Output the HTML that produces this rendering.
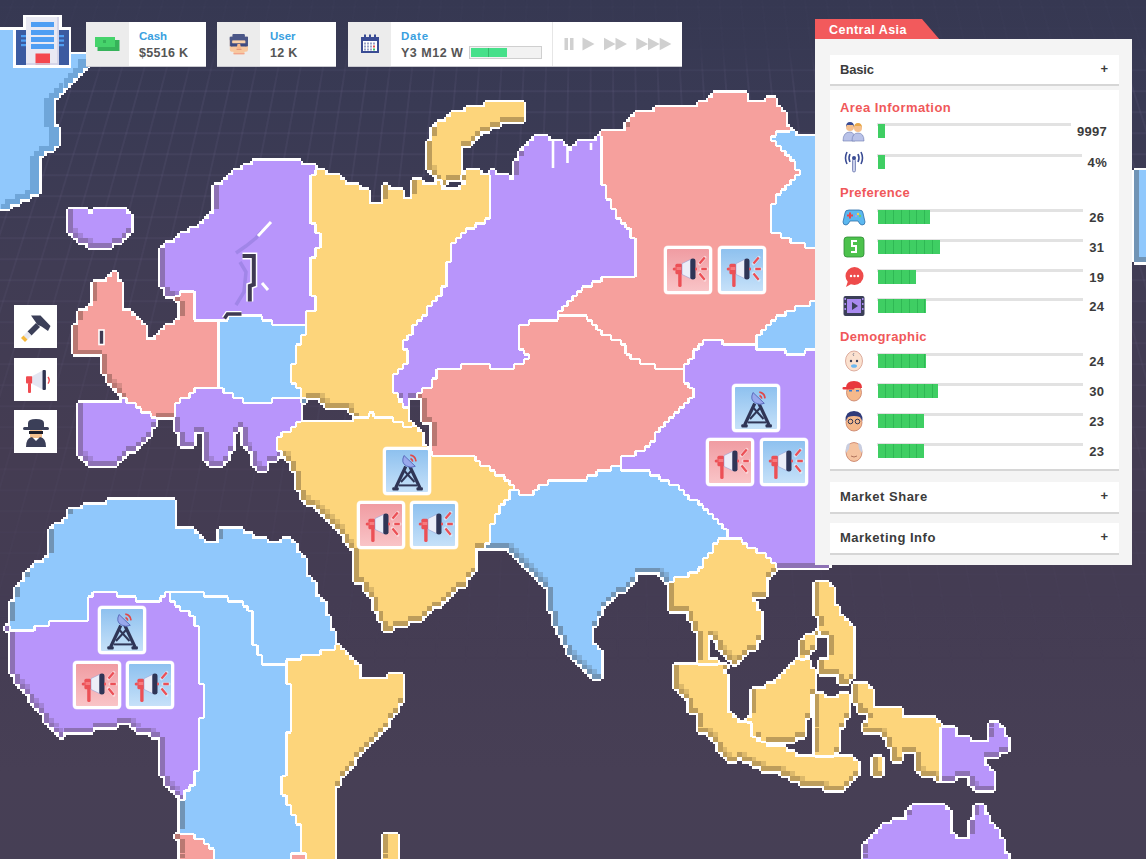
<!DOCTYPE html>
<html><head><meta charset="utf-8">
<style>
*{box-sizing:border-box;margin:0;padding:0}
html,body{width:1146px;height:859px;overflow:hidden}
body{position:relative;font-family:"Liberation Sans",sans-serif;background:linear-gradient(180deg,#363852 0%,#393a54 12%,#403c54 31%,#443c52 52%,#443c53 70%,#473f55 90%,#463f55 100%)}
.abs{position:absolute}
#grid{position:absolute;left:0;top:0}
#map{position:absolute;left:0;top:0}
.hud{position:absolute;top:22px;height:44px;background:#fff;box-shadow:0 1px 0 #c9c9d0}
.hud .ic{position:absolute;left:0;top:0;bottom:0;width:43px;background:#ececec}
.hud .lb{position:absolute;left:53px;top:8.2px;font-size:11.5px;font-weight:bold;color:#3a9fdf}
.hud .vl{position:absolute;left:53px;top:24.3px;font-size:12.5px;letter-spacing:.3px;font-weight:bold;color:#555}
.btn{position:absolute;left:14px;width:43px;height:43px;background:#fff}
.mk{position:absolute;width:48px;height:48px;border-radius:4px;background:#fff;padding:3px}
.mk .in{width:100%;height:100%;border-radius:1px}
.mk{box-shadow:0 0 0 0.5px rgba(255,255,255,.6)}
.mk.p .in{background:linear-gradient(180deg,#f09ca2,#f9c4c7)}
.mk.b .in{background:linear-gradient(180deg,#8ec1ef,#c6e1f9)}

#panel{position:absolute;left:815px;top:39px;width:317px;height:526px;background:#f4f4f4}
#tab{position:absolute;left:815px;top:19px;width:125px;height:21px}
.box{position:absolute;left:15px;width:289px;background:#fff;box-shadow:0 2px 0 #d6d6d6}
.box .t{position:absolute;left:10px;font-size:13px;font-weight:bold;color:#3b3b3b}
.box .pl{position:absolute;right:11px;font-size:13px;font-weight:bold;color:#3b3b3b}
.sec{position:absolute;left:10px;font-size:13px;font-weight:bold;color:#f0585a}
.row{position:absolute;left:0;width:289px;height:16px}
.track{position:absolute;left:47px;top:0;height:3px;background:#e2e2e2}
.fill{position:absolute;left:48px;top:1px;height:14px;background:#3fce63;background-image:repeating-linear-gradient(90deg,rgba(0,0,0,0) 0,rgba(0,0,0,0) 6.9px,rgba(0,120,40,.25) 6.9px,rgba(0,120,40,.25) 7.9px)}
.num{position:absolute;right:12px;top:1px;font-size:13px;letter-spacing:.3px;font-weight:bold;color:#3b3b3b}
.ri{position:absolute;left:12px;top:-4px;width:24px;height:24px}
</style></head><body>
<svg id="grid" width="1146" height="859">
<defs><linearGradient id="gf" x1="0" y1="0" x2="0" y2="1"><stop offset="0.06" stop-color="#fff" stop-opacity="0.2"/><stop offset="0.1" stop-color="#fff" stop-opacity="1"/><stop offset="0.35" stop-color="#fff" stop-opacity="0.75"/><stop offset="0.78" stop-color="#fff" stop-opacity="0"/></linearGradient>
<mask id="gm"><rect width="1146" height="859" fill="url(#gf)"/></mask></defs>
<g stroke="#7a7298" stroke-width="2" stroke-opacity="0.13" mask="url(#gm)">
<line x1="-7.8" y1="0" x2="-340.0" y2="859"/>
<line x1="13.6" y1="0" x2="-306.9" y2="859"/>
<line x1="34.9" y1="0" x2="-273.8" y2="859"/>
<line x1="56.3" y1="0" x2="-240.7" y2="859"/>
<line x1="77.7" y1="0" x2="-207.7" y2="859"/>
<line x1="99.1" y1="0" x2="-174.6" y2="859"/>
<line x1="120.5" y1="0" x2="-141.5" y2="859"/>
<line x1="141.9" y1="0" x2="-108.4" y2="859"/>
<line x1="163.3" y1="0" x2="-75.4" y2="859"/>
<line x1="184.7" y1="0" x2="-42.3" y2="859"/>
<line x1="206.1" y1="0" x2="-9.2" y2="859"/>
<line x1="227.4" y1="0" x2="23.9" y2="859"/>
<line x1="248.8" y1="0" x2="57.0" y2="859"/>
<line x1="270.2" y1="0" x2="90.0" y2="859"/>
<line x1="291.6" y1="0" x2="123.1" y2="859"/>
<line x1="313.0" y1="0" x2="156.2" y2="859"/>
<line x1="334.4" y1="0" x2="189.3" y2="859"/>
<line x1="355.8" y1="0" x2="222.3" y2="859"/>
<line x1="377.2" y1="0" x2="255.4" y2="859"/>
<line x1="398.6" y1="0" x2="288.5" y2="859"/>
<line x1="420.0" y1="0" x2="321.6" y2="859"/>
<line x1="441.3" y1="0" x2="354.6" y2="859"/>
<line x1="462.7" y1="0" x2="387.7" y2="859"/>
<line x1="484.1" y1="0" x2="420.8" y2="859"/>
<line x1="505.5" y1="0" x2="453.9" y2="859"/>
<line x1="526.9" y1="0" x2="487.0" y2="859"/>
<line x1="548.3" y1="0" x2="520.0" y2="859"/>
<line x1="569.7" y1="0" x2="553.1" y2="859"/>
<line x1="591.1" y1="0" x2="586.2" y2="859"/>
<line x1="612.5" y1="0" x2="619.3" y2="859"/>
<line x1="633.8" y1="0" x2="652.3" y2="859"/>
<line x1="655.2" y1="0" x2="685.4" y2="859"/>
<line x1="676.6" y1="0" x2="718.5" y2="859"/>
<line x1="698.0" y1="0" x2="751.6" y2="859"/>
<line x1="719.4" y1="0" x2="784.7" y2="859"/>
<line x1="740.8" y1="0" x2="817.7" y2="859"/>
<line x1="762.2" y1="0" x2="850.8" y2="859"/>
<line x1="783.6" y1="0" x2="883.9" y2="859"/>
<line x1="805.0" y1="0" x2="917.0" y2="859"/>
<line x1="826.4" y1="0" x2="950.0" y2="859"/>
<line x1="847.7" y1="0" x2="983.1" y2="859"/>
<line x1="869.1" y1="0" x2="1016.2" y2="859"/>
<line x1="890.5" y1="0" x2="1049.3" y2="859"/>
<line x1="911.9" y1="0" x2="1082.3" y2="859"/>
<line x1="933.3" y1="0" x2="1115.4" y2="859"/>
<line x1="954.7" y1="0" x2="1148.5" y2="859"/>
<line x1="976.1" y1="0" x2="1181.6" y2="859"/>
<line x1="997.5" y1="0" x2="1214.7" y2="859"/>
<line x1="1018.9" y1="0" x2="1247.7" y2="859"/>
<line x1="1040.2" y1="0" x2="1280.8" y2="859"/>
<line x1="1061.6" y1="0" x2="1313.9" y2="859"/>
<line x1="1083.0" y1="0" x2="1347.0" y2="859"/>
<line x1="1104.4" y1="0" x2="1380.0" y2="859"/>
<line x1="1125.8" y1="0" x2="1413.1" y2="859"/>
<line x1="1147.2" y1="0" x2="1446.2" y2="859"/>
<line x1="0" y1="7.2" x2="1146" y2="7.2"/>
<line x1="0" y1="28.2" x2="1146" y2="28.2"/>
<line x1="0" y1="49.2" x2="1146" y2="49.2"/>
<line x1="0" y1="70.2" x2="1146" y2="70.2"/>
<line x1="0" y1="91.2" x2="1146" y2="91.2"/>
<line x1="0" y1="112.2" x2="1146" y2="112.2"/>
<line x1="0" y1="133.2" x2="1146" y2="133.2"/>
<line x1="0" y1="154.2" x2="1146" y2="154.2"/>
<line x1="0" y1="175.2" x2="1146" y2="175.2"/>
<line x1="0" y1="196.2" x2="1146" y2="196.2"/>
<line x1="0" y1="217.2" x2="1146" y2="217.2"/>
<line x1="0" y1="238.2" x2="1146" y2="238.2"/>
<line x1="0" y1="259.2" x2="1146" y2="259.2"/>
<line x1="0" y1="280.2" x2="1146" y2="280.2"/>
<line x1="0" y1="301.2" x2="1146" y2="301.2"/>
<line x1="0" y1="322.2" x2="1146" y2="322.2"/>
<line x1="0" y1="343.2" x2="1146" y2="343.2"/>
<line x1="0" y1="364.2" x2="1146" y2="364.2"/>
<line x1="0" y1="385.2" x2="1146" y2="385.2"/>
<line x1="0" y1="406.2" x2="1146" y2="406.2"/>
<line x1="0" y1="427.2" x2="1146" y2="427.2"/>
<line x1="0" y1="448.2" x2="1146" y2="448.2"/>
<line x1="0" y1="469.2" x2="1146" y2="469.2"/>
<line x1="0" y1="490.2" x2="1146" y2="490.2"/>
<line x1="0" y1="511.2" x2="1146" y2="511.2"/>
<line x1="0" y1="532.2" x2="1146" y2="532.2"/>
<line x1="0" y1="553.2" x2="1146" y2="553.2"/>
<line x1="0" y1="574.2" x2="1146" y2="574.2"/>
<line x1="0" y1="595.2" x2="1146" y2="595.2"/>
<line x1="0" y1="616.2" x2="1146" y2="616.2"/>
<line x1="0" y1="637.2" x2="1146" y2="637.2"/>
<line x1="0" y1="658.2" x2="1146" y2="658.2"/>
<line x1="0" y1="679.2" x2="1146" y2="679.2"/>
<line x1="0" y1="700.2" x2="1146" y2="700.2"/>
<line x1="0" y1="721.2" x2="1146" y2="721.2"/>
<line x1="0" y1="742.2" x2="1146" y2="742.2"/>
<line x1="0" y1="763.2" x2="1146" y2="763.2"/>
<line x1="0" y1="784.2" x2="1146" y2="784.2"/>
<line x1="0" y1="805.2" x2="1146" y2="805.2"/>
<line x1="0" y1="826.2" x2="1146" y2="826.2"/>
<line x1="0" y1="847.2" x2="1146" y2="847.2"/>
</g>
</svg>
<svg id="map" width="1146" height="859" viewBox="0 0 1146 859" shape-rendering="crispEdges">
<path d="M-9.19 29.68H15.04V34.52H-9.19ZM-9.19 34.52H15.04V39.37H-9.19ZM-9.19 39.37H15.04V44.21H-9.19ZM-9.19 44.21H15.04V49.06H-9.19ZM-9.19 49.06H15.04V53.91H-9.19ZM-9.19 53.91H87.73V58.75H-9.19ZM-9.19 58.75H87.73V63.60H-9.19ZM-9.19 63.60H87.73V68.44H-9.19ZM-9.19 68.44H82.88V73.29H-9.19ZM-9.19 73.29H78.04V78.14H-9.19ZM-9.19 78.14H73.19V82.98H-9.19ZM-9.19 82.98H68.34V87.83H-9.19ZM-9.19 87.83H63.50V92.67H-9.19ZM-9.19 92.67H58.65V97.52H-9.19ZM-9.19 97.52H53.81V102.37H-9.19ZM-9.19 102.37H53.81V107.21H-9.19ZM-9.19 107.21H53.81V112.06H-9.19ZM-9.19 112.06H53.81V116.90H-9.19ZM-9.19 116.90H53.81V121.75H-9.19ZM-9.19 121.75H53.81V126.60H-9.19ZM-9.19 126.60H58.65V131.44H-9.19ZM-9.19 131.44H58.65V136.29H-9.19ZM775.86 131.44H795.24V136.29H775.86ZM-9.19 136.29H58.65V141.13H-9.19ZM771.01 136.29H814.63V141.13H771.01ZM-9.19 141.13H58.65V145.98H-9.19ZM775.86 141.13H814.63V145.98H775.86ZM-9.19 145.98H53.81V150.83H-9.19ZM780.71 145.98H814.63V150.83H780.71ZM-9.19 150.83H44.11V155.67H-9.19ZM785.55 150.83H814.63V155.67H785.55ZM-9.19 155.67H39.27V160.52H-9.19ZM790.40 155.67H814.63V160.52H790.40ZM-9.19 160.52H39.27V165.36H-9.19ZM795.24 160.52H814.63V165.36H795.24ZM-9.19 165.36H39.27V170.21H-9.19ZM795.24 165.36H814.63V170.21H795.24ZM-9.19 170.21H39.27V175.06H-9.19ZM800.09 170.21H814.63V175.06H800.09ZM1134.46 170.21H1149.00V175.06H1134.46ZM-9.19 175.06H39.27V179.90H-9.19ZM795.24 175.06H814.63V179.90H795.24ZM1134.46 175.06H1149.00V179.90H1134.46ZM-9.19 179.90H39.27V184.75H-9.19ZM790.40 179.90H814.63V184.75H790.40ZM1134.46 179.90H1149.00V184.75H1134.46ZM-9.19 184.75H39.27V189.59H-9.19ZM785.55 184.75H814.63V189.59H785.55ZM1134.46 184.75H1149.00V189.59H1134.46ZM-9.19 189.59H39.27V194.44H-9.19ZM780.71 189.59H814.63V194.44H780.71ZM1134.46 189.59H1149.00V194.44H1134.46ZM-9.19 194.44H29.58V199.29H-9.19ZM775.86 194.44H814.63V199.29H775.86ZM1134.46 194.44H1149.00V199.29H1134.46ZM-9.19 199.29H19.88V204.13H-9.19ZM775.86 199.29H814.63V204.13H775.86ZM1134.46 199.29H1149.00V204.13H1134.46ZM-9.19 204.13H10.19V208.98H-9.19ZM771.01 204.13H814.63V208.98H771.01ZM1134.46 204.13H1149.00V208.98H1134.46ZM-9.19 208.98H-4.35V213.82H-9.19ZM771.01 208.98H814.63V213.82H771.01ZM1134.46 208.98H1149.00V213.82H1134.46ZM771.01 213.82H814.63V218.67H771.01ZM1134.46 213.82H1149.00V218.67H1134.46ZM771.01 218.67H814.63V223.52H771.01ZM1134.46 218.67H1149.00V223.52H1134.46ZM771.01 223.52H814.63V228.36H771.01ZM1134.46 223.52H1149.00V228.36H1134.46ZM771.01 228.36H814.63V233.21H771.01ZM1134.46 228.36H1149.00V233.21H1134.46ZM780.71 233.21H814.63V238.05H780.71ZM1134.46 233.21H1149.00V238.05H1134.46ZM790.40 238.05H814.63V242.90H790.40ZM1134.46 238.05H1149.00V242.90H1134.46ZM804.94 242.90H819.47V247.75H804.94ZM1134.46 242.90H1149.00V247.75H1134.46ZM1134.46 247.75H1149.00V252.59H1134.46ZM1134.46 252.59H1149.00V257.44H1134.46ZM1134.46 257.44H1149.00V262.28H1134.46ZM809.78 301.05H814.63V305.90H809.78ZM795.24 305.90H814.63V310.74H795.24ZM785.55 310.74H814.63V315.59H785.55ZM228.26 315.59H262.18V320.44H228.26ZM775.86 315.59H814.63V320.44H775.86ZM218.57 320.44H271.88V325.28H218.57ZM771.01 320.44H814.63V325.28H771.01ZM218.57 325.28H305.80V330.13H218.57ZM766.17 325.28H814.63V330.13H766.17ZM218.57 330.13H305.80V334.97H218.57ZM761.32 330.13H814.63V334.97H761.32ZM218.57 334.97H300.95V339.82H218.57ZM756.48 334.97H814.63V339.82H756.48ZM218.57 339.82H300.95V344.67H218.57ZM756.48 339.82H814.63V344.67H756.48ZM218.57 344.67H296.11V349.51H218.57ZM756.48 344.67H819.47V349.51H756.48ZM218.57 349.51H296.11V354.36H218.57ZM785.55 349.51H804.94V354.36H785.55ZM218.57 354.36H296.11V359.20H218.57ZM218.57 359.20H296.11V364.05H218.57ZM218.57 364.05H291.26V368.90H218.57ZM218.57 368.90H291.26V373.74H218.57ZM218.57 373.74H291.26V378.59H218.57ZM218.57 378.59H291.26V383.43H218.57ZM218.57 383.43H296.11V388.28H218.57ZM223.42 388.28H300.95V393.13H223.42ZM233.11 393.13H300.95V397.97H233.11ZM242.80 397.97H271.88V402.82H242.80ZM300.95 397.97H305.80V402.82H300.95ZM611.10 465.82H620.79V470.66H611.10ZM596.56 470.66H649.86V475.51H596.56ZM586.87 475.51H659.56V480.35H586.87ZM548.10 480.35H669.25V485.20H548.10ZM538.41 485.20H678.94V490.05H538.41ZM509.33 490.05H519.02V494.89H509.33ZM533.56 490.05H683.79V494.89H533.56ZM509.33 494.89H688.63V499.74H509.33ZM107.11 499.74H174.96V504.58H107.11ZM504.48 499.74H698.32V504.58H504.48ZM82.88 504.58H174.96V509.43H82.88ZM499.64 504.58H703.17V509.43H499.64ZM68.34 509.43H174.96V514.28H68.34ZM499.64 509.43H708.02V514.28H499.64ZM68.34 514.28H174.96V519.12H68.34ZM494.79 514.28H712.86V519.12H494.79ZM63.50 519.12H174.96V523.97H63.50ZM494.79 519.12H717.71V523.97H494.79ZM53.81 523.97H174.96V528.81H53.81ZM489.95 523.97H722.55V528.81H489.95ZM48.96 528.81H194.34V533.66H48.96ZM218.57 528.81H242.80V533.66H218.57ZM489.95 528.81H727.40V533.66H489.95ZM48.96 533.66H199.19V538.51H48.96ZM218.57 533.66H252.49V538.51H218.57ZM489.95 533.66H727.40V538.51H489.95ZM48.96 538.51H204.03V543.35H48.96ZM218.57 538.51H267.03V543.35H218.57ZM281.57 538.51H291.26V543.35H281.57ZM489.95 538.51H717.71V543.35H489.95ZM48.96 543.35H296.11V548.20H48.96ZM485.10 543.35H712.86V548.20H485.10ZM48.96 548.20H296.11V553.04H48.96ZM509.33 548.20H712.86V553.04H509.33ZM48.96 553.04H300.95V557.89H48.96ZM514.18 553.04H708.02V557.89H514.18ZM44.11 557.89H305.80V562.74H44.11ZM519.02 557.89H703.17V562.74H519.02ZM34.42 562.74H305.80V567.58H34.42ZM523.87 562.74H703.17V567.58H523.87ZM29.58 567.58H305.80V572.43H29.58ZM528.71 567.58H698.32V572.43H528.71ZM24.73 572.43H305.80V577.27H24.73ZM533.56 572.43H635.33V577.27H533.56ZM659.56 572.43H688.63V577.27H659.56ZM24.73 577.27H310.64V582.12H24.73ZM538.41 577.27H635.33V582.12H538.41ZM664.40 577.27H674.09V582.12H664.40ZM19.88 582.12H315.49V586.97H19.88ZM543.25 582.12H630.48V586.97H543.25ZM15.04 586.97H315.49V591.81H15.04ZM548.10 586.97H625.63V591.81H548.10ZM15.04 591.81H92.57V596.66H15.04ZM116.80 591.81H165.26V596.66H116.80ZM170.11 591.81H315.49V596.66H170.11ZM548.10 591.81H615.94V596.66H548.10ZM15.04 596.66H87.73V601.50H15.04ZM136.19 596.66H160.42V601.50H136.19ZM170.11 596.66H320.34V601.50H170.11ZM548.10 596.66H611.10V601.50H548.10ZM10.19 601.50H87.73V606.35H10.19ZM174.96 601.50H325.18V606.35H174.96ZM548.10 601.50H606.25V606.35H548.10ZM10.19 606.35H87.73V611.20H10.19ZM179.80 606.35H325.18V611.20H179.80ZM548.10 606.35H601.40V611.20H548.10ZM10.19 611.20H87.73V616.04H10.19ZM189.49 611.20H325.18V616.04H189.49ZM552.94 611.20H601.40V616.04H552.94ZM10.19 616.04H87.73V620.89H10.19ZM194.34 616.04H330.03V620.89H194.34ZM552.94 616.04H596.56V620.89H552.94ZM10.19 620.89H48.96V625.73H10.19ZM194.34 620.89H330.03V625.73H194.34ZM552.94 620.89H596.56V625.73H552.94ZM10.19 625.73H34.42V630.58H10.19ZM199.19 625.73H330.03V630.58H199.19ZM557.79 625.73H591.71V630.58H557.79ZM199.19 630.58H334.87V635.43H199.19ZM557.79 630.58H591.71V635.43H557.79ZM199.19 635.43H334.87V640.27H199.19ZM562.64 635.43H591.71V640.27H562.64ZM199.19 640.27H334.87V645.12H199.19ZM562.64 640.27H591.71V645.12H562.64ZM199.19 645.12H334.87V649.96H199.19ZM567.48 645.12H596.56V649.96H567.48ZM199.19 649.96H320.34V654.81H199.19ZM567.48 649.96H601.40V654.81H567.48ZM199.19 654.81H300.95V659.66H199.19ZM572.33 654.81H601.40V659.66H572.33ZM199.19 659.66H286.41V664.50H199.19ZM577.17 659.66H601.40V664.50H577.17ZM199.19 664.50H286.41V669.35H199.19ZM582.02 664.50H601.40V669.35H582.02ZM199.19 669.35H286.41V674.19H199.19ZM586.87 669.35H601.40V674.19H586.87ZM199.19 674.19H286.41V679.04H199.19ZM591.71 674.19H601.40V679.04H591.71ZM199.19 679.04H286.41V683.89H199.19ZM204.03 683.89H291.26V688.73H204.03ZM204.03 688.73H291.26V693.58H204.03ZM204.03 693.58H291.26V698.42H204.03ZM204.03 698.42H291.26V703.27H204.03ZM204.03 703.27H291.26V708.12H204.03ZM204.03 708.12H291.26V712.96H204.03ZM204.03 712.96H291.26V717.81H204.03ZM199.19 717.81H291.26V722.65H199.19ZM199.19 722.65H291.26V727.50H199.19ZM199.19 727.50H291.26V732.35H199.19ZM199.19 732.35H286.41V737.19H199.19ZM199.19 737.19H286.41V742.04H199.19ZM199.19 742.04H286.41V746.88H199.19ZM199.19 746.88H286.41V751.73H199.19ZM199.19 751.73H286.41V756.58H199.19ZM199.19 756.58H286.41V761.42H199.19ZM199.19 761.42H286.41V766.27H199.19ZM199.19 766.27H286.41V771.11H199.19ZM194.34 771.11H286.41V775.96H194.34ZM194.34 775.96H281.57V780.81H194.34ZM194.34 780.81H281.57V785.65H194.34ZM189.49 785.65H281.57V790.50H189.49ZM184.65 790.50H281.57V795.34H184.65ZM184.65 795.34H286.41V800.19H184.65ZM179.80 800.19H286.41V805.04H179.80ZM179.80 805.04H291.26V809.88H179.80ZM179.80 809.88H291.26V814.73H179.80ZM179.80 814.73H296.11V819.57H179.80ZM179.80 819.57H296.11V824.42H179.80ZM179.80 824.42H300.95V829.27H179.80ZM179.80 829.27H300.95V834.11H179.80ZM194.34 834.11H300.95V838.96H194.34ZM204.03 838.96H300.95V843.80H204.03ZM208.88 843.80H300.95V848.65H208.88ZM213.72 848.65H300.95V853.50H213.72ZM213.72 853.50H291.26V858.34H213.72ZM213.72 858.34H291.26V863.19H213.72Z" fill="#90c8fc"/>
<path d="M712.86 92.67H746.78V97.52H712.86ZM708.02 97.52H746.78V102.37H708.02ZM766.17 97.52H775.86V102.37H766.17ZM698.32 102.37H775.86V107.21H698.32ZM654.71 107.21H780.71V112.06H654.71ZM635.33 112.06H785.55V116.90H635.33ZM630.48 116.90H785.55V121.75H630.48ZM625.63 121.75H785.55V126.60H625.63ZM625.63 126.60H790.40V131.44H625.63ZM601.40 131.44H775.86V136.29H601.40ZM601.40 136.29H771.01V141.13H601.40ZM601.40 141.13H775.86V145.98H601.40ZM601.40 145.98H780.71V150.83H601.40ZM601.40 150.83H785.55V155.67H601.40ZM601.40 155.67H790.40V160.52H601.40ZM601.40 160.52H795.24V165.36H601.40ZM601.40 165.36H795.24V170.21H601.40ZM601.40 170.21H800.09V175.06H601.40ZM601.40 175.06H795.24V179.90H601.40ZM601.40 179.90H790.40V184.75H601.40ZM606.25 184.75H785.55V189.59H606.25ZM606.25 189.59H780.71V194.44H606.25ZM606.25 194.44H775.86V199.29H606.25ZM611.10 199.29H775.86V204.13H611.10ZM611.10 204.13H771.01V208.98H611.10ZM615.94 208.98H771.01V213.82H615.94ZM615.94 213.82H771.01V218.67H615.94ZM620.79 218.67H771.01V223.52H620.79ZM625.63 223.52H771.01V228.36H625.63ZM630.48 228.36H771.01V233.21H630.48ZM630.48 233.21H780.71V238.05H630.48ZM635.33 238.05H790.40V242.90H635.33ZM635.33 242.90H804.94V247.75H635.33ZM635.33 247.75H819.47V252.59H635.33ZM635.33 252.59H814.63V257.44H635.33ZM635.33 257.44H814.63V262.28H635.33ZM635.33 262.28H814.63V267.13H635.33ZM635.33 267.13H814.63V271.98H635.33ZM111.96 271.98H116.80V276.82H111.96ZM635.33 271.98H814.63V276.82H635.33ZM107.11 276.82H116.80V281.67H107.11ZM601.40 276.82H814.63V281.67H601.40ZM92.57 281.67H121.65V286.51H92.57ZM591.71 281.67H814.63V286.51H591.71ZM92.57 286.51H121.65V291.36H92.57ZM582.02 286.51H814.63V291.36H582.02ZM92.57 291.36H121.65V296.21H92.57ZM179.80 291.36H194.34V296.21H179.80ZM577.17 291.36H814.63V296.21H577.17ZM92.57 296.21H121.65V301.05H92.57ZM174.96 296.21H194.34V301.05H174.96ZM572.33 296.21H819.47V301.05H572.33ZM92.57 301.05H121.65V305.90H92.57ZM179.80 301.05H194.34V305.90H179.80ZM567.48 301.05H809.78V305.90H567.48ZM87.73 305.90H121.65V310.74H87.73ZM179.80 305.90H194.34V310.74H179.80ZM562.64 305.90H795.24V310.74H562.64ZM78.04 310.74H131.34V315.59H78.04ZM179.80 310.74H194.34V315.59H179.80ZM557.79 310.74H785.55V315.59H557.79ZM78.04 315.59H136.19V320.44H78.04ZM179.80 315.59H194.34V320.44H179.80ZM557.79 315.59H775.86V320.44H557.79ZM78.04 320.44H141.03V325.28H78.04ZM174.96 320.44H218.57V325.28H174.96ZM528.71 320.44H771.01V325.28H528.71ZM73.19 325.28H145.88V330.13H73.19ZM165.26 325.28H218.57V330.13H165.26ZM519.02 325.28H766.17V330.13H519.02ZM73.19 330.13H145.88V334.97H73.19ZM160.42 330.13H218.57V334.97H160.42ZM519.02 330.13H761.32V334.97H519.02ZM73.19 334.97H145.88V339.82H73.19ZM155.57 334.97H218.57V339.82H155.57ZM519.02 334.97H756.48V339.82H519.02ZM73.19 339.82H218.57V344.67H73.19ZM519.02 339.82H703.17V344.67H519.02ZM722.55 339.82H756.48V344.67H722.55ZM73.19 344.67H218.57V349.51H73.19ZM519.02 344.67H698.32V349.51H519.02ZM73.19 349.51H218.57V354.36H73.19ZM523.87 349.51H693.48V354.36H523.87ZM102.27 354.36H218.57V359.20H102.27ZM528.71 354.36H693.48V359.20H528.71ZM102.27 359.20H218.57V364.05H102.27ZM523.87 359.20H688.63V364.05H523.87ZM102.27 364.05H218.57V368.90H102.27ZM460.87 364.05H489.95V368.90H460.87ZM514.18 364.05H683.79V368.90H514.18ZM102.27 368.90H218.57V373.74H102.27ZM436.64 368.90H683.79V373.74H436.64ZM107.11 373.74H218.57V378.59H107.11ZM436.64 373.74H683.79V378.59H436.64ZM107.11 378.59H218.57V383.43H107.11ZM431.79 378.59H683.79V383.43H431.79ZM111.96 383.43H218.57V388.28H111.96ZM431.79 383.43H688.63V388.28H431.79ZM116.80 388.28H194.34V393.13H116.80ZM422.10 388.28H693.48V393.13H422.10ZM121.65 393.13H189.49V397.97H121.65ZM417.26 393.13H693.48V397.97H417.26ZM126.50 397.97H179.80V402.82H126.50ZM422.10 397.97H688.63V402.82H422.10ZM136.19 402.82H174.96V407.66H136.19ZM422.10 402.82H683.79V407.66H422.10ZM141.03 407.66H174.96V412.51H141.03ZM422.10 407.66H678.94V412.51H422.10ZM150.73 412.51H174.96V417.36H150.73ZM422.10 412.51H674.09V417.36H422.10ZM422.10 417.36H669.25V422.20H422.10ZM431.79 422.20H664.40V427.05H431.79ZM431.79 427.05H659.56V431.89H431.79ZM431.79 431.89H654.71V436.74H431.79ZM431.79 436.74H654.71V441.59H431.79ZM431.79 441.59H649.86V446.43H431.79ZM431.79 446.43H645.02V451.28H431.79ZM431.79 451.28H635.33V456.12H431.79ZM475.41 456.12H620.79V460.97H475.41ZM480.25 460.97H620.79V465.82H480.25ZM489.95 465.82H611.10V470.66H489.95ZM494.79 470.66H596.56V475.51H494.79ZM504.48 475.51H586.87V480.35H504.48ZM509.33 480.35H548.10V485.20H509.33ZM514.18 485.20H538.41V490.05H514.18ZM519.02 490.05H533.56V494.89H519.02ZM174.96 834.11H194.34V838.96H174.96ZM179.80 838.96H204.03V843.80H179.80ZM179.80 843.80H208.88V848.65H179.80ZM179.80 848.65H213.72V853.50H179.80ZM179.80 853.50H213.72V858.34H179.80ZM291.26 853.50H305.80V858.34H291.26ZM179.80 858.34H213.72V863.19H179.80ZM291.26 858.34H305.80V863.19H291.26Z" fill="#f6a09d"/>
<path d="M485.10 102.37H523.87V107.21H485.10ZM465.72 107.21H523.87V112.06H465.72ZM451.18 112.06H523.87V116.90H451.18ZM446.33 116.90H523.87V121.75H446.33ZM436.64 121.75H499.64V126.60H436.64ZM431.79 126.60H489.95V131.44H431.79ZM431.79 131.44H480.25V136.29H431.79ZM431.79 136.29H475.41V141.13H431.79ZM426.95 141.13H470.56V145.98H426.95ZM426.95 145.98H460.87V150.83H426.95ZM426.95 150.83H460.87V155.67H426.95ZM426.95 155.67H460.87V160.52H426.95ZM426.95 160.52H460.87V165.36H426.95ZM426.95 165.36H460.87V170.21H426.95ZM315.49 170.21H325.18V175.06H315.49ZM431.79 170.21H460.87V175.06H431.79ZM465.72 170.21H480.25V175.06H465.72ZM310.64 175.06H339.72V179.90H310.64ZM436.64 175.06H489.95V179.90H436.64ZM310.64 179.90H344.57V184.75H310.64ZM412.41 179.90H422.10V184.75H412.41ZM436.64 179.90H446.33V184.75H436.64ZM465.72 179.90H489.95V184.75H465.72ZM310.64 184.75H359.10V189.59H310.64ZM383.33 184.75H388.18V189.59H383.33ZM412.41 184.75H441.49V189.59H412.41ZM460.87 184.75H489.95V189.59H460.87ZM310.64 189.59H368.80V194.44H310.64ZM383.33 189.59H402.72V194.44H383.33ZM412.41 189.59H489.95V194.44H412.41ZM310.64 194.44H368.80V199.29H310.64ZM383.33 194.44H402.72V199.29H383.33ZM412.41 194.44H489.95V199.29H412.41ZM310.64 199.29H368.80V204.13H310.64ZM383.33 199.29H489.95V204.13H383.33ZM310.64 204.13H489.95V208.98H310.64ZM310.64 208.98H489.95V213.82H310.64ZM310.64 213.82H489.95V218.67H310.64ZM310.64 218.67H485.10V223.52H310.64ZM315.49 223.52H475.41V228.36H315.49ZM315.49 228.36H465.72V233.21H315.49ZM320.34 233.21H460.87V238.05H320.34ZM320.34 238.05H456.02V242.90H320.34ZM320.34 242.90H451.18V247.75H320.34ZM315.49 247.75H451.18V252.59H315.49ZM315.49 252.59H451.18V257.44H315.49ZM310.64 257.44H451.18V262.28H310.64ZM310.64 262.28H446.33V267.13H310.64ZM310.64 267.13H446.33V271.98H310.64ZM310.64 271.98H446.33V276.82H310.64ZM310.64 276.82H446.33V281.67H310.64ZM310.64 281.67H446.33V286.51H310.64ZM310.64 286.51H441.49V291.36H310.64ZM310.64 291.36H441.49V296.21H310.64ZM315.49 296.21H436.64V301.05H315.49ZM315.49 301.05H431.79V305.90H315.49ZM315.49 305.90H426.95V310.74H315.49ZM305.80 310.74H426.95V315.59H305.80ZM305.80 315.59H422.10V320.44H305.80ZM305.80 320.44H417.26V325.28H305.80ZM305.80 325.28H412.41V330.13H305.80ZM305.80 330.13H412.41V334.97H305.80ZM300.95 334.97H407.56V339.82H300.95ZM300.95 339.82H402.72V344.67H300.95ZM296.11 344.67H402.72V349.51H296.11ZM296.11 349.51H407.56V354.36H296.11ZM296.11 354.36H407.56V359.20H296.11ZM296.11 359.20H407.56V364.05H296.11ZM291.26 364.05H402.72V368.90H291.26ZM291.26 368.90H397.87V373.74H291.26ZM291.26 373.74H393.03V378.59H291.26ZM291.26 378.59H393.03V383.43H291.26ZM296.11 383.43H393.03V388.28H296.11ZM300.95 388.28H393.03V393.13H300.95ZM300.95 393.13H397.87V397.97H300.95ZM320.34 397.97H397.87V402.82H320.34ZM325.18 402.82H402.72V407.66H325.18ZM349.41 407.66H407.56V412.51H349.41ZM354.26 412.51H407.56V417.36H354.26ZM354.26 417.36H407.56V422.20H354.26ZM296.11 422.20H412.41V427.05H296.11ZM291.26 427.05H417.26V431.89H291.26ZM281.57 431.89H422.10V436.74H281.57ZM276.72 436.74H422.10V441.59H276.72ZM276.72 441.59H422.10V446.43H276.72ZM276.72 446.43H426.95V451.28H276.72ZM281.57 451.28H431.79V456.12H281.57ZM286.41 456.12H475.41V460.97H286.41ZM291.26 460.97H480.25V465.82H291.26ZM291.26 465.82H489.95V470.66H291.26ZM296.11 470.66H494.79V475.51H296.11ZM296.11 475.51H504.48V480.35H296.11ZM296.11 480.35H509.33V485.20H296.11ZM296.11 485.20H514.18V490.05H296.11ZM300.95 490.05H509.33V494.89H300.95ZM300.95 494.89H509.33V499.74H300.95ZM305.80 499.74H504.48V504.58H305.80ZM315.49 504.58H499.64V509.43H315.49ZM320.34 509.43H499.64V514.28H320.34ZM325.18 514.28H494.79V519.12H325.18ZM330.03 519.12H494.79V523.97H330.03ZM334.87 523.97H489.95V528.81H334.87ZM339.72 528.81H489.95V533.66H339.72ZM344.57 533.66H489.95V538.51H344.57ZM344.57 538.51H489.95V543.35H344.57ZM717.71 538.51H741.94V543.35H717.71ZM349.41 543.35H485.10V548.20H349.41ZM712.86 543.35H746.78V548.20H712.86ZM354.26 548.20H475.41V553.04H354.26ZM712.86 548.20H756.48V553.04H712.86ZM354.26 553.04H475.41V557.89H354.26ZM708.02 553.04H766.17V557.89H708.02ZM354.26 557.89H475.41V562.74H354.26ZM703.17 557.89H771.01V562.74H703.17ZM354.26 562.74H475.41V567.58H354.26ZM703.17 562.74H775.86V567.58H703.17ZM354.26 567.58H475.41V572.43H354.26ZM698.32 567.58H775.86V572.43H698.32ZM354.26 572.43H470.56V577.27H354.26ZM688.63 572.43H771.01V577.27H688.63ZM354.26 577.27H465.72V582.12H354.26ZM674.09 577.27H766.17V582.12H674.09ZM363.95 582.12H465.72V586.97H363.95ZM669.25 582.12H766.17V586.97H669.25ZM814.63 582.12H829.17V586.97H814.63ZM363.95 586.97H456.02V591.81H363.95ZM669.25 586.97H766.17V591.81H669.25ZM814.63 586.97H834.01V591.81H814.63ZM368.80 591.81H451.18V596.66H368.80ZM669.25 591.81H766.17V596.66H669.25ZM814.63 591.81H834.01V596.66H814.63ZM373.64 596.66H446.33V601.50H373.64ZM669.25 596.66H751.63V601.50H669.25ZM814.63 596.66H834.01V601.50H814.63ZM373.64 601.50H441.49V606.35H373.64ZM669.25 601.50H756.48V606.35H669.25ZM814.63 601.50H834.01V606.35H814.63ZM373.64 606.35H431.79V611.20H373.64ZM669.25 606.35H756.48V611.20H669.25ZM814.63 606.35H838.86V611.20H814.63ZM378.49 611.20H426.95V616.04H378.49ZM688.63 611.20H761.32V616.04H688.63ZM814.63 611.20H838.86V616.04H814.63ZM378.49 616.04H422.10V620.89H378.49ZM688.63 616.04H761.32V620.89H688.63ZM819.47 616.04H843.70V620.89H819.47ZM383.33 620.89H407.56V625.73H383.33ZM693.48 620.89H761.32V625.73H693.48ZM819.47 620.89H848.55V625.73H819.47ZM383.33 625.73H393.03V630.58H383.33ZM693.48 625.73H761.32V630.58H693.48ZM819.47 625.73H853.40V630.58H819.47ZM698.32 630.58H761.32V635.43H698.32ZM814.63 630.58H853.40V635.43H814.63ZM698.32 635.43H708.02V640.27H698.32ZM712.86 635.43H761.32V640.27H712.86ZM804.94 635.43H814.63V640.27H804.94ZM829.17 635.43H853.40V640.27H829.17ZM698.32 640.27H708.02V645.12H698.32ZM717.71 640.27H756.48V645.12H717.71ZM800.09 640.27H814.63V645.12H800.09ZM829.17 640.27H853.40V645.12H829.17ZM334.87 645.12H339.72V649.96H334.87ZM698.32 645.12H708.02V649.96H698.32ZM717.71 645.12H756.48V649.96H717.71ZM800.09 645.12H814.63V649.96H800.09ZM829.17 645.12H853.40V649.96H829.17ZM320.34 649.96H344.57V654.81H320.34ZM698.32 649.96H708.02V654.81H698.32ZM722.55 649.96H746.78V654.81H722.55ZM800.09 649.96H809.78V654.81H800.09ZM829.17 649.96H853.40V654.81H829.17ZM300.95 654.81H349.41V659.66H300.95ZM698.32 654.81H708.02V659.66H698.32ZM727.40 654.81H741.94V659.66H727.40ZM800.09 654.81H804.94V659.66H800.09ZM829.17 654.81H853.40V659.66H829.17ZM286.41 659.66H354.26V664.50H286.41ZM698.32 659.66H717.71V664.50H698.32ZM732.25 659.66H737.09V664.50H732.25ZM795.24 659.66H809.78V664.50H795.24ZM819.47 659.66H853.40V664.50H819.47ZM286.41 664.50H359.10V669.35H286.41ZM674.09 664.50H727.40V669.35H674.09ZM790.40 664.50H809.78V669.35H790.40ZM819.47 664.50H853.40V669.35H819.47ZM286.41 669.35H359.10V674.19H286.41ZM674.09 669.35H722.55V674.19H674.09ZM785.55 669.35H814.63V674.19H785.55ZM819.47 669.35H853.40V674.19H819.47ZM286.41 674.19H359.10V679.04H286.41ZM388.18 674.19H402.72V679.04H388.18ZM674.09 674.19H727.40V679.04H674.09ZM780.71 674.19H814.63V679.04H780.71ZM838.86 674.19H853.40V679.04H838.86ZM286.41 679.04H402.72V683.89H286.41ZM674.09 679.04H727.40V683.89H674.09ZM775.86 679.04H814.63V683.89H775.86ZM838.86 679.04H848.55V683.89H838.86ZM291.26 683.89H402.72V688.73H291.26ZM674.09 683.89H727.40V688.73H674.09ZM766.17 683.89H814.63V688.73H766.17ZM853.40 683.89H867.93V688.73H853.40ZM291.26 688.73H402.72V693.58H291.26ZM678.94 688.73H727.40V693.58H678.94ZM751.63 688.73H814.63V693.58H751.63ZM853.40 688.73H872.78V693.58H853.40ZM291.26 693.58H402.72V698.42H291.26ZM683.79 693.58H727.40V698.42H683.79ZM751.63 693.58H809.78V698.42H751.63ZM814.63 693.58H824.32V698.42H814.63ZM838.86 693.58H848.55V698.42H838.86ZM853.40 693.58H872.78V698.42H853.40ZM291.26 698.42H402.72V703.27H291.26ZM688.63 698.42H727.40V703.27H688.63ZM751.63 698.42H809.78V703.27H751.63ZM814.63 698.42H848.55V703.27H814.63ZM853.40 698.42H872.78V703.27H853.40ZM291.26 703.27H397.87V708.12H291.26ZM688.63 703.27H727.40V708.12H688.63ZM751.63 703.27H809.78V708.12H751.63ZM814.63 703.27H848.55V708.12H814.63ZM858.24 703.27H872.78V708.12H858.24ZM291.26 708.12H397.87V712.96H291.26ZM688.63 708.12H727.40V712.96H688.63ZM751.63 708.12H809.78V712.96H751.63ZM814.63 708.12H848.55V712.96H814.63ZM858.24 708.12H901.86V712.96H858.24ZM291.26 712.96H393.03V717.81H291.26ZM698.32 712.96H732.25V717.81H698.32ZM751.63 712.96H809.78V717.81H751.63ZM814.63 712.96H848.55V717.81H814.63ZM867.93 712.96H901.86V717.81H867.93ZM291.26 717.81H388.18V722.65H291.26ZM698.32 717.81H737.09V722.65H698.32ZM746.78 717.81H804.94V722.65H746.78ZM814.63 717.81H843.70V722.65H814.63ZM867.93 717.81H935.78V722.65H867.93ZM291.26 722.65H388.18V727.50H291.26ZM698.32 722.65H804.94V727.50H698.32ZM814.63 722.65H843.70V727.50H814.63ZM863.09 722.65H940.62V727.50H863.09ZM291.26 727.50H383.33V732.35H291.26ZM698.32 727.50H804.94V732.35H698.32ZM814.63 727.50H838.86V732.35H814.63ZM863.09 727.50H940.62V732.35H863.09ZM286.41 732.35H378.49V737.19H286.41ZM708.02 732.35H804.94V737.19H708.02ZM814.63 732.35H838.86V737.19H814.63ZM882.47 732.35H940.62V737.19H882.47ZM286.41 737.19H373.64V742.04H286.41ZM712.86 737.19H756.48V742.04H712.86ZM761.32 737.19H795.24V742.04H761.32ZM814.63 737.19H838.86V742.04H814.63ZM887.32 737.19H940.62V742.04H887.32ZM286.41 742.04H368.80V746.88H286.41ZM717.71 742.04H766.17V746.88H717.71ZM814.63 742.04H838.86V746.88H814.63ZM887.32 742.04H940.62V746.88H887.32ZM286.41 746.88H363.95V751.73H286.41ZM717.71 746.88H785.55V751.73H717.71ZM814.63 746.88H838.86V751.73H814.63ZM892.16 746.88H940.62V751.73H892.16ZM286.41 751.73H359.10V756.58H286.41ZM722.55 751.73H795.24V756.58H722.55ZM814.63 751.73H834.01V756.58H814.63ZM892.16 751.73H901.86V756.58H892.16ZM916.39 751.73H940.62V756.58H916.39ZM286.41 756.58H354.26V761.42H286.41ZM727.40 756.58H737.09V761.42H727.40ZM741.94 756.58H853.40V761.42H741.94ZM872.78 756.58H882.47V761.42H872.78ZM892.16 756.58H901.86V761.42H892.16ZM916.39 756.58H940.62V761.42H916.39ZM286.41 761.42H354.26V766.27H286.41ZM751.63 761.42H858.24V766.27H751.63ZM872.78 761.42H882.47V766.27H872.78ZM916.39 761.42H940.62V766.27H916.39ZM286.41 766.27H349.41V771.11H286.41ZM761.32 766.27H858.24V771.11H761.32ZM872.78 766.27H882.47V771.11H872.78ZM916.39 766.27H940.62V771.11H916.39ZM286.41 771.11H344.57V775.96H286.41ZM780.71 771.11H858.24V775.96H780.71ZM872.78 771.11H882.47V775.96H872.78ZM921.24 771.11H940.62V775.96H921.24ZM281.57 775.96H339.72V780.81H281.57ZM790.40 775.96H853.40V780.81H790.40ZM935.78 775.96H940.62V780.81H935.78ZM281.57 780.81H339.72V785.65H281.57ZM800.09 780.81H848.55V785.65H800.09ZM281.57 785.65H334.87V790.50H281.57ZM824.32 785.65H843.70V790.50H824.32ZM281.57 790.50H334.87V795.34H281.57ZM286.41 795.34H334.87V800.19H286.41ZM286.41 800.19H334.87V805.04H286.41ZM291.26 805.04H334.87V809.88H291.26ZM291.26 809.88H334.87V814.73H291.26ZM296.11 814.73H334.87V819.57H296.11ZM296.11 819.57H334.87V824.42H296.11ZM300.95 824.42H334.87V829.27H300.95ZM300.95 829.27H334.87V834.11H300.95ZM300.95 834.11H334.87V838.96H300.95ZM383.33 834.11H397.87V838.96H383.33ZM300.95 838.96H334.87V843.80H300.95ZM383.33 838.96H397.87V843.80H383.33ZM300.95 843.80H334.87V848.65H300.95ZM383.33 843.80H397.87V848.65H383.33ZM300.95 848.65H334.87V853.50H300.95ZM383.33 848.65H397.87V853.50H383.33ZM305.80 853.50H334.87V858.34H305.80ZM383.33 853.50H397.87V858.34H383.33ZM305.80 858.34H334.87V863.19H305.80ZM383.33 858.34H397.87V863.19H383.33Z" fill="#fdd57b"/>
<path d="M533.56 136.29H548.10V141.13H533.56ZM596.56 136.29H601.40V141.13H596.56ZM528.71 141.13H562.64V145.98H528.71ZM577.17 141.13H601.40V145.98H577.17ZM523.87 145.98H567.48V150.83H523.87ZM572.33 145.98H601.40V150.83H572.33ZM519.02 150.83H601.40V155.67H519.02ZM519.02 155.67H601.40V160.52H519.02ZM252.49 160.52H300.95V165.36H252.49ZM514.18 160.52H601.40V165.36H514.18ZM242.80 165.36H315.49V170.21H242.80ZM514.18 165.36H601.40V170.21H514.18ZM233.11 170.21H315.49V175.06H233.11ZM489.95 170.21H494.79V175.06H489.95ZM514.18 170.21H601.40V175.06H514.18ZM228.26 175.06H310.64V179.90H228.26ZM489.95 175.06H509.33V179.90H489.95ZM514.18 175.06H601.40V179.90H514.18ZM223.42 179.90H310.64V184.75H223.42ZM489.95 179.90H601.40V184.75H489.95ZM213.72 184.75H310.64V189.59H213.72ZM489.95 184.75H606.25V189.59H489.95ZM213.72 189.59H310.64V194.44H213.72ZM489.95 189.59H606.25V194.44H489.95ZM213.72 194.44H310.64V199.29H213.72ZM489.95 194.44H606.25V199.29H489.95ZM213.72 199.29H310.64V204.13H213.72ZM489.95 199.29H611.10V204.13H489.95ZM213.72 204.13H310.64V208.98H213.72ZM489.95 204.13H611.10V208.98H489.95ZM68.34 208.98H87.73V213.82H68.34ZM92.57 208.98H126.50V213.82H92.57ZM213.72 208.98H310.64V213.82H213.72ZM489.95 208.98H615.94V213.82H489.95ZM68.34 213.82H131.34V218.67H68.34ZM208.88 213.82H310.64V218.67H208.88ZM489.95 213.82H615.94V218.67H489.95ZM68.34 218.67H131.34V223.52H68.34ZM204.03 218.67H310.64V223.52H204.03ZM485.10 218.67H620.79V223.52H485.10ZM68.34 223.52H131.34V228.36H68.34ZM199.19 223.52H315.49V228.36H199.19ZM475.41 223.52H625.63V228.36H475.41ZM68.34 228.36H131.34V233.21H68.34ZM189.49 228.36H315.49V233.21H189.49ZM465.72 228.36H630.48V233.21H465.72ZM73.19 233.21H126.50V238.05H73.19ZM179.80 233.21H320.34V238.05H179.80ZM460.87 233.21H630.48V238.05H460.87ZM78.04 238.05H121.65V242.90H78.04ZM174.96 238.05H320.34V242.90H174.96ZM456.02 238.05H635.33V242.90H456.02ZM87.73 242.90H111.96V247.75H87.73ZM165.26 242.90H320.34V247.75H165.26ZM451.18 242.90H635.33V247.75H451.18ZM160.42 247.75H315.49V252.59H160.42ZM451.18 247.75H635.33V252.59H451.18ZM160.42 252.59H315.49V257.44H160.42ZM451.18 252.59H635.33V257.44H451.18ZM160.42 257.44H310.64V262.28H160.42ZM451.18 257.44H635.33V262.28H451.18ZM160.42 262.28H310.64V267.13H160.42ZM446.33 262.28H635.33V267.13H446.33ZM160.42 267.13H310.64V271.98H160.42ZM446.33 267.13H635.33V271.98H446.33ZM160.42 271.98H310.64V276.82H160.42ZM446.33 271.98H635.33V276.82H446.33ZM160.42 276.82H310.64V281.67H160.42ZM446.33 276.82H601.40V281.67H446.33ZM160.42 281.67H310.64V286.51H160.42ZM446.33 281.67H591.71V286.51H446.33ZM165.26 286.51H310.64V291.36H165.26ZM441.49 286.51H582.02V291.36H441.49ZM165.26 291.36H179.80V296.21H165.26ZM194.34 291.36H310.64V296.21H194.34ZM441.49 291.36H577.17V296.21H441.49ZM194.34 296.21H315.49V301.05H194.34ZM436.64 296.21H572.33V301.05H436.64ZM194.34 301.05H315.49V305.90H194.34ZM431.79 301.05H567.48V305.90H431.79ZM194.34 305.90H315.49V310.74H194.34ZM426.95 305.90H562.64V310.74H426.95ZM194.34 310.74H305.80V315.59H194.34ZM426.95 310.74H557.79V315.59H426.95ZM194.34 315.59H228.26V320.44H194.34ZM262.18 315.59H305.80V320.44H262.18ZM422.10 315.59H557.79V320.44H422.10ZM271.88 320.44H305.80V325.28H271.88ZM417.26 320.44H528.71V325.28H417.26ZM412.41 325.28H519.02V330.13H412.41ZM412.41 330.13H519.02V334.97H412.41ZM407.56 334.97H519.02V339.82H407.56ZM402.72 339.82H519.02V344.67H402.72ZM703.17 339.82H722.55V344.67H703.17ZM402.72 344.67H519.02V349.51H402.72ZM698.32 344.67H756.48V349.51H698.32ZM407.56 349.51H523.87V354.36H407.56ZM693.48 349.51H785.55V354.36H693.48ZM804.94 349.51H814.63V354.36H804.94ZM407.56 354.36H528.71V359.20H407.56ZM693.48 354.36H814.63V359.20H693.48ZM407.56 359.20H523.87V364.05H407.56ZM688.63 359.20H814.63V364.05H688.63ZM402.72 364.05H460.87V368.90H402.72ZM489.95 364.05H514.18V368.90H489.95ZM683.79 364.05H814.63V368.90H683.79ZM397.87 368.90H436.64V373.74H397.87ZM683.79 368.90H814.63V373.74H683.79ZM393.03 373.74H436.64V378.59H393.03ZM683.79 373.74H814.63V378.59H683.79ZM393.03 378.59H431.79V383.43H393.03ZM683.79 378.59H814.63V383.43H683.79ZM393.03 383.43H431.79V388.28H393.03ZM688.63 383.43H814.63V388.28H688.63ZM194.34 388.28H223.42V393.13H194.34ZM393.03 388.28H422.10V393.13H393.03ZM693.48 388.28H814.63V393.13H693.48ZM189.49 393.13H233.11V397.97H189.49ZM397.87 393.13H417.26V397.97H397.87ZM693.48 393.13H814.63V397.97H693.48ZM121.65 397.97H126.50V402.82H121.65ZM179.80 397.97H242.80V402.82H179.80ZM271.88 397.97H300.95V402.82H271.88ZM402.72 397.97H407.56V402.82H402.72ZM688.63 397.97H814.63V402.82H688.63ZM78.04 402.82H136.19V407.66H78.04ZM174.96 402.82H300.95V407.66H174.96ZM402.72 402.82H407.56V407.66H402.72ZM683.79 402.82H814.63V407.66H683.79ZM78.04 407.66H141.03V412.51H78.04ZM174.96 407.66H300.95V412.51H174.96ZM678.94 407.66H814.63V412.51H678.94ZM78.04 412.51H150.73V417.36H78.04ZM174.96 412.51H300.95V417.36H174.96ZM674.09 412.51H814.63V417.36H674.09ZM78.04 417.36H155.57V422.20H78.04ZM174.96 417.36H300.95V422.20H174.96ZM669.25 417.36H814.63V422.20H669.25ZM78.04 422.20H155.57V427.05H78.04ZM174.96 422.20H296.11V427.05H174.96ZM664.40 422.20H814.63V427.05H664.40ZM78.04 427.05H150.73V431.89H78.04ZM174.96 427.05H237.95V431.89H174.96ZM242.80 427.05H291.26V431.89H242.80ZM659.56 427.05H814.63V431.89H659.56ZM78.04 431.89H150.73V436.74H78.04ZM179.80 431.89H194.34V436.74H179.80ZM204.03 431.89H233.11V436.74H204.03ZM242.80 431.89H281.57V436.74H242.80ZM654.71 431.89H814.63V436.74H654.71ZM78.04 436.74H145.88V441.59H78.04ZM179.80 436.74H194.34V441.59H179.80ZM204.03 436.74H233.11V441.59H204.03ZM242.80 436.74H276.72V441.59H242.80ZM654.71 436.74H814.63V441.59H654.71ZM78.04 441.59H141.03V446.43H78.04ZM179.80 441.59H194.34V446.43H179.80ZM204.03 441.59H233.11V446.43H204.03ZM242.80 441.59H276.72V446.43H242.80ZM649.86 441.59H814.63V446.43H649.86ZM78.04 446.43H136.19V451.28H78.04ZM204.03 446.43H233.11V451.28H204.03ZM247.65 446.43H276.72V451.28H247.65ZM645.02 446.43H814.63V451.28H645.02ZM78.04 451.28H126.50V456.12H78.04ZM204.03 451.28H228.26V456.12H204.03ZM252.49 451.28H281.57V456.12H252.49ZM635.33 451.28H814.63V456.12H635.33ZM82.88 456.12H121.65V460.97H82.88ZM204.03 456.12H228.26V460.97H204.03ZM252.49 456.12H276.72V460.97H252.49ZM620.79 456.12H814.63V460.97H620.79ZM87.73 460.97H116.80V465.82H87.73ZM208.88 460.97H223.42V465.82H208.88ZM252.49 460.97H267.03V465.82H252.49ZM620.79 460.97H814.63V465.82H620.79ZM257.34 465.82H267.03V470.66H257.34ZM620.79 465.82H814.63V470.66H620.79ZM649.86 470.66H814.63V475.51H649.86ZM659.56 475.51H814.63V480.35H659.56ZM669.25 480.35H814.63V485.20H669.25ZM678.94 485.20H814.63V490.05H678.94ZM683.79 490.05H814.63V494.89H683.79ZM688.63 494.89H814.63V499.74H688.63ZM698.32 499.74H814.63V504.58H698.32ZM703.17 504.58H814.63V509.43H703.17ZM708.02 509.43H814.63V514.28H708.02ZM712.86 514.28H814.63V519.12H712.86ZM717.71 519.12H814.63V523.97H717.71ZM722.55 523.97H814.63V528.81H722.55ZM727.40 528.81H814.63V533.66H727.40ZM727.40 533.66H814.63V538.51H727.40ZM741.94 538.51H814.63V543.35H741.94ZM746.78 543.35H814.63V548.20H746.78ZM756.48 548.20H814.63V553.04H756.48ZM766.17 553.04H829.17V557.89H766.17ZM771.01 557.89H829.17V562.74H771.01ZM775.86 562.74H829.17V567.58H775.86ZM92.57 591.81H116.80V596.66H92.57ZM165.26 591.81H170.11V596.66H165.26ZM87.73 596.66H136.19V601.50H87.73ZM160.42 596.66H170.11V601.50H160.42ZM87.73 601.50H174.96V606.35H87.73ZM87.73 606.35H179.80V611.20H87.73ZM87.73 611.20H189.49V616.04H87.73ZM87.73 616.04H194.34V620.89H87.73ZM48.96 620.89H194.34V625.73H48.96ZM5.35 625.73H10.19V630.58H5.35ZM34.42 625.73H199.19V630.58H34.42ZM10.19 630.58H199.19V635.43H10.19ZM10.19 635.43H199.19V640.27H10.19ZM10.19 640.27H199.19V645.12H10.19ZM10.19 645.12H199.19V649.96H10.19ZM10.19 649.96H199.19V654.81H10.19ZM10.19 654.81H199.19V659.66H10.19ZM10.19 659.66H199.19V664.50H10.19ZM10.19 664.50H199.19V669.35H10.19ZM10.19 669.35H199.19V674.19H10.19ZM15.04 674.19H199.19V679.04H15.04ZM15.04 679.04H199.19V683.89H15.04ZM19.88 683.89H204.03V688.73H19.88ZM24.73 688.73H204.03V693.58H24.73ZM29.58 693.58H204.03V698.42H29.58ZM29.58 698.42H204.03V703.27H29.58ZM34.42 703.27H204.03V708.12H34.42ZM39.27 708.12H204.03V712.96H39.27ZM44.11 712.96H204.03V717.81H44.11ZM44.11 717.81H199.19V722.65H44.11ZM48.96 722.65H116.80V727.50H48.96ZM131.34 722.65H199.19V727.50H131.34ZM989.08 722.65H998.78V727.50H989.08ZM53.81 727.50H92.57V732.35H53.81ZM136.19 727.50H199.19V732.35H136.19ZM940.62 727.50H955.16V732.35H940.62ZM989.08 727.50H1003.62V732.35H989.08ZM58.65 732.35H63.50V737.19H58.65ZM150.73 732.35H199.19V737.19H150.73ZM940.62 732.35H955.16V737.19H940.62ZM989.08 732.35H1003.62V737.19H989.08ZM160.42 737.19H199.19V742.04H160.42ZM940.62 737.19H969.70V742.04H940.62ZM989.08 737.19H1008.47V742.04H989.08ZM160.42 742.04H199.19V746.88H160.42ZM940.62 742.04H1008.47V746.88H940.62ZM160.42 746.88H199.19V751.73H160.42ZM940.62 746.88H1008.47V751.73H940.62ZM160.42 751.73H199.19V756.58H160.42ZM940.62 751.73H998.78V756.58H940.62ZM160.42 756.58H199.19V761.42H160.42ZM940.62 756.58H984.24V761.42H940.62ZM160.42 761.42H199.19V766.27H160.42ZM940.62 761.42H984.24V766.27H940.62ZM160.42 766.27H199.19V771.11H160.42ZM940.62 766.27H989.08V771.11H940.62ZM160.42 771.11H194.34V775.96H160.42ZM940.62 771.11H993.93V775.96H940.62ZM165.26 775.96H194.34V780.81H165.26ZM940.62 775.96H955.16V780.81H940.62ZM969.70 775.96H993.93V780.81H969.70ZM165.26 780.81H194.34V785.65H165.26ZM969.70 780.81H993.93V785.65H969.70ZM170.11 785.65H189.49V790.50H170.11ZM974.55 785.65H993.93V790.50H974.55ZM174.96 790.50H184.65V795.34H174.96ZM179.80 795.34H184.65V800.19H179.80ZM911.55 805.04H945.47V809.88H911.55ZM974.55 805.04H984.24V809.88H974.55ZM906.70 809.88H950.32V814.73H906.70ZM974.55 809.88H984.24V814.73H974.55ZM906.70 814.73H950.32V819.57H906.70ZM974.55 814.73H989.08V819.57H974.55ZM892.16 819.57H950.32V824.42H892.16ZM969.70 819.57H989.08V824.42H969.70ZM882.47 824.42H950.32V829.27H882.47ZM969.70 824.42H993.93V829.27H969.70ZM877.63 829.27H950.32V834.11H877.63ZM969.70 829.27H998.78V834.11H969.70ZM872.78 834.11H955.16V838.96H872.78ZM969.70 834.11H998.78V838.96H969.70ZM867.93 838.96H1003.62V843.80H867.93ZM863.09 843.80H1003.62V848.65H863.09ZM863.09 848.65H1003.62V853.50H863.09ZM863.09 853.50H1008.47V858.34H863.09ZM863.09 858.34H1008.47V863.19H863.09Z" fill="#b895fb"/>
<path d="M431.79 165.36h4.846v4.846h-4.846ZM73.19 228.36h4.846v4.846h-4.846ZM78.04 233.21h4.846v4.846h-4.846ZM87.73 238.05h4.846v4.846h-4.846ZM174.96 291.36h4.846v4.846h-4.846ZM111.96 378.59h4.846v4.846h-4.846ZM116.80 383.43h4.846v4.846h-4.846ZM320.34 393.13h4.846v4.846h-4.846ZM325.18 397.97h4.846v4.846h-4.846ZM349.41 402.82h4.846v4.846h-4.846ZM247.65 441.59h4.846v4.846h-4.846ZM82.88 451.28h4.846v4.846h-4.846ZM286.41 451.28h4.846v4.846h-4.846ZM87.73 456.12h4.846v4.846h-4.846ZM208.88 456.12h4.846v4.846h-4.846ZM257.34 460.97h4.846v4.846h-4.846ZM305.80 494.89h4.846v4.846h-4.846ZM315.49 499.74h4.846v4.846h-4.846ZM320.34 504.58h4.846v4.846h-4.846ZM325.18 509.43h4.846v4.846h-4.846ZM330.03 514.28h4.846v4.846h-4.846ZM334.87 519.12h4.846v4.846h-4.846ZM339.72 523.97h4.846v4.846h-4.846ZM349.41 538.51h4.846v4.846h-4.846ZM509.33 543.35h4.846v4.846h-4.846ZM514.18 548.20h4.846v4.846h-4.846ZM519.02 553.04h4.846v4.846h-4.846ZM523.87 557.89h4.846v4.846h-4.846ZM528.71 562.74h4.846v4.846h-4.846ZM533.56 567.58h4.846v4.846h-4.846ZM659.56 567.58h4.846v4.846h-4.846ZM538.41 572.43h4.846v4.846h-4.846ZM664.40 572.43h4.846v4.846h-4.846ZM543.25 577.27h4.846v4.846h-4.846ZM368.80 586.97h4.846v4.846h-4.846ZM712.86 630.58h4.846v4.846h-4.846ZM722.55 645.12h4.846v4.846h-4.846ZM572.33 649.96h4.846v4.846h-4.846ZM727.40 649.96h4.846v4.846h-4.846ZM577.17 654.81h4.846v4.846h-4.846ZM732.25 654.81h4.846v4.846h-4.846ZM582.02 659.66h4.846v4.846h-4.846ZM586.87 664.50h4.846v4.846h-4.846ZM591.71 669.35h4.846v4.846h-4.846ZM19.88 679.04h4.846v4.846h-4.846ZM24.73 683.89h4.846v4.846h-4.846ZM678.94 683.89h4.846v4.846h-4.846ZM683.79 688.73h4.846v4.846h-4.846ZM34.42 698.42h4.846v4.846h-4.846ZM39.27 703.27h4.846v4.846h-4.846ZM48.96 717.81h4.846v4.846h-4.846ZM131.34 717.81h4.846v4.846h-4.846ZM53.81 722.65h4.846v4.846h-4.846ZM136.19 722.65h4.846v4.846h-4.846ZM58.65 727.50h4.846v4.846h-4.846ZM150.73 727.50h4.846v4.846h-4.846ZM708.02 727.50h4.846v4.846h-4.846ZM882.47 727.50h4.846v4.846h-4.846ZM712.86 732.35h4.846v4.846h-4.846ZM722.55 746.88h4.846v4.846h-4.846ZM727.40 751.73h4.846v4.846h-4.846ZM741.94 751.73h4.846v4.846h-4.846ZM751.63 756.58h4.846v4.846h-4.846ZM761.32 761.42h4.846v4.846h-4.846ZM780.71 766.27h4.846v4.846h-4.846ZM921.24 766.27h4.846v4.846h-4.846ZM790.40 771.11h4.846v4.846h-4.846ZM935.78 771.11h4.846v4.846h-4.846ZM800.09 775.96h4.846v4.846h-4.846ZM170.11 780.81h4.846v4.846h-4.846ZM824.32 780.81h4.846v4.846h-4.846ZM974.55 780.81h4.846v4.846h-4.846ZM174.96 785.65h4.846v4.846h-4.846Z" fill="#2a1d10" opacity="0.15"/><path d="M499.64 116.90h4.846v4.846h-4.846ZM504.48 116.90h4.846v4.846h-4.846ZM509.33 116.90h4.846v4.846h-4.846ZM514.18 116.90h4.846v4.846h-4.846ZM519.02 116.90h4.846v4.846h-4.846ZM489.95 121.75h4.846v4.846h-4.846ZM494.79 121.75h4.846v4.846h-4.846ZM625.63 121.75h4.846v4.846h-4.846ZM431.79 126.60h4.846v4.846h-4.846ZM480.25 126.60h4.846v4.846h-4.846ZM485.10 126.60h4.846v4.846h-4.846ZM431.79 131.44h4.846v4.846h-4.846ZM475.41 131.44h4.846v4.846h-4.846ZM470.56 136.29h4.846v4.846h-4.846ZM426.95 141.13h4.846v4.846h-4.846ZM460.87 141.13h4.846v4.846h-4.846ZM465.72 141.13h4.846v4.846h-4.846ZM426.95 145.98h4.846v4.846h-4.846ZM426.95 150.83h4.846v4.846h-4.846ZM519.02 150.83h4.846v4.846h-4.846ZM426.95 155.67h4.846v4.846h-4.846ZM426.95 160.52h4.846v4.846h-4.846ZM514.18 160.52h4.846v4.846h-4.846ZM426.95 165.36h4.846v4.846h-4.846ZM514.18 165.36h4.846v4.846h-4.846ZM431.79 170.21h4.846v4.846h-4.846ZM514.18 170.21h4.846v4.846h-4.846ZM1134.46 170.21h4.846v4.846h-4.846ZM436.64 175.06h4.846v4.846h-4.846ZM446.33 175.06h4.846v4.846h-4.846ZM451.18 175.06h4.846v4.846h-4.846ZM456.02 175.06h4.846v4.846h-4.846ZM460.87 175.06h4.846v4.846h-4.846ZM1134.46 175.06h4.846v4.846h-4.846ZM412.41 179.90h4.846v4.846h-4.846ZM441.49 179.90h4.846v4.846h-4.846ZM1134.46 179.90h4.846v4.846h-4.846ZM213.72 184.75h4.846v4.846h-4.846ZM383.33 184.75h4.846v4.846h-4.846ZM412.41 184.75h4.846v4.846h-4.846ZM1134.46 184.75h4.846v4.846h-4.846ZM213.72 189.59h4.846v4.846h-4.846ZM383.33 189.59h4.846v4.846h-4.846ZM412.41 189.59h4.846v4.846h-4.846ZM1134.46 189.59h4.846v4.846h-4.846ZM213.72 194.44h4.846v4.846h-4.846ZM383.33 194.44h4.846v4.846h-4.846ZM1134.46 194.44h4.846v4.846h-4.846ZM213.72 199.29h4.846v4.846h-4.846ZM1134.46 199.29h4.846v4.846h-4.846ZM213.72 204.13h4.846v4.846h-4.846ZM1134.46 204.13h4.846v4.846h-4.846ZM68.34 208.98h4.846v4.846h-4.846ZM1134.46 208.98h4.846v4.846h-4.846ZM68.34 213.82h4.846v4.846h-4.846ZM1134.46 213.82h4.846v4.846h-4.846ZM68.34 218.67h4.846v4.846h-4.846ZM1134.46 218.67h4.846v4.846h-4.846ZM68.34 223.52h4.846v4.846h-4.846ZM1134.46 223.52h4.846v4.846h-4.846ZM68.34 228.36h4.846v4.846h-4.846ZM126.50 228.36h4.846v4.846h-4.846ZM1134.46 228.36h4.846v4.846h-4.846ZM73.19 233.21h4.846v4.846h-4.846ZM121.65 233.21h4.846v4.846h-4.846ZM1134.46 233.21h4.846v4.846h-4.846ZM78.04 238.05h4.846v4.846h-4.846ZM82.88 238.05h4.846v4.846h-4.846ZM111.96 238.05h4.846v4.846h-4.846ZM116.80 238.05h4.846v4.846h-4.846ZM1134.46 238.05h4.846v4.846h-4.846ZM87.73 242.90h4.846v4.846h-4.846ZM92.57 242.90h4.846v4.846h-4.846ZM97.42 242.90h4.846v4.846h-4.846ZM102.27 242.90h4.846v4.846h-4.846ZM107.11 242.90h4.846v4.846h-4.846ZM1134.46 242.90h4.846v4.846h-4.846ZM160.42 247.75h4.846v4.846h-4.846ZM814.63 247.75h4.846v4.846h-4.846ZM1134.46 247.75h4.846v4.846h-4.846ZM160.42 252.59h4.846v4.846h-4.846ZM1134.46 252.59h4.846v4.846h-4.846ZM160.42 257.44h4.846v4.846h-4.846ZM1134.46 257.44h4.846v4.846h-4.846ZM1139.31 257.44h4.846v4.846h-4.846ZM1144.16 257.44h4.846v4.846h-4.846ZM160.42 262.28h4.846v4.846h-4.846ZM160.42 267.13h4.846v4.846h-4.846ZM160.42 271.98h4.846v4.846h-4.846ZM160.42 276.82h4.846v4.846h-4.846ZM92.57 281.67h4.846v4.846h-4.846ZM160.42 281.67h4.846v4.846h-4.846ZM92.57 286.51h4.846v4.846h-4.846ZM165.26 286.51h4.846v4.846h-4.846ZM92.57 291.36h4.846v4.846h-4.846ZM165.26 291.36h4.846v4.846h-4.846ZM170.11 291.36h4.846v4.846h-4.846ZM92.57 296.21h4.846v4.846h-4.846ZM174.96 296.21h4.846v4.846h-4.846ZM814.63 296.21h4.846v4.846h-4.846ZM179.80 301.05h4.846v4.846h-4.846ZM179.80 305.90h4.846v4.846h-4.846ZM78.04 310.74h4.846v4.846h-4.846ZM179.80 310.74h4.846v4.846h-4.846ZM78.04 315.59h4.846v4.846h-4.846ZM73.19 325.28h4.846v4.846h-4.846ZM73.19 330.13h4.846v4.846h-4.846ZM73.19 334.97h4.846v4.846h-4.846ZM73.19 339.82h4.846v4.846h-4.846ZM73.19 344.67h4.846v4.846h-4.846ZM814.63 344.67h4.846v4.846h-4.846ZM73.19 349.51h4.846v4.846h-4.846ZM78.04 349.51h4.846v4.846h-4.846ZM82.88 349.51h4.846v4.846h-4.846ZM87.73 349.51h4.846v4.846h-4.846ZM92.57 349.51h4.846v4.846h-4.846ZM97.42 349.51h4.846v4.846h-4.846ZM102.27 354.36h4.846v4.846h-4.846ZM102.27 359.20h4.846v4.846h-4.846ZM102.27 364.05h4.846v4.846h-4.846ZM102.27 368.90h4.846v4.846h-4.846ZM107.11 373.74h4.846v4.846h-4.846ZM107.11 378.59h4.846v4.846h-4.846ZM111.96 383.43h4.846v4.846h-4.846ZM116.80 388.28h4.846v4.846h-4.846ZM121.65 393.13h4.846v4.846h-4.846ZM305.80 393.13h4.846v4.846h-4.846ZM310.64 393.13h4.846v4.846h-4.846ZM315.49 393.13h4.846v4.846h-4.846ZM397.87 393.13h4.846v4.846h-4.846ZM407.56 393.13h4.846v4.846h-4.846ZM412.41 393.13h4.846v4.846h-4.846ZM417.26 393.13h4.846v4.846h-4.846ZM300.95 397.97h4.846v4.846h-4.846ZM320.34 397.97h4.846v4.846h-4.846ZM422.10 397.97h4.846v4.846h-4.846ZM78.04 402.82h4.846v4.846h-4.846ZM325.18 402.82h4.846v4.846h-4.846ZM330.03 402.82h4.846v4.846h-4.846ZM334.87 402.82h4.846v4.846h-4.846ZM339.72 402.82h4.846v4.846h-4.846ZM344.57 402.82h4.846v4.846h-4.846ZM422.10 402.82h4.846v4.846h-4.846ZM78.04 407.66h4.846v4.846h-4.846ZM349.41 407.66h4.846v4.846h-4.846ZM422.10 407.66h4.846v4.846h-4.846ZM78.04 412.51h4.846v4.846h-4.846ZM155.57 412.51h4.846v4.846h-4.846ZM160.42 412.51h4.846v4.846h-4.846ZM165.26 412.51h4.846v4.846h-4.846ZM170.11 412.51h4.846v4.846h-4.846ZM354.26 412.51h4.846v4.846h-4.846ZM422.10 412.51h4.846v4.846h-4.846ZM78.04 417.36h4.846v4.846h-4.846ZM174.96 417.36h4.846v4.846h-4.846ZM422.10 417.36h4.846v4.846h-4.846ZM426.95 417.36h4.846v4.846h-4.846ZM78.04 422.20h4.846v4.846h-4.846ZM150.73 422.20h4.846v4.846h-4.846ZM174.96 422.20h4.846v4.846h-4.846ZM237.95 422.20h4.846v4.846h-4.846ZM431.79 422.20h4.846v4.846h-4.846ZM78.04 427.05h4.846v4.846h-4.846ZM174.96 427.05h4.846v4.846h-4.846ZM194.34 427.05h4.846v4.846h-4.846ZM199.19 427.05h4.846v4.846h-4.846ZM233.11 427.05h4.846v4.846h-4.846ZM242.80 427.05h4.846v4.846h-4.846ZM431.79 427.05h4.846v4.846h-4.846ZM78.04 431.89h4.846v4.846h-4.846ZM145.88 431.89h4.846v4.846h-4.846ZM179.80 431.89h4.846v4.846h-4.846ZM204.03 431.89h4.846v4.846h-4.846ZM242.80 431.89h4.846v4.846h-4.846ZM431.79 431.89h4.846v4.846h-4.846ZM78.04 436.74h4.846v4.846h-4.846ZM141.03 436.74h4.846v4.846h-4.846ZM179.80 436.74h4.846v4.846h-4.846ZM204.03 436.74h4.846v4.846h-4.846ZM242.80 436.74h4.846v4.846h-4.846ZM431.79 436.74h4.846v4.846h-4.846ZM78.04 441.59h4.846v4.846h-4.846ZM136.19 441.59h4.846v4.846h-4.846ZM179.80 441.59h4.846v4.846h-4.846ZM184.65 441.59h4.846v4.846h-4.846ZM189.49 441.59h4.846v4.846h-4.846ZM204.03 441.59h4.846v4.846h-4.846ZM242.80 441.59h4.846v4.846h-4.846ZM431.79 441.59h4.846v4.846h-4.846ZM78.04 446.43h4.846v4.846h-4.846ZM126.50 446.43h4.846v4.846h-4.846ZM131.34 446.43h4.846v4.846h-4.846ZM204.03 446.43h4.846v4.846h-4.846ZM228.26 446.43h4.846v4.846h-4.846ZM247.65 446.43h4.846v4.846h-4.846ZM78.04 451.28h4.846v4.846h-4.846ZM121.65 451.28h4.846v4.846h-4.846ZM204.03 451.28h4.846v4.846h-4.846ZM252.49 451.28h4.846v4.846h-4.846ZM276.72 451.28h4.846v4.846h-4.846ZM281.57 451.28h4.846v4.846h-4.846ZM82.88 456.12h4.846v4.846h-4.846ZM116.80 456.12h4.846v4.846h-4.846ZM204.03 456.12h4.846v4.846h-4.846ZM223.42 456.12h4.846v4.846h-4.846ZM252.49 456.12h4.846v4.846h-4.846ZM267.03 456.12h4.846v4.846h-4.846ZM271.88 456.12h4.846v4.846h-4.846ZM286.41 456.12h4.846v4.846h-4.846ZM87.73 460.97h4.846v4.846h-4.846ZM92.57 460.97h4.846v4.846h-4.846ZM97.42 460.97h4.846v4.846h-4.846ZM102.27 460.97h4.846v4.846h-4.846ZM107.11 460.97h4.846v4.846h-4.846ZM111.96 460.97h4.846v4.846h-4.846ZM208.88 460.97h4.846v4.846h-4.846ZM213.72 460.97h4.846v4.846h-4.846ZM218.57 460.97h4.846v4.846h-4.846ZM252.49 460.97h4.846v4.846h-4.846ZM291.26 460.97h4.846v4.846h-4.846ZM257.34 465.82h4.846v4.846h-4.846ZM262.18 465.82h4.846v4.846h-4.846ZM291.26 465.82h4.846v4.846h-4.846ZM296.11 470.66h4.846v4.846h-4.846ZM296.11 475.51h4.846v4.846h-4.846ZM296.11 480.35h4.846v4.846h-4.846ZM296.11 485.20h4.846v4.846h-4.846ZM300.95 490.05h4.846v4.846h-4.846ZM300.95 494.89h4.846v4.846h-4.846ZM305.80 499.74h4.846v4.846h-4.846ZM310.64 499.74h4.846v4.846h-4.846ZM315.49 504.58h4.846v4.846h-4.846ZM68.34 509.43h4.846v4.846h-4.846ZM320.34 509.43h4.846v4.846h-4.846ZM325.18 514.28h4.846v4.846h-4.846ZM330.03 519.12h4.846v4.846h-4.846ZM334.87 523.97h4.846v4.846h-4.846ZM48.96 528.81h4.846v4.846h-4.846ZM218.57 528.81h4.846v4.846h-4.846ZM339.72 528.81h4.846v4.846h-4.846ZM48.96 533.66h4.846v4.846h-4.846ZM218.57 533.66h4.846v4.846h-4.846ZM344.57 533.66h4.846v4.846h-4.846ZM48.96 538.51h4.846v4.846h-4.846ZM344.57 538.51h4.846v4.846h-4.846ZM48.96 543.35h4.846v4.846h-4.846ZM349.41 543.35h4.846v4.846h-4.846ZM475.41 543.35h4.846v4.846h-4.846ZM480.25 543.35h4.846v4.846h-4.846ZM485.10 543.35h4.846v4.846h-4.846ZM489.95 543.35h4.846v4.846h-4.846ZM494.79 543.35h4.846v4.846h-4.846ZM499.64 543.35h4.846v4.846h-4.846ZM504.48 543.35h4.846v4.846h-4.846ZM48.96 548.20h4.846v4.846h-4.846ZM354.26 548.20h4.846v4.846h-4.846ZM509.33 548.20h4.846v4.846h-4.846ZM354.26 553.04h4.846v4.846h-4.846ZM514.18 553.04h4.846v4.846h-4.846ZM354.26 557.89h4.846v4.846h-4.846ZM519.02 557.89h4.846v4.846h-4.846ZM354.26 562.74h4.846v4.846h-4.846ZM523.87 562.74h4.846v4.846h-4.846ZM775.86 562.74h4.846v4.846h-4.846ZM780.71 562.74h4.846v4.846h-4.846ZM785.55 562.74h4.846v4.846h-4.846ZM790.40 562.74h4.846v4.846h-4.846ZM795.24 562.74h4.846v4.846h-4.846ZM800.09 562.74h4.846v4.846h-4.846ZM804.94 562.74h4.846v4.846h-4.846ZM809.78 562.74h4.846v4.846h-4.846ZM814.63 562.74h4.846v4.846h-4.846ZM819.47 562.74h4.846v4.846h-4.846ZM824.32 562.74h4.846v4.846h-4.846ZM354.26 567.58h4.846v4.846h-4.846ZM470.56 567.58h4.846v4.846h-4.846ZM528.71 567.58h4.846v4.846h-4.846ZM635.33 567.58h4.846v4.846h-4.846ZM640.17 567.58h4.846v4.846h-4.846ZM645.02 567.58h4.846v4.846h-4.846ZM649.86 567.58h4.846v4.846h-4.846ZM654.71 567.58h4.846v4.846h-4.846ZM771.01 567.58h4.846v4.846h-4.846ZM24.73 572.43h4.846v4.846h-4.846ZM354.26 572.43h4.846v4.846h-4.846ZM465.72 572.43h4.846v4.846h-4.846ZM533.56 572.43h4.846v4.846h-4.846ZM659.56 572.43h4.846v4.846h-4.846ZM766.17 572.43h4.846v4.846h-4.846ZM354.26 577.27h4.846v4.846h-4.846ZM359.10 577.27h4.846v4.846h-4.846ZM538.41 577.27h4.846v4.846h-4.846ZM630.48 577.27h4.846v4.846h-4.846ZM664.40 577.27h4.846v4.846h-4.846ZM363.95 582.12h4.846v4.846h-4.846ZM456.02 582.12h4.846v4.846h-4.846ZM460.87 582.12h4.846v4.846h-4.846ZM543.25 582.12h4.846v4.846h-4.846ZM625.63 582.12h4.846v4.846h-4.846ZM669.25 582.12h4.846v4.846h-4.846ZM814.63 582.12h4.846v4.846h-4.846ZM15.04 586.97h4.846v4.846h-4.846ZM363.95 586.97h4.846v4.846h-4.846ZM451.18 586.97h4.846v4.846h-4.846ZM548.10 586.97h4.846v4.846h-4.846ZM615.94 586.97h4.846v4.846h-4.846ZM620.79 586.97h4.846v4.846h-4.846ZM669.25 586.97h4.846v4.846h-4.846ZM814.63 586.97h4.846v4.846h-4.846ZM15.04 591.81h4.846v4.846h-4.846ZM368.80 591.81h4.846v4.846h-4.846ZM446.33 591.81h4.846v4.846h-4.846ZM548.10 591.81h4.846v4.846h-4.846ZM611.10 591.81h4.846v4.846h-4.846ZM669.25 591.81h4.846v4.846h-4.846ZM751.63 591.81h4.846v4.846h-4.846ZM756.48 591.81h4.846v4.846h-4.846ZM761.32 591.81h4.846v4.846h-4.846ZM814.63 591.81h4.846v4.846h-4.846ZM373.64 596.66h4.846v4.846h-4.846ZM441.49 596.66h4.846v4.846h-4.846ZM548.10 596.66h4.846v4.846h-4.846ZM606.25 596.66h4.846v4.846h-4.846ZM669.25 596.66h4.846v4.846h-4.846ZM814.63 596.66h4.846v4.846h-4.846ZM10.19 601.50h4.846v4.846h-4.846ZM373.64 601.50h4.846v4.846h-4.846ZM431.79 601.50h4.846v4.846h-4.846ZM436.64 601.50h4.846v4.846h-4.846ZM548.10 601.50h4.846v4.846h-4.846ZM601.40 601.50h4.846v4.846h-4.846ZM669.25 601.50h4.846v4.846h-4.846ZM814.63 601.50h4.846v4.846h-4.846ZM10.19 606.35h4.846v4.846h-4.846ZM373.64 606.35h4.846v4.846h-4.846ZM426.95 606.35h4.846v4.846h-4.846ZM548.10 606.35h4.846v4.846h-4.846ZM669.25 606.35h4.846v4.846h-4.846ZM674.09 606.35h4.846v4.846h-4.846ZM678.94 606.35h4.846v4.846h-4.846ZM683.79 606.35h4.846v4.846h-4.846ZM814.63 606.35h4.846v4.846h-4.846ZM10.19 611.20h4.846v4.846h-4.846ZM378.49 611.20h4.846v4.846h-4.846ZM422.10 611.20h4.846v4.846h-4.846ZM552.94 611.20h4.846v4.846h-4.846ZM596.56 611.20h4.846v4.846h-4.846ZM688.63 611.20h4.846v4.846h-4.846ZM814.63 611.20h4.846v4.846h-4.846ZM10.19 616.04h4.846v4.846h-4.846ZM378.49 616.04h4.846v4.846h-4.846ZM407.56 616.04h4.846v4.846h-4.846ZM412.41 616.04h4.846v4.846h-4.846ZM417.26 616.04h4.846v4.846h-4.846ZM552.94 616.04h4.846v4.846h-4.846ZM688.63 616.04h4.846v4.846h-4.846ZM819.47 616.04h4.846v4.846h-4.846ZM383.33 620.89h4.846v4.846h-4.846ZM393.03 620.89h4.846v4.846h-4.846ZM397.87 620.89h4.846v4.846h-4.846ZM402.72 620.89h4.846v4.846h-4.846ZM552.94 620.89h4.846v4.846h-4.846ZM591.71 620.89h4.846v4.846h-4.846ZM693.48 620.89h4.846v4.846h-4.846ZM819.47 620.89h4.846v4.846h-4.846ZM5.35 625.73h4.846v4.846h-4.846ZM383.33 625.73h4.846v4.846h-4.846ZM388.18 625.73h4.846v4.846h-4.846ZM557.79 625.73h4.846v4.846h-4.846ZM693.48 625.73h4.846v4.846h-4.846ZM10.19 630.58h4.846v4.846h-4.846ZM557.79 630.58h4.846v4.846h-4.846ZM698.32 630.58h4.846v4.846h-4.846ZM708.02 630.58h4.846v4.846h-4.846ZM814.63 630.58h4.846v4.846h-4.846ZM819.47 630.58h4.846v4.846h-4.846ZM824.32 630.58h4.846v4.846h-4.846ZM10.19 635.43h4.846v4.846h-4.846ZM562.64 635.43h4.846v4.846h-4.846ZM698.32 635.43h4.846v4.846h-4.846ZM712.86 635.43h4.846v4.846h-4.846ZM756.48 635.43h4.846v4.846h-4.846ZM829.17 635.43h4.846v4.846h-4.846ZM10.19 640.27h4.846v4.846h-4.846ZM562.64 640.27h4.846v4.846h-4.846ZM698.32 640.27h4.846v4.846h-4.846ZM717.71 640.27h4.846v4.846h-4.846ZM800.09 640.27h4.846v4.846h-4.846ZM829.17 640.27h4.846v4.846h-4.846ZM10.19 645.12h4.846v4.846h-4.846ZM567.48 645.12h4.846v4.846h-4.846ZM698.32 645.12h4.846v4.846h-4.846ZM717.71 645.12h4.846v4.846h-4.846ZM746.78 645.12h4.846v4.846h-4.846ZM751.63 645.12h4.846v4.846h-4.846ZM800.09 645.12h4.846v4.846h-4.846ZM809.78 645.12h4.846v4.846h-4.846ZM829.17 645.12h4.846v4.846h-4.846ZM10.19 649.96h4.846v4.846h-4.846ZM567.48 649.96h4.846v4.846h-4.846ZM698.32 649.96h4.846v4.846h-4.846ZM722.55 649.96h4.846v4.846h-4.846ZM741.94 649.96h4.846v4.846h-4.846ZM800.09 649.96h4.846v4.846h-4.846ZM804.94 649.96h4.846v4.846h-4.846ZM829.17 649.96h4.846v4.846h-4.846ZM10.19 654.81h4.846v4.846h-4.846ZM572.33 654.81h4.846v4.846h-4.846ZM698.32 654.81h4.846v4.846h-4.846ZM727.40 654.81h4.846v4.846h-4.846ZM737.09 654.81h4.846v4.846h-4.846ZM10.19 659.66h4.846v4.846h-4.846ZM577.17 659.66h4.846v4.846h-4.846ZM732.25 659.66h4.846v4.846h-4.846ZM819.47 659.66h4.846v4.846h-4.846ZM10.19 664.50h4.846v4.846h-4.846ZM582.02 664.50h4.846v4.846h-4.846ZM674.09 664.50h4.846v4.846h-4.846ZM722.55 664.50h4.846v4.846h-4.846ZM819.47 664.50h4.846v4.846h-4.846ZM10.19 669.35h4.846v4.846h-4.846ZM586.87 669.35h4.846v4.846h-4.846ZM674.09 669.35h4.846v4.846h-4.846ZM819.47 669.35h4.846v4.846h-4.846ZM824.32 669.35h4.846v4.846h-4.846ZM829.17 669.35h4.846v4.846h-4.846ZM834.01 669.35h4.846v4.846h-4.846ZM15.04 674.19h4.846v4.846h-4.846ZM591.71 674.19h4.846v4.846h-4.846ZM596.56 674.19h4.846v4.846h-4.846ZM674.09 674.19h4.846v4.846h-4.846ZM838.86 674.19h4.846v4.846h-4.846ZM848.55 674.19h4.846v4.846h-4.846ZM15.04 679.04h4.846v4.846h-4.846ZM674.09 679.04h4.846v4.846h-4.846ZM838.86 679.04h4.846v4.846h-4.846ZM843.70 679.04h4.846v4.846h-4.846ZM19.88 683.89h4.846v4.846h-4.846ZM674.09 683.89h4.846v4.846h-4.846ZM853.40 683.89h4.846v4.846h-4.846ZM24.73 688.73h4.846v4.846h-4.846ZM678.94 688.73h4.846v4.846h-4.846ZM751.63 688.73h4.846v4.846h-4.846ZM809.78 688.73h4.846v4.846h-4.846ZM853.40 688.73h4.846v4.846h-4.846ZM29.58 693.58h4.846v4.846h-4.846ZM683.79 693.58h4.846v4.846h-4.846ZM751.63 693.58h4.846v4.846h-4.846ZM814.63 693.58h4.846v4.846h-4.846ZM853.40 693.58h4.846v4.846h-4.846ZM29.58 698.42h4.846v4.846h-4.846ZM397.87 698.42h4.846v4.846h-4.846ZM688.63 698.42h4.846v4.846h-4.846ZM751.63 698.42h4.846v4.846h-4.846ZM814.63 698.42h4.846v4.846h-4.846ZM853.40 698.42h4.846v4.846h-4.846ZM34.42 703.27h4.846v4.846h-4.846ZM688.63 703.27h4.846v4.846h-4.846ZM751.63 703.27h4.846v4.846h-4.846ZM814.63 703.27h4.846v4.846h-4.846ZM858.24 703.27h4.846v4.846h-4.846ZM39.27 708.12h4.846v4.846h-4.846ZM393.03 708.12h4.846v4.846h-4.846ZM688.63 708.12h4.846v4.846h-4.846ZM693.48 708.12h4.846v4.846h-4.846ZM751.63 708.12h4.846v4.846h-4.846ZM814.63 708.12h4.846v4.846h-4.846ZM858.24 708.12h4.846v4.846h-4.846ZM863.09 708.12h4.846v4.846h-4.846ZM44.11 712.96h4.846v4.846h-4.846ZM388.18 712.96h4.846v4.846h-4.846ZM698.32 712.96h4.846v4.846h-4.846ZM804.94 712.96h4.846v4.846h-4.846ZM814.63 712.96h4.846v4.846h-4.846ZM843.70 712.96h4.846v4.846h-4.846ZM867.93 712.96h4.846v4.846h-4.846ZM44.11 717.81h4.846v4.846h-4.846ZM116.80 717.81h4.846v4.846h-4.846ZM121.65 717.81h4.846v4.846h-4.846ZM126.50 717.81h4.846v4.846h-4.846ZM698.32 717.81h4.846v4.846h-4.846ZM814.63 717.81h4.846v4.846h-4.846ZM48.96 722.65h4.846v4.846h-4.846ZM92.57 722.65h4.846v4.846h-4.846ZM97.42 722.65h4.846v4.846h-4.846ZM102.27 722.65h4.846v4.846h-4.846ZM107.11 722.65h4.846v4.846h-4.846ZM111.96 722.65h4.846v4.846h-4.846ZM131.34 722.65h4.846v4.846h-4.846ZM383.33 722.65h4.846v4.846h-4.846ZM698.32 722.65h4.846v4.846h-4.846ZM814.63 722.65h4.846v4.846h-4.846ZM838.86 722.65h4.846v4.846h-4.846ZM863.09 722.65h4.846v4.846h-4.846ZM989.08 722.65h4.846v4.846h-4.846ZM53.81 727.50h4.846v4.846h-4.846ZM63.50 727.50h4.846v4.846h-4.846ZM68.34 727.50h4.846v4.846h-4.846ZM73.19 727.50h4.846v4.846h-4.846ZM78.04 727.50h4.846v4.846h-4.846ZM82.88 727.50h4.846v4.846h-4.846ZM87.73 727.50h4.846v4.846h-4.846ZM136.19 727.50h4.846v4.846h-4.846ZM141.03 727.50h4.846v4.846h-4.846ZM145.88 727.50h4.846v4.846h-4.846ZM378.49 727.50h4.846v4.846h-4.846ZM698.32 727.50h4.846v4.846h-4.846ZM703.17 727.50h4.846v4.846h-4.846ZM814.63 727.50h4.846v4.846h-4.846ZM863.09 727.50h4.846v4.846h-4.846ZM867.93 727.50h4.846v4.846h-4.846ZM872.78 727.50h4.846v4.846h-4.846ZM877.63 727.50h4.846v4.846h-4.846ZM989.08 727.50h4.846v4.846h-4.846ZM58.65 732.35h4.846v4.846h-4.846ZM150.73 732.35h4.846v4.846h-4.846ZM155.57 732.35h4.846v4.846h-4.846ZM373.64 732.35h4.846v4.846h-4.846ZM708.02 732.35h4.846v4.846h-4.846ZM756.48 732.35h4.846v4.846h-4.846ZM795.24 732.35h4.846v4.846h-4.846ZM800.09 732.35h4.846v4.846h-4.846ZM814.63 732.35h4.846v4.846h-4.846ZM882.47 732.35h4.846v4.846h-4.846ZM989.08 732.35h4.846v4.846h-4.846ZM160.42 737.19h4.846v4.846h-4.846ZM368.80 737.19h4.846v4.846h-4.846ZM712.86 737.19h4.846v4.846h-4.846ZM766.17 737.19h4.846v4.846h-4.846ZM771.01 737.19h4.846v4.846h-4.846ZM775.86 737.19h4.846v4.846h-4.846ZM780.71 737.19h4.846v4.846h-4.846ZM785.55 737.19h4.846v4.846h-4.846ZM790.40 737.19h4.846v4.846h-4.846ZM814.63 737.19h4.846v4.846h-4.846ZM887.32 737.19h4.846v4.846h-4.846ZM160.42 742.04h4.846v4.846h-4.846ZM363.95 742.04h4.846v4.846h-4.846ZM717.71 742.04h4.846v4.846h-4.846ZM814.63 742.04h4.846v4.846h-4.846ZM887.32 742.04h4.846v4.846h-4.846ZM160.42 746.88h4.846v4.846h-4.846ZM359.10 746.88h4.846v4.846h-4.846ZM717.71 746.88h4.846v4.846h-4.846ZM814.63 746.88h4.846v4.846h-4.846ZM834.01 746.88h4.846v4.846h-4.846ZM892.16 746.88h4.846v4.846h-4.846ZM901.86 746.88h4.846v4.846h-4.846ZM906.70 746.88h4.846v4.846h-4.846ZM911.55 746.88h4.846v4.846h-4.846ZM998.78 746.88h4.846v4.846h-4.846ZM1003.62 746.88h4.846v4.846h-4.846ZM160.42 751.73h4.846v4.846h-4.846ZM354.26 751.73h4.846v4.846h-4.846ZM722.55 751.73h4.846v4.846h-4.846ZM737.09 751.73h4.846v4.846h-4.846ZM892.16 751.73h4.846v4.846h-4.846ZM916.39 751.73h4.846v4.846h-4.846ZM984.24 751.73h4.846v4.846h-4.846ZM989.08 751.73h4.846v4.846h-4.846ZM993.93 751.73h4.846v4.846h-4.846ZM160.42 756.58h4.846v4.846h-4.846ZM727.40 756.58h4.846v4.846h-4.846ZM732.25 756.58h4.846v4.846h-4.846ZM741.94 756.58h4.846v4.846h-4.846ZM746.78 756.58h4.846v4.846h-4.846ZM872.78 756.58h4.846v4.846h-4.846ZM892.16 756.58h4.846v4.846h-4.846ZM897.01 756.58h4.846v4.846h-4.846ZM916.39 756.58h4.846v4.846h-4.846ZM160.42 761.42h4.846v4.846h-4.846ZM349.41 761.42h4.846v4.846h-4.846ZM751.63 761.42h4.846v4.846h-4.846ZM756.48 761.42h4.846v4.846h-4.846ZM872.78 761.42h4.846v4.846h-4.846ZM916.39 761.42h4.846v4.846h-4.846ZM160.42 766.27h4.846v4.846h-4.846ZM344.57 766.27h4.846v4.846h-4.846ZM761.32 766.27h4.846v4.846h-4.846ZM766.17 766.27h4.846v4.846h-4.846ZM771.01 766.27h4.846v4.846h-4.846ZM775.86 766.27h4.846v4.846h-4.846ZM872.78 766.27h4.846v4.846h-4.846ZM916.39 766.27h4.846v4.846h-4.846ZM160.42 771.11h4.846v4.846h-4.846ZM339.72 771.11h4.846v4.846h-4.846ZM780.71 771.11h4.846v4.846h-4.846ZM785.55 771.11h4.846v4.846h-4.846ZM853.40 771.11h4.846v4.846h-4.846ZM872.78 771.11h4.846v4.846h-4.846ZM877.63 771.11h4.846v4.846h-4.846ZM921.24 771.11h4.846v4.846h-4.846ZM926.09 771.11h4.846v4.846h-4.846ZM930.93 771.11h4.846v4.846h-4.846ZM955.16 771.11h4.846v4.846h-4.846ZM960.01 771.11h4.846v4.846h-4.846ZM964.85 771.11h4.846v4.846h-4.846ZM165.26 775.96h4.846v4.846h-4.846ZM790.40 775.96h4.846v4.846h-4.846ZM795.24 775.96h4.846v4.846h-4.846ZM848.55 775.96h4.846v4.846h-4.846ZM935.78 775.96h4.846v4.846h-4.846ZM940.62 775.96h4.846v4.846h-4.846ZM945.47 775.96h4.846v4.846h-4.846ZM950.32 775.96h4.846v4.846h-4.846ZM969.70 775.96h4.846v4.846h-4.846ZM165.26 780.81h4.846v4.846h-4.846ZM334.87 780.81h4.846v4.846h-4.846ZM800.09 780.81h4.846v4.846h-4.846ZM804.94 780.81h4.846v4.846h-4.846ZM809.78 780.81h4.846v4.846h-4.846ZM814.63 780.81h4.846v4.846h-4.846ZM819.47 780.81h4.846v4.846h-4.846ZM843.70 780.81h4.846v4.846h-4.846ZM969.70 780.81h4.846v4.846h-4.846ZM170.11 785.65h4.846v4.846h-4.846ZM824.32 785.65h4.846v4.846h-4.846ZM829.17 785.65h4.846v4.846h-4.846ZM834.01 785.65h4.846v4.846h-4.846ZM838.86 785.65h4.846v4.846h-4.846ZM974.55 785.65h4.846v4.846h-4.846ZM979.39 785.65h4.846v4.846h-4.846ZM984.24 785.65h4.846v4.846h-4.846ZM989.08 785.65h4.846v4.846h-4.846ZM174.96 790.50h4.846v4.846h-4.846ZM179.80 795.34h4.846v4.846h-4.846ZM179.80 800.19h4.846v4.846h-4.846ZM179.80 805.04h4.846v4.846h-4.846ZM974.55 805.04h4.846v4.846h-4.846ZM179.80 809.88h4.846v4.846h-4.846ZM906.70 809.88h4.846v4.846h-4.846ZM974.55 809.88h4.846v4.846h-4.846ZM179.80 814.73h4.846v4.846h-4.846ZM179.80 819.57h4.846v4.846h-4.846ZM969.70 819.57h4.846v4.846h-4.846ZM179.80 824.42h4.846v4.846h-4.846ZM969.70 824.42h4.846v4.846h-4.846ZM969.70 829.27h4.846v4.846h-4.846ZM174.96 834.11h4.846v4.846h-4.846ZM383.33 834.11h4.846v4.846h-4.846ZM179.80 838.96h4.846v4.846h-4.846ZM383.33 838.96h4.846v4.846h-4.846ZM179.80 843.80h4.846v4.846h-4.846ZM383.33 843.80h4.846v4.846h-4.846ZM863.09 843.80h4.846v4.846h-4.846ZM179.80 848.65h4.846v4.846h-4.846ZM383.33 848.65h4.846v4.846h-4.846ZM863.09 848.65h4.846v4.846h-4.846ZM179.80 853.50h4.846v4.846h-4.846ZM383.33 853.50h4.846v4.846h-4.846ZM863.09 853.50h4.846v4.846h-4.846Z" fill="#2a1d10" opacity="0.3"/><path d="M78.04 58.75h4.846v4.846h-4.846ZM82.88 58.75h4.846v4.846h-4.846ZM78.04 63.60h4.846v4.846h-4.846ZM82.88 63.60h4.846v4.846h-4.846ZM73.19 68.44h4.846v4.846h-4.846ZM78.04 68.44h4.846v4.846h-4.846ZM68.34 73.29h4.846v4.846h-4.846ZM73.19 73.29h4.846v4.846h-4.846ZM63.50 78.14h4.846v4.846h-4.846ZM68.34 78.14h4.846v4.846h-4.846ZM58.65 82.98h4.846v4.846h-4.846ZM63.50 82.98h4.846v4.846h-4.846ZM53.81 87.83h4.846v4.846h-4.846ZM58.65 87.83h4.846v4.846h-4.846ZM48.96 92.67h4.846v4.846h-4.846ZM53.81 92.67h4.846v4.846h-4.846ZM44.11 97.52h4.846v4.846h-4.846ZM48.96 97.52h4.846v4.846h-4.846ZM44.11 102.37h4.846v4.846h-4.846ZM48.96 102.37h4.846v4.846h-4.846ZM44.11 107.21h4.846v4.846h-4.846ZM48.96 107.21h4.846v4.846h-4.846ZM44.11 112.06h4.846v4.846h-4.846ZM48.96 112.06h4.846v4.846h-4.846ZM44.11 116.90h4.846v4.846h-4.846ZM48.96 116.90h4.846v4.846h-4.846ZM44.11 121.75h4.846v4.846h-4.846ZM48.96 121.75h4.846v4.846h-4.846ZM48.96 126.60h4.846v4.846h-4.846ZM53.81 126.60h4.846v4.846h-4.846ZM48.96 131.44h4.846v4.846h-4.846ZM53.81 131.44h4.846v4.846h-4.846ZM48.96 136.29h4.846v4.846h-4.846ZM53.81 136.29h4.846v4.846h-4.846ZM48.96 141.13h4.846v4.846h-4.846ZM53.81 141.13h4.846v4.846h-4.846ZM39.27 145.98h4.846v4.846h-4.846ZM44.11 145.98h4.846v4.846h-4.846ZM48.96 145.98h4.846v4.846h-4.846ZM34.42 150.83h4.846v4.846h-4.846ZM39.27 150.83h4.846v4.846h-4.846ZM29.58 155.67h4.846v4.846h-4.846ZM34.42 155.67h4.846v4.846h-4.846ZM29.58 160.52h4.846v4.846h-4.846ZM34.42 160.52h4.846v4.846h-4.846ZM29.58 165.36h4.846v4.846h-4.846ZM34.42 165.36h4.846v4.846h-4.846ZM29.58 170.21h4.846v4.846h-4.846ZM34.42 170.21h4.846v4.846h-4.846ZM29.58 175.06h4.846v4.846h-4.846ZM34.42 175.06h4.846v4.846h-4.846ZM29.58 179.90h4.846v4.846h-4.846ZM34.42 179.90h4.846v4.846h-4.846ZM29.58 184.75h4.846v4.846h-4.846ZM34.42 184.75h4.846v4.846h-4.846ZM24.73 189.59h4.846v4.846h-4.846ZM29.58 189.59h4.846v4.846h-4.846ZM34.42 189.59h4.846v4.846h-4.846ZM15.04 194.44h4.846v4.846h-4.846ZM19.88 194.44h4.846v4.846h-4.846ZM24.73 194.44h4.846v4.846h-4.846ZM5.35 199.29h4.846v4.846h-4.846ZM10.19 199.29h4.846v4.846h-4.846ZM15.04 199.29h4.846v4.846h-4.846ZM-9.19 204.13h4.846v4.846h-4.846ZM-4.35 204.13h4.846v4.846h-4.846ZM0.50 204.13h4.846v4.846h-4.846ZM5.35 204.13h4.846v4.846h-4.846ZM-9.19 208.98h4.846v4.846h-4.846Z" fill="#6fa6d9"/>
<path d="M-9.20 27.27h4.87v2.42h-4.87ZM-4.36 27.27h4.87v2.42h-4.87ZM0.49 27.27h4.87v2.42h-4.87ZM5.34 27.27h4.87v2.42h-4.87ZM10.18 27.27h4.87v2.42h-4.87ZM15.03 29.67h2.42v4.87h-2.42ZM15.03 34.51h2.42v4.87h-2.42ZM15.03 39.36h2.42v4.87h-2.42ZM15.03 44.20h2.42v4.87h-2.42ZM15.03 49.05h2.42v4.87h-2.42ZM15.03 51.50h4.87v2.42h-4.87ZM19.87 51.50h4.87v2.42h-4.87ZM24.72 51.50h4.87v2.42h-4.87ZM29.57 51.50h4.87v2.42h-4.87ZM34.41 51.50h4.87v2.42h-4.87ZM39.26 51.50h4.87v2.42h-4.87ZM44.10 51.50h4.87v2.42h-4.87ZM48.95 51.50h4.87v2.42h-4.87ZM53.80 51.50h4.87v2.42h-4.87ZM58.64 51.50h4.87v2.42h-4.87ZM63.49 51.50h4.87v2.42h-4.87ZM68.33 51.50h4.87v2.42h-4.87ZM73.18 51.50h4.87v2.42h-4.87ZM78.03 51.50h4.87v2.42h-4.87ZM82.87 51.50h4.87v2.42h-4.87ZM87.72 53.90h2.42v4.87h-2.42ZM87.72 58.74h2.42v4.87h-2.42ZM87.72 63.59h2.42v4.87h-2.42ZM82.87 68.43h4.87v2.42h-4.87ZM82.87 68.43h2.42v4.87h-2.42ZM78.03 73.28h4.87v2.42h-4.87ZM78.03 73.28h2.42v4.87h-2.42ZM73.18 78.13h4.87v2.42h-4.87ZM73.18 78.13h2.42v4.87h-2.42ZM68.33 82.97h4.87v2.42h-4.87ZM68.33 82.97h2.42v4.87h-2.42ZM63.49 87.82h4.87v2.42h-4.87ZM63.49 87.82h2.42v4.87h-2.42ZM58.64 92.66h4.87v2.42h-4.87ZM712.85 90.26h4.87v2.42h-4.87ZM717.70 90.26h4.87v2.42h-4.87ZM722.54 90.26h4.87v2.42h-4.87ZM727.39 90.26h4.87v2.42h-4.87ZM732.24 90.26h4.87v2.42h-4.87ZM737.08 90.26h4.87v2.42h-4.87ZM741.93 90.26h4.87v2.42h-4.87ZM58.64 92.66h2.42v4.87h-2.42ZM53.80 97.51h4.87v2.42h-4.87ZM710.45 92.66h2.42v4.87h-2.42ZM708.01 95.11h4.87v2.42h-4.87ZM746.77 92.66h2.42v4.87h-2.42ZM766.16 95.11h4.87v2.42h-4.87ZM771.00 95.11h4.87v2.42h-4.87ZM53.80 97.51h2.42v4.87h-2.42ZM485.09 99.96h4.87v2.42h-4.87ZM489.94 99.96h4.87v2.42h-4.87ZM494.78 99.96h4.87v2.42h-4.87ZM499.63 99.96h4.87v2.42h-4.87ZM504.47 99.96h4.87v2.42h-4.87ZM509.32 99.96h4.87v2.42h-4.87ZM514.17 99.96h4.87v2.42h-4.87ZM519.01 99.96h4.87v2.42h-4.87ZM698.31 99.96h4.87v2.42h-4.87ZM705.61 97.51h2.42v4.87h-2.42ZM703.16 99.96h4.87v2.42h-4.87ZM746.77 97.51h2.42v4.87h-2.42ZM746.77 99.96h4.87v2.42h-4.87ZM751.62 99.96h4.87v2.42h-4.87ZM756.47 99.96h4.87v2.42h-4.87ZM763.76 97.51h2.42v4.87h-2.42ZM761.31 99.96h4.87v2.42h-4.87ZM775.85 97.51h2.42v4.87h-2.42ZM53.80 102.36h2.42v4.87h-2.42ZM465.71 104.80h4.87v2.42h-4.87ZM470.55 104.80h4.87v2.42h-4.87ZM475.40 104.80h4.87v2.42h-4.87ZM482.69 102.36h2.42v4.87h-2.42ZM480.24 104.80h4.87v2.42h-4.87ZM523.86 102.36h2.42v4.87h-2.42ZM654.70 104.80h4.87v2.42h-4.87ZM659.55 104.80h4.87v2.42h-4.87ZM664.39 104.80h4.87v2.42h-4.87ZM669.24 104.80h4.87v2.42h-4.87ZM674.08 104.80h4.87v2.42h-4.87ZM678.93 104.80h4.87v2.42h-4.87ZM683.78 104.80h4.87v2.42h-4.87ZM688.62 104.80h4.87v2.42h-4.87ZM695.91 102.36h2.42v4.87h-2.42ZM693.47 104.80h4.87v2.42h-4.87ZM775.85 102.36h2.42v4.87h-2.42ZM775.85 104.80h4.87v2.42h-4.87ZM53.80 107.20h2.42v4.87h-2.42ZM451.17 109.65h4.87v2.42h-4.87ZM456.01 109.65h4.87v2.42h-4.87ZM463.31 107.20h2.42v4.87h-2.42ZM460.86 109.65h4.87v2.42h-4.87ZM523.86 107.20h2.42v4.87h-2.42ZM635.32 109.65h4.87v2.42h-4.87ZM640.16 109.65h4.87v2.42h-4.87ZM645.01 109.65h4.87v2.42h-4.87ZM652.30 107.20h2.42v4.87h-2.42ZM649.85 109.65h4.87v2.42h-4.87ZM780.70 107.20h2.42v4.87h-2.42ZM780.70 109.65h4.87v2.42h-4.87ZM53.80 112.05h2.42v4.87h-2.42ZM448.77 112.05h2.42v4.87h-2.42ZM446.32 114.49h4.87v2.42h-4.87ZM523.86 112.05h2.42v4.87h-2.42ZM632.92 112.05h2.42v4.87h-2.42ZM630.47 114.49h4.87v2.42h-4.87ZM785.54 112.05h2.42v4.87h-2.42ZM53.80 116.89h2.42v4.87h-2.42ZM436.63 119.34h4.87v2.42h-4.87ZM443.92 116.89h2.42v4.87h-2.42ZM441.48 119.34h4.87v2.42h-4.87ZM499.63 121.74h4.87v2.42h-4.87ZM504.47 121.74h4.87v2.42h-4.87ZM509.32 121.74h4.87v2.42h-4.87ZM514.17 121.74h4.87v2.42h-4.87ZM523.86 116.89h2.42v4.87h-2.42ZM519.01 121.74h4.87v2.42h-4.87ZM628.07 116.89h2.42v4.87h-2.42ZM625.62 119.34h4.87v2.42h-4.87ZM785.54 116.89h2.42v4.87h-2.42ZM53.80 121.74h2.42v4.87h-2.42ZM53.80 124.19h4.87v2.42h-4.87ZM434.23 121.74h2.42v4.87h-2.42ZM431.78 124.19h4.87v2.42h-4.87ZM489.94 126.59h4.87v2.42h-4.87ZM499.63 121.74h2.42v4.87h-2.42ZM494.78 126.59h4.87v2.42h-4.87ZM623.22 121.74h2.42v4.87h-2.42ZM785.54 121.74h2.42v4.87h-2.42ZM785.54 124.19h4.87v2.42h-4.87ZM58.64 126.59h2.42v4.87h-2.42ZM429.38 126.59h2.42v4.87h-2.42ZM480.24 131.43h4.87v2.42h-4.87ZM489.94 126.59h2.42v4.87h-2.42ZM485.09 131.43h4.87v2.42h-4.87ZM601.39 129.03h4.87v2.42h-4.87ZM606.24 129.03h4.87v2.42h-4.87ZM611.09 129.03h4.87v2.42h-4.87ZM615.93 129.03h4.87v2.42h-4.87ZM623.22 126.59h2.42v4.87h-2.42ZM620.78 129.03h4.87v2.42h-4.87ZM775.85 130.23h4.87v2.42h-4.87ZM780.70 130.23h4.87v2.42h-4.87ZM790.39 126.59h2.42v4.87h-2.42ZM785.54 130.23h4.87v2.42h-4.87ZM790.39 129.03h4.87v2.42h-4.87ZM58.64 131.43h2.42v4.87h-2.42ZM429.38 131.43h2.42v4.87h-2.42ZM480.24 131.43h2.42v4.87h-2.42ZM475.40 136.28h4.87v2.42h-4.87ZM533.55 133.88h4.87v2.42h-4.87ZM538.40 133.88h4.87v2.42h-4.87ZM543.24 133.88h4.87v2.42h-4.87ZM598.99 131.43h2.42v4.87h-2.42ZM596.55 133.88h4.87v2.42h-4.87ZM774.65 131.43h2.42v4.87h-2.42ZM771.00 135.08h4.87v2.42h-4.87ZM795.23 131.43h2.42v4.87h-2.42ZM795.23 133.88h4.87v2.42h-4.87ZM800.08 133.88h4.87v2.42h-4.87ZM804.93 133.88h4.87v2.42h-4.87ZM809.77 133.88h4.87v2.42h-4.87ZM58.64 136.28h2.42v4.87h-2.42ZM429.38 136.28h2.42v4.87h-2.42ZM426.94 138.72h4.87v2.42h-4.87ZM475.40 136.28h2.42v4.87h-2.42ZM470.55 141.12h4.87v2.42h-4.87ZM531.15 136.28h2.42v4.87h-2.42ZM528.70 138.72h4.87v2.42h-4.87ZM548.09 136.28h2.42v4.87h-2.42ZM548.09 138.72h4.87v2.42h-4.87ZM552.93 138.72h4.87v2.42h-4.87ZM557.78 138.72h4.87v2.42h-4.87ZM577.16 138.72h4.87v2.42h-4.87ZM582.01 138.72h4.87v2.42h-4.87ZM586.86 138.72h4.87v2.42h-4.87ZM594.15 136.28h2.42v4.87h-2.42ZM591.70 138.72h4.87v2.42h-4.87ZM600.19 136.28h2.42v4.87h-2.42ZM769.80 136.28h2.42v4.87h-2.42ZM771.00 139.92h4.87v2.42h-4.87ZM814.62 136.28h2.42v4.87h-2.42ZM58.64 141.12h2.42v4.87h-2.42ZM53.80 145.97h4.87v2.42h-4.87ZM424.54 141.12h2.42v4.87h-2.42ZM460.86 145.97h4.87v2.42h-4.87ZM470.55 141.12h2.42v4.87h-2.42ZM465.71 145.97h4.87v2.42h-4.87ZM526.30 141.12h2.42v4.87h-2.42ZM523.86 143.57h4.87v2.42h-4.87ZM562.63 141.12h2.42v4.87h-2.42ZM562.63 143.57h4.87v2.42h-4.87ZM574.76 141.12h2.42v4.87h-2.42ZM572.32 143.57h4.87v2.42h-4.87ZM600.19 141.12h2.42v4.87h-2.42ZM774.65 141.12h2.42v4.87h-2.42ZM775.85 144.77h4.87v2.42h-4.87ZM814.62 141.12h2.42v4.87h-2.42ZM44.10 150.82h4.87v2.42h-4.87ZM53.80 145.97h2.42v4.87h-2.42ZM48.95 150.82h4.87v2.42h-4.87ZM424.54 145.97h2.42v4.87h-2.42ZM460.86 145.97h2.42v4.87h-2.42ZM521.46 145.97h2.42v4.87h-2.42ZM519.01 148.42h4.87v2.42h-4.87ZM567.47 145.97h2.42v4.87h-2.42ZM569.92 145.97h2.42v4.87h-2.42ZM567.47 148.42h4.87v2.42h-4.87ZM600.19 145.97h2.42v4.87h-2.42ZM779.50 145.97h2.42v4.87h-2.42ZM780.70 149.62h4.87v2.42h-4.87ZM814.62 145.97h2.42v4.87h-2.42ZM44.10 150.82h2.42v4.87h-2.42ZM39.26 155.66h4.87v2.42h-4.87ZM424.54 150.82h2.42v4.87h-2.42ZM460.86 150.82h2.42v4.87h-2.42ZM516.61 150.82h2.42v4.87h-2.42ZM600.19 150.82h2.42v4.87h-2.42ZM784.34 150.82h2.42v4.87h-2.42ZM785.54 154.46h4.87v2.42h-4.87ZM814.62 150.82h2.42v4.87h-2.42ZM39.26 155.66h2.42v4.87h-2.42ZM252.48 158.11h4.87v2.42h-4.87ZM257.33 158.11h4.87v2.42h-4.87ZM262.17 158.11h4.87v2.42h-4.87ZM267.02 158.11h4.87v2.42h-4.87ZM271.87 158.11h4.87v2.42h-4.87ZM276.71 158.11h4.87v2.42h-4.87ZM281.56 158.11h4.87v2.42h-4.87ZM286.40 158.11h4.87v2.42h-4.87ZM291.25 158.11h4.87v2.42h-4.87ZM296.10 158.11h4.87v2.42h-4.87ZM424.54 155.66h2.42v4.87h-2.42ZM460.86 155.66h2.42v4.87h-2.42ZM516.61 155.66h2.42v4.87h-2.42ZM514.17 158.11h4.87v2.42h-4.87ZM600.19 155.66h2.42v4.87h-2.42ZM789.19 155.66h2.42v4.87h-2.42ZM790.39 159.31h4.87v2.42h-4.87ZM814.62 155.66h2.42v4.87h-2.42ZM39.26 160.51h2.42v4.87h-2.42ZM242.79 162.95h4.87v2.42h-4.87ZM250.08 160.51h2.42v4.87h-2.42ZM247.64 162.95h4.87v2.42h-4.87ZM300.94 160.51h2.42v4.87h-2.42ZM300.94 162.95h4.87v2.42h-4.87ZM305.79 162.95h4.87v2.42h-4.87ZM310.63 162.95h4.87v2.42h-4.87ZM424.54 160.51h2.42v4.87h-2.42ZM460.86 160.51h2.42v4.87h-2.42ZM511.77 160.51h2.42v4.87h-2.42ZM600.19 160.51h2.42v4.87h-2.42ZM794.03 160.51h2.42v4.87h-2.42ZM814.62 160.51h2.42v4.87h-2.42ZM39.26 165.35h2.42v4.87h-2.42ZM233.10 167.80h4.87v2.42h-4.87ZM240.39 165.35h2.42v4.87h-2.42ZM237.94 167.80h4.87v2.42h-4.87ZM315.48 165.35h2.42v4.87h-2.42ZM315.48 167.80h4.87v2.42h-4.87ZM320.33 167.80h4.87v2.42h-4.87ZM424.54 165.35h2.42v4.87h-2.42ZM426.94 170.20h4.87v2.42h-4.87ZM460.86 165.35h2.42v4.87h-2.42ZM465.71 167.80h4.87v2.42h-4.87ZM470.55 167.80h4.87v2.42h-4.87ZM475.40 167.80h4.87v2.42h-4.87ZM489.94 167.80h4.87v2.42h-4.87ZM511.77 165.35h2.42v4.87h-2.42ZM600.19 165.35h2.42v4.87h-2.42ZM794.03 165.35h2.42v4.87h-2.42ZM795.23 169.00h4.87v2.42h-4.87ZM814.62 165.35h2.42v4.87h-2.42ZM1134.45 167.80h4.87v2.42h-4.87ZM1139.30 167.80h4.87v2.42h-4.87ZM1144.15 167.80h4.87v2.42h-4.87ZM39.26 170.20h2.42v4.87h-2.42ZM230.70 170.20h2.42v4.87h-2.42ZM228.25 172.65h4.87v2.42h-4.87ZM314.28 170.20h2.42v4.87h-2.42ZM310.63 173.85h4.87v2.42h-4.87ZM325.17 170.20h2.42v4.87h-2.42ZM325.17 172.65h4.87v2.42h-4.87ZM330.02 172.65h4.87v2.42h-4.87ZM334.86 172.65h4.87v2.42h-4.87ZM429.38 170.20h2.42v4.87h-2.42ZM431.78 175.05h4.87v2.42h-4.87ZM460.86 170.20h2.42v4.87h-2.42ZM463.31 170.20h2.42v4.87h-2.42ZM460.86 172.65h4.87v2.42h-4.87ZM480.24 170.20h2.42v4.87h-2.42ZM480.24 172.65h4.87v2.42h-4.87ZM487.54 170.20h2.42v4.87h-2.42ZM485.09 172.65h4.87v2.42h-4.87ZM494.78 170.20h2.42v4.87h-2.42ZM494.78 172.65h4.87v2.42h-4.87ZM499.63 172.65h4.87v2.42h-4.87ZM504.47 172.65h4.87v2.42h-4.87ZM511.77 170.20h2.42v4.87h-2.42ZM600.19 170.20h2.42v4.87h-2.42ZM798.88 170.20h2.42v4.87h-2.42ZM795.23 173.85h4.87v2.42h-4.87ZM814.62 170.20h2.42v4.87h-2.42ZM1132.05 170.20h2.42v4.87h-2.42ZM1148.99 170.20h2.42v4.87h-2.42ZM39.26 175.05h2.42v4.87h-2.42ZM225.85 175.05h2.42v4.87h-2.42ZM223.41 177.49h4.87v2.42h-4.87ZM309.43 175.05h2.42v4.87h-2.42ZM339.71 175.05h2.42v4.87h-2.42ZM339.71 177.49h4.87v2.42h-4.87ZM412.40 177.49h4.87v2.42h-4.87ZM417.25 177.49h4.87v2.42h-4.87ZM434.23 175.05h2.42v4.87h-2.42ZM436.63 178.69h4.87v2.42h-4.87ZM446.32 179.89h4.87v2.42h-4.87ZM451.17 179.89h4.87v2.42h-4.87ZM459.66 175.05h2.42v4.87h-2.42ZM456.01 179.89h4.87v2.42h-4.87ZM460.86 179.89h4.87v2.42h-4.87ZM488.74 175.05h2.42v4.87h-2.42ZM509.32 175.05h2.42v4.87h-2.42ZM511.77 175.05h2.42v4.87h-2.42ZM509.32 177.49h4.87v2.42h-4.87ZM600.19 175.05h2.42v4.87h-2.42ZM794.03 175.05h2.42v4.87h-2.42ZM790.39 178.69h4.87v2.42h-4.87ZM814.62 175.05h2.42v4.87h-2.42ZM1132.05 175.05h2.42v4.87h-2.42ZM1148.99 175.05h2.42v4.87h-2.42ZM39.26 179.89h2.42v4.87h-2.42ZM213.71 182.34h4.87v2.42h-4.87ZM221.01 179.89h2.42v4.87h-2.42ZM218.56 182.34h4.87v2.42h-4.87ZM309.43 179.89h2.42v4.87h-2.42ZM344.56 179.89h2.42v4.87h-2.42ZM344.56 182.34h4.87v2.42h-4.87ZM349.40 182.34h4.87v2.42h-4.87ZM354.25 182.34h4.87v2.42h-4.87ZM383.32 182.34h4.87v2.42h-4.87ZM410.00 179.89h2.42v4.87h-2.42ZM422.09 179.89h2.42v4.87h-2.42ZM422.09 182.34h4.87v2.42h-4.87ZM426.94 182.34h4.87v2.42h-4.87ZM434.23 179.89h2.42v4.87h-2.42ZM431.78 182.34h4.87v2.42h-4.87ZM440.28 179.89h2.42v4.87h-2.42ZM446.32 179.89h2.42v4.87h-2.42ZM441.48 184.74h4.87v2.42h-4.87ZM463.31 179.89h2.42v4.87h-2.42ZM460.86 182.34h4.87v2.42h-4.87ZM488.74 179.89h2.42v4.87h-2.42ZM600.19 179.89h2.42v4.87h-2.42ZM601.39 183.54h4.87v2.42h-4.87ZM789.19 179.89h2.42v4.87h-2.42ZM785.54 183.54h4.87v2.42h-4.87ZM814.62 179.89h2.42v4.87h-2.42ZM1132.05 179.89h2.42v4.87h-2.42ZM1148.99 179.89h2.42v4.87h-2.42ZM39.26 184.74h2.42v4.87h-2.42ZM211.31 184.74h2.42v4.87h-2.42ZM309.43 184.74h2.42v4.87h-2.42ZM359.09 184.74h2.42v4.87h-2.42ZM359.09 187.18h4.87v2.42h-4.87ZM363.94 187.18h4.87v2.42h-4.87ZM380.92 184.74h2.42v4.87h-2.42ZM388.17 184.74h2.42v4.87h-2.42ZM388.17 187.18h4.87v2.42h-4.87ZM393.02 187.18h4.87v2.42h-4.87ZM397.86 187.18h4.87v2.42h-4.87ZM410.00 184.74h2.42v4.87h-2.42ZM441.48 184.74h2.42v4.87h-2.42ZM441.48 187.18h4.87v2.42h-4.87ZM446.32 187.18h4.87v2.42h-4.87ZM451.17 187.18h4.87v2.42h-4.87ZM458.46 184.74h2.42v4.87h-2.42ZM456.01 187.18h4.87v2.42h-4.87ZM488.74 184.74h2.42v4.87h-2.42ZM605.04 184.74h2.42v4.87h-2.42ZM784.34 184.74h2.42v4.87h-2.42ZM780.70 188.38h4.87v2.42h-4.87ZM814.62 184.74h2.42v4.87h-2.42ZM1132.05 184.74h2.42v4.87h-2.42ZM1148.99 184.74h2.42v4.87h-2.42ZM29.57 194.43h4.87v2.42h-4.87ZM39.26 189.58h2.42v4.87h-2.42ZM34.41 194.43h4.87v2.42h-4.87ZM211.31 189.58h2.42v4.87h-2.42ZM309.43 189.58h2.42v4.87h-2.42ZM368.79 189.58h2.42v4.87h-2.42ZM380.92 189.58h2.42v4.87h-2.42ZM402.71 189.58h2.42v4.87h-2.42ZM410.00 189.58h2.42v4.87h-2.42ZM488.74 189.58h2.42v4.87h-2.42ZM605.04 189.58h2.42v4.87h-2.42ZM779.50 189.58h2.42v4.87h-2.42ZM775.85 193.23h4.87v2.42h-4.87ZM814.62 189.58h2.42v4.87h-2.42ZM1132.05 189.58h2.42v4.87h-2.42ZM1148.99 189.58h2.42v4.87h-2.42ZM19.87 199.28h4.87v2.42h-4.87ZM29.57 194.43h2.42v4.87h-2.42ZM24.72 199.28h4.87v2.42h-4.87ZM211.31 194.43h2.42v4.87h-2.42ZM309.43 194.43h2.42v4.87h-2.42ZM368.79 194.43h2.42v4.87h-2.42ZM380.92 194.43h2.42v4.87h-2.42ZM402.71 194.43h2.42v4.87h-2.42ZM402.71 196.88h4.87v2.42h-4.87ZM410.00 194.43h2.42v4.87h-2.42ZM407.55 196.88h4.87v2.42h-4.87ZM488.74 194.43h2.42v4.87h-2.42ZM605.04 194.43h2.42v4.87h-2.42ZM606.24 198.08h4.87v2.42h-4.87ZM774.65 194.43h2.42v4.87h-2.42ZM814.62 194.43h2.42v4.87h-2.42ZM1132.05 194.43h2.42v4.87h-2.42ZM1148.99 194.43h2.42v4.87h-2.42ZM10.18 204.12h4.87v2.42h-4.87ZM19.87 199.28h2.42v4.87h-2.42ZM15.03 204.12h4.87v2.42h-4.87ZM211.31 199.28h2.42v4.87h-2.42ZM309.43 199.28h2.42v4.87h-2.42ZM368.79 199.28h2.42v4.87h-2.42ZM368.79 201.72h4.87v2.42h-4.87ZM373.63 201.72h4.87v2.42h-4.87ZM380.92 199.28h2.42v4.87h-2.42ZM378.48 201.72h4.87v2.42h-4.87ZM488.74 199.28h2.42v4.87h-2.42ZM609.89 199.28h2.42v4.87h-2.42ZM774.65 199.28h2.42v4.87h-2.42ZM771.00 202.92h4.87v2.42h-4.87ZM814.62 199.28h2.42v4.87h-2.42ZM1132.05 199.28h2.42v4.87h-2.42ZM1148.99 199.28h2.42v4.87h-2.42ZM-4.36 208.97h4.87v2.42h-4.87ZM0.49 208.97h4.87v2.42h-4.87ZM10.18 204.12h2.42v4.87h-2.42ZM5.34 208.97h4.87v2.42h-4.87ZM68.33 206.57h4.87v2.42h-4.87ZM73.18 206.57h4.87v2.42h-4.87ZM78.03 206.57h4.87v2.42h-4.87ZM82.87 206.57h4.87v2.42h-4.87ZM92.56 206.57h4.87v2.42h-4.87ZM97.41 206.57h4.87v2.42h-4.87ZM102.26 206.57h4.87v2.42h-4.87ZM107.10 206.57h4.87v2.42h-4.87ZM111.95 206.57h4.87v2.42h-4.87ZM116.79 206.57h4.87v2.42h-4.87ZM121.64 206.57h4.87v2.42h-4.87ZM211.31 204.12h2.42v4.87h-2.42ZM309.43 204.12h2.42v4.87h-2.42ZM488.74 204.12h2.42v4.87h-2.42ZM609.89 204.12h2.42v4.87h-2.42ZM611.09 207.77h4.87v2.42h-4.87ZM769.80 204.12h2.42v4.87h-2.42ZM814.62 204.12h2.42v4.87h-2.42ZM1132.05 204.12h2.42v4.87h-2.42ZM1148.99 204.12h2.42v4.87h-2.42ZM-4.36 208.97h2.42v4.87h-2.42ZM-9.20 213.81h4.87v2.42h-4.87ZM65.93 208.97h2.42v4.87h-2.42ZM87.72 208.97h2.42v4.87h-2.42ZM90.16 208.97h2.42v4.87h-2.42ZM87.72 211.41h4.87v2.42h-4.87ZM126.49 208.97h2.42v4.87h-2.42ZM126.49 211.41h4.87v2.42h-4.87ZM211.31 208.97h2.42v4.87h-2.42ZM208.87 211.41h4.87v2.42h-4.87ZM309.43 208.97h2.42v4.87h-2.42ZM488.74 208.97h2.42v4.87h-2.42ZM614.73 208.97h2.42v4.87h-2.42ZM769.80 208.97h2.42v4.87h-2.42ZM814.62 208.97h2.42v4.87h-2.42ZM1132.05 208.97h2.42v4.87h-2.42ZM1148.99 208.97h2.42v4.87h-2.42ZM65.93 213.81h2.42v4.87h-2.42ZM131.33 213.81h2.42v4.87h-2.42ZM206.47 213.81h2.42v4.87h-2.42ZM204.02 216.26h4.87v2.42h-4.87ZM309.43 213.81h2.42v4.87h-2.42ZM488.74 213.81h2.42v4.87h-2.42ZM485.09 217.46h4.87v2.42h-4.87ZM614.73 213.81h2.42v4.87h-2.42ZM615.93 217.46h4.87v2.42h-4.87ZM769.80 213.81h2.42v4.87h-2.42ZM814.62 213.81h2.42v4.87h-2.42ZM1132.05 213.81h2.42v4.87h-2.42ZM1148.99 213.81h2.42v4.87h-2.42ZM65.93 218.66h2.42v4.87h-2.42ZM131.33 218.66h2.42v4.87h-2.42ZM201.62 218.66h2.42v4.87h-2.42ZM199.18 221.11h4.87v2.42h-4.87ZM309.43 218.66h2.42v4.87h-2.42ZM310.63 222.31h4.87v2.42h-4.87ZM475.40 222.31h4.87v2.42h-4.87ZM483.89 218.66h2.42v4.87h-2.42ZM480.24 222.31h4.87v2.42h-4.87ZM619.58 218.66h2.42v4.87h-2.42ZM620.78 222.31h4.87v2.42h-4.87ZM769.80 218.66h2.42v4.87h-2.42ZM814.62 218.66h2.42v4.87h-2.42ZM1132.05 218.66h2.42v4.87h-2.42ZM1148.99 218.66h2.42v4.87h-2.42ZM65.93 223.51h2.42v4.87h-2.42ZM131.33 223.51h2.42v4.87h-2.42ZM189.48 225.95h4.87v2.42h-4.87ZM196.78 223.51h2.42v4.87h-2.42ZM194.33 225.95h4.87v2.42h-4.87ZM314.28 223.51h2.42v4.87h-2.42ZM465.71 227.15h4.87v2.42h-4.87ZM474.20 223.51h2.42v4.87h-2.42ZM470.55 227.15h4.87v2.42h-4.87ZM624.42 223.51h2.42v4.87h-2.42ZM625.62 227.15h4.87v2.42h-4.87ZM769.80 223.51h2.42v4.87h-2.42ZM814.62 223.51h2.42v4.87h-2.42ZM1132.05 223.51h2.42v4.87h-2.42ZM1148.99 223.51h2.42v4.87h-2.42ZM65.93 228.35h2.42v4.87h-2.42ZM68.33 233.20h4.87v2.42h-4.87ZM131.33 228.35h2.42v4.87h-2.42ZM126.49 233.20h4.87v2.42h-4.87ZM179.79 230.80h4.87v2.42h-4.87ZM187.08 228.35h2.42v4.87h-2.42ZM184.64 230.80h4.87v2.42h-4.87ZM314.28 228.35h2.42v4.87h-2.42ZM315.48 232.00h4.87v2.42h-4.87ZM464.51 228.35h2.42v4.87h-2.42ZM460.86 232.00h4.87v2.42h-4.87ZM629.27 228.35h2.42v4.87h-2.42ZM769.80 228.35h2.42v4.87h-2.42ZM771.00 232.00h4.87v2.42h-4.87ZM775.85 232.00h4.87v2.42h-4.87ZM814.62 228.35h2.42v4.87h-2.42ZM1132.05 228.35h2.42v4.87h-2.42ZM1148.99 228.35h2.42v4.87h-2.42ZM70.78 233.20h2.42v4.87h-2.42ZM73.18 238.04h4.87v2.42h-4.87ZM126.49 233.20h2.42v4.87h-2.42ZM121.64 238.04h4.87v2.42h-4.87ZM177.39 233.20h2.42v4.87h-2.42ZM174.95 235.64h4.87v2.42h-4.87ZM319.13 233.20h2.42v4.87h-2.42ZM459.66 233.20h2.42v4.87h-2.42ZM456.01 236.84h4.87v2.42h-4.87ZM629.27 233.20h2.42v4.87h-2.42ZM630.47 236.84h4.87v2.42h-4.87ZM779.50 233.20h2.42v4.87h-2.42ZM780.70 236.84h4.87v2.42h-4.87ZM785.54 236.84h4.87v2.42h-4.87ZM814.62 233.20h2.42v4.87h-2.42ZM1132.05 233.20h2.42v4.87h-2.42ZM1148.99 233.20h2.42v4.87h-2.42ZM75.63 238.04h2.42v4.87h-2.42ZM78.03 242.89h4.87v2.42h-4.87ZM82.87 242.89h4.87v2.42h-4.87ZM111.95 242.89h4.87v2.42h-4.87ZM121.64 238.04h2.42v4.87h-2.42ZM116.79 242.89h4.87v2.42h-4.87ZM165.25 240.49h4.87v2.42h-4.87ZM172.55 238.04h2.42v4.87h-2.42ZM170.10 240.49h4.87v2.42h-4.87ZM319.13 238.04h2.42v4.87h-2.42ZM454.81 238.04h2.42v4.87h-2.42ZM451.17 241.69h4.87v2.42h-4.87ZM634.12 238.04h2.42v4.87h-2.42ZM789.19 238.04h2.42v4.87h-2.42ZM790.39 241.69h4.87v2.42h-4.87ZM795.23 241.69h4.87v2.42h-4.87ZM800.08 241.69h4.87v2.42h-4.87ZM814.62 238.04h2.42v4.87h-2.42ZM814.62 240.49h4.87v2.42h-4.87ZM1132.05 238.04h2.42v4.87h-2.42ZM1148.99 238.04h2.42v4.87h-2.42ZM85.32 242.89h2.42v4.87h-2.42ZM87.72 247.74h4.87v2.42h-4.87ZM92.56 247.74h4.87v2.42h-4.87ZM97.41 247.74h4.87v2.42h-4.87ZM102.26 247.74h4.87v2.42h-4.87ZM111.95 242.89h2.42v4.87h-2.42ZM107.10 247.74h4.87v2.42h-4.87ZM162.85 242.89h2.42v4.87h-2.42ZM160.41 245.34h4.87v2.42h-4.87ZM319.13 242.89h2.42v4.87h-2.42ZM315.48 246.54h4.87v2.42h-4.87ZM449.97 242.89h2.42v4.87h-2.42ZM634.12 242.89h2.42v4.87h-2.42ZM803.73 242.89h2.42v4.87h-2.42ZM804.93 246.54h4.87v2.42h-4.87ZM809.77 246.54h4.87v2.42h-4.87ZM819.46 242.89h2.42v4.87h-2.42ZM814.62 246.54h4.87v2.42h-4.87ZM1132.05 242.89h2.42v4.87h-2.42ZM1148.99 242.89h2.42v4.87h-2.42ZM158.01 247.74h2.42v4.87h-2.42ZM314.28 247.74h2.42v4.87h-2.42ZM449.97 247.74h2.42v4.87h-2.42ZM634.12 247.74h2.42v4.87h-2.42ZM819.46 247.74h2.42v4.87h-2.42ZM814.62 252.58h4.87v2.42h-4.87ZM1132.05 247.74h2.42v4.87h-2.42ZM1148.99 247.74h2.42v4.87h-2.42ZM158.01 252.58h2.42v4.87h-2.42ZM314.28 252.58h2.42v4.87h-2.42ZM310.63 256.23h4.87v2.42h-4.87ZM449.97 252.58h2.42v4.87h-2.42ZM634.12 252.58h2.42v4.87h-2.42ZM814.62 252.58h2.42v4.87h-2.42ZM1132.05 252.58h2.42v4.87h-2.42ZM1148.99 252.58h2.42v4.87h-2.42ZM158.01 257.43h2.42v4.87h-2.42ZM309.43 257.43h2.42v4.87h-2.42ZM449.97 257.43h2.42v4.87h-2.42ZM446.32 261.07h4.87v2.42h-4.87ZM634.12 257.43h2.42v4.87h-2.42ZM814.62 257.43h2.42v4.87h-2.42ZM1132.05 257.43h2.42v4.87h-2.42ZM1134.45 262.27h4.87v2.42h-4.87ZM1139.30 262.27h4.87v2.42h-4.87ZM1148.99 257.43h2.42v4.87h-2.42ZM1144.15 262.27h4.87v2.42h-4.87ZM158.01 262.27h2.42v4.87h-2.42ZM309.43 262.27h2.42v4.87h-2.42ZM445.12 262.27h2.42v4.87h-2.42ZM634.12 262.27h2.42v4.87h-2.42ZM814.62 262.27h2.42v4.87h-2.42ZM111.95 269.57h4.87v2.42h-4.87ZM158.01 267.12h2.42v4.87h-2.42ZM309.43 267.12h2.42v4.87h-2.42ZM445.12 267.12h2.42v4.87h-2.42ZM634.12 267.12h2.42v4.87h-2.42ZM814.62 267.12h2.42v4.87h-2.42ZM109.55 271.97h2.42v4.87h-2.42ZM107.10 274.41h4.87v2.42h-4.87ZM116.79 271.97h2.42v4.87h-2.42ZM158.01 271.97h2.42v4.87h-2.42ZM309.43 271.97h2.42v4.87h-2.42ZM445.12 271.97h2.42v4.87h-2.42ZM601.39 275.61h4.87v2.42h-4.87ZM606.24 275.61h4.87v2.42h-4.87ZM611.09 275.61h4.87v2.42h-4.87ZM615.93 275.61h4.87v2.42h-4.87ZM620.78 275.61h4.87v2.42h-4.87ZM625.62 275.61h4.87v2.42h-4.87ZM634.12 271.97h2.42v4.87h-2.42ZM630.47 275.61h4.87v2.42h-4.87ZM814.62 271.97h2.42v4.87h-2.42ZM92.56 279.26h4.87v2.42h-4.87ZM97.41 279.26h4.87v2.42h-4.87ZM104.70 276.81h2.42v4.87h-2.42ZM102.26 279.26h4.87v2.42h-4.87ZM116.79 276.81h2.42v4.87h-2.42ZM116.79 279.26h4.87v2.42h-4.87ZM158.01 276.81h2.42v4.87h-2.42ZM309.43 276.81h2.42v4.87h-2.42ZM445.12 276.81h2.42v4.87h-2.42ZM591.70 280.46h4.87v2.42h-4.87ZM600.19 276.81h2.42v4.87h-2.42ZM596.55 280.46h4.87v2.42h-4.87ZM814.62 276.81h2.42v4.87h-2.42ZM90.16 281.66h2.42v4.87h-2.42ZM121.64 281.66h2.42v4.87h-2.42ZM158.01 281.66h2.42v4.87h-2.42ZM160.41 286.50h4.87v2.42h-4.87ZM309.43 281.66h2.42v4.87h-2.42ZM445.12 281.66h2.42v4.87h-2.42ZM441.48 285.30h4.87v2.42h-4.87ZM582.01 285.30h4.87v2.42h-4.87ZM590.50 281.66h2.42v4.87h-2.42ZM586.86 285.30h4.87v2.42h-4.87ZM814.62 281.66h2.42v4.87h-2.42ZM90.16 286.50h2.42v4.87h-2.42ZM121.64 286.50h2.42v4.87h-2.42ZM162.85 286.50h2.42v4.87h-2.42ZM179.79 290.15h4.87v2.42h-4.87ZM184.64 290.15h4.87v2.42h-4.87ZM189.48 290.15h4.87v2.42h-4.87ZM309.43 286.50h2.42v4.87h-2.42ZM440.28 286.50h2.42v4.87h-2.42ZM580.81 286.50h2.42v4.87h-2.42ZM577.16 290.15h4.87v2.42h-4.87ZM814.62 286.50h2.42v4.87h-2.42ZM90.16 291.35h2.42v4.87h-2.42ZM121.64 291.35h2.42v4.87h-2.42ZM162.85 291.35h2.42v4.87h-2.42ZM165.25 296.20h4.87v2.42h-4.87ZM170.10 296.20h4.87v2.42h-4.87ZM178.59 291.35h2.42v4.87h-2.42ZM174.95 295.00h4.87v2.42h-4.87ZM193.13 291.35h2.42v4.87h-2.42ZM309.43 291.35h2.42v4.87h-2.42ZM310.63 295.00h4.87v2.42h-4.87ZM440.28 291.35h2.42v4.87h-2.42ZM436.63 295.00h4.87v2.42h-4.87ZM575.96 291.35h2.42v4.87h-2.42ZM572.32 295.00h4.87v2.42h-4.87ZM814.62 291.35h2.42v4.87h-2.42ZM814.62 293.80h4.87v2.42h-4.87ZM90.16 296.20h2.42v4.87h-2.42ZM121.64 296.20h2.42v4.87h-2.42ZM172.55 296.20h2.42v4.87h-2.42ZM174.95 301.04h4.87v2.42h-4.87ZM193.13 296.20h2.42v4.87h-2.42ZM314.28 296.20h2.42v4.87h-2.42ZM435.43 296.20h2.42v4.87h-2.42ZM431.78 299.84h4.87v2.42h-4.87ZM571.12 296.20h2.42v4.87h-2.42ZM567.47 299.84h4.87v2.42h-4.87ZM809.77 299.84h4.87v2.42h-4.87ZM819.46 296.20h2.42v4.87h-2.42ZM814.62 301.04h4.87v2.42h-4.87ZM90.16 301.04h2.42v4.87h-2.42ZM87.72 303.49h4.87v2.42h-4.87ZM121.64 301.04h2.42v4.87h-2.42ZM177.39 301.04h2.42v4.87h-2.42ZM193.13 301.04h2.42v4.87h-2.42ZM314.28 301.04h2.42v4.87h-2.42ZM430.58 301.04h2.42v4.87h-2.42ZM426.94 304.69h4.87v2.42h-4.87ZM566.27 301.04h2.42v4.87h-2.42ZM562.63 304.69h4.87v2.42h-4.87ZM795.23 304.69h4.87v2.42h-4.87ZM800.08 304.69h4.87v2.42h-4.87ZM808.57 301.04h2.42v4.87h-2.42ZM804.93 304.69h4.87v2.42h-4.87ZM814.62 301.04h2.42v4.87h-2.42ZM78.03 308.33h4.87v2.42h-4.87ZM85.32 305.89h2.42v4.87h-2.42ZM82.87 308.33h4.87v2.42h-4.87ZM121.64 305.89h2.42v4.87h-2.42ZM121.64 308.33h4.87v2.42h-4.87ZM126.49 308.33h4.87v2.42h-4.87ZM177.39 305.89h2.42v4.87h-2.42ZM193.13 305.89h2.42v4.87h-2.42ZM305.79 309.53h4.87v2.42h-4.87ZM314.28 305.89h2.42v4.87h-2.42ZM310.63 309.53h4.87v2.42h-4.87ZM425.74 305.89h2.42v4.87h-2.42ZM561.43 305.89h2.42v4.87h-2.42ZM557.78 309.53h4.87v2.42h-4.87ZM785.54 309.53h4.87v2.42h-4.87ZM794.03 305.89h2.42v4.87h-2.42ZM790.39 309.53h4.87v2.42h-4.87ZM814.62 305.89h2.42v4.87h-2.42ZM75.63 310.73h2.42v4.87h-2.42ZM131.33 310.73h2.42v4.87h-2.42ZM131.33 313.18h4.87v2.42h-4.87ZM177.39 310.73h2.42v4.87h-2.42ZM193.13 310.73h2.42v4.87h-2.42ZM228.25 314.38h4.87v2.42h-4.87ZM233.10 314.38h4.87v2.42h-4.87ZM237.94 314.38h4.87v2.42h-4.87ZM242.79 314.38h4.87v2.42h-4.87ZM247.64 314.38h4.87v2.42h-4.87ZM252.48 314.38h4.87v2.42h-4.87ZM257.33 314.38h4.87v2.42h-4.87ZM304.59 310.73h2.42v4.87h-2.42ZM425.74 310.73h2.42v4.87h-2.42ZM422.09 314.38h4.87v2.42h-4.87ZM556.58 310.73h2.42v4.87h-2.42ZM557.78 314.38h4.87v2.42h-4.87ZM562.63 314.38h4.87v2.42h-4.87ZM567.47 314.38h4.87v2.42h-4.87ZM572.32 314.38h4.87v2.42h-4.87ZM577.16 314.38h4.87v2.42h-4.87ZM582.01 314.38h4.87v2.42h-4.87ZM775.85 314.38h4.87v2.42h-4.87ZM784.34 310.73h2.42v4.87h-2.42ZM780.70 314.38h4.87v2.42h-4.87ZM814.62 310.73h2.42v4.87h-2.42ZM75.63 315.58h2.42v4.87h-2.42ZM136.18 315.58h2.42v4.87h-2.42ZM136.18 318.03h4.87v2.42h-4.87ZM177.39 315.58h2.42v4.87h-2.42ZM174.95 318.03h4.87v2.42h-4.87ZM193.13 315.58h2.42v4.87h-2.42ZM194.33 319.23h4.87v2.42h-4.87ZM199.18 319.23h4.87v2.42h-4.87ZM204.02 319.23h4.87v2.42h-4.87ZM208.87 319.23h4.87v2.42h-4.87ZM213.71 319.23h4.87v2.42h-4.87ZM218.56 319.23h4.87v2.42h-4.87ZM227.05 315.58h2.42v4.87h-2.42ZM223.41 319.23h4.87v2.42h-4.87ZM260.97 315.58h2.42v4.87h-2.42ZM262.17 319.23h4.87v2.42h-4.87ZM267.02 319.23h4.87v2.42h-4.87ZM304.59 315.58h2.42v4.87h-2.42ZM420.89 315.58h2.42v4.87h-2.42ZM417.25 319.23h4.87v2.42h-4.87ZM528.70 319.23h4.87v2.42h-4.87ZM533.55 319.23h4.87v2.42h-4.87ZM538.40 319.23h4.87v2.42h-4.87ZM543.24 319.23h4.87v2.42h-4.87ZM548.09 319.23h4.87v2.42h-4.87ZM556.58 315.58h2.42v4.87h-2.42ZM552.93 319.23h4.87v2.42h-4.87ZM585.66 315.58h2.42v4.87h-2.42ZM586.86 319.23h4.87v2.42h-4.87ZM774.65 315.58h2.42v4.87h-2.42ZM771.00 319.23h4.87v2.42h-4.87ZM814.62 315.58h2.42v4.87h-2.42ZM75.63 320.43h2.42v4.87h-2.42ZM73.18 322.87h4.87v2.42h-4.87ZM141.02 320.43h2.42v4.87h-2.42ZM141.02 322.87h4.87v2.42h-4.87ZM165.25 322.87h4.87v2.42h-4.87ZM172.55 320.43h2.42v4.87h-2.42ZM170.10 322.87h4.87v2.42h-4.87ZM217.36 320.43h2.42v4.87h-2.42ZM270.67 320.43h2.42v4.87h-2.42ZM271.87 324.07h4.87v2.42h-4.87ZM276.71 324.07h4.87v2.42h-4.87ZM281.56 324.07h4.87v2.42h-4.87ZM286.40 324.07h4.87v2.42h-4.87ZM291.25 324.07h4.87v2.42h-4.87ZM296.10 324.07h4.87v2.42h-4.87ZM304.59 320.43h2.42v4.87h-2.42ZM300.94 324.07h4.87v2.42h-4.87ZM416.05 320.43h2.42v4.87h-2.42ZM412.40 324.07h4.87v2.42h-4.87ZM519.01 324.07h4.87v2.42h-4.87ZM527.50 320.43h2.42v4.87h-2.42ZM523.86 324.07h4.87v2.42h-4.87ZM590.50 320.43h2.42v4.87h-2.42ZM591.70 324.07h4.87v2.42h-4.87ZM769.80 320.43h2.42v4.87h-2.42ZM766.16 324.07h4.87v2.42h-4.87ZM814.62 320.43h2.42v4.87h-2.42ZM70.78 325.27h2.42v4.87h-2.42ZM145.87 325.27h2.42v4.87h-2.42ZM162.85 325.27h2.42v4.87h-2.42ZM160.41 327.72h4.87v2.42h-4.87ZM217.36 325.27h2.42v4.87h-2.42ZM304.59 325.27h2.42v4.87h-2.42ZM411.20 325.27h2.42v4.87h-2.42ZM517.81 325.27h2.42v4.87h-2.42ZM595.35 325.27h2.42v4.87h-2.42ZM596.55 328.92h4.87v2.42h-4.87ZM764.96 325.27h2.42v4.87h-2.42ZM761.31 328.92h4.87v2.42h-4.87ZM814.62 325.27h2.42v4.87h-2.42ZM70.78 330.12h2.42v4.87h-2.42ZM145.87 330.12h2.42v4.87h-2.42ZM158.01 330.12h2.42v4.87h-2.42ZM155.56 332.56h4.87v2.42h-4.87ZM217.36 330.12h2.42v4.87h-2.42ZM304.59 330.12h2.42v4.87h-2.42ZM300.94 333.76h4.87v2.42h-4.87ZM411.20 330.12h2.42v4.87h-2.42ZM407.55 333.76h4.87v2.42h-4.87ZM517.81 330.12h2.42v4.87h-2.42ZM600.19 330.12h2.42v4.87h-2.42ZM601.39 333.76h4.87v2.42h-4.87ZM606.24 333.76h4.87v2.42h-4.87ZM760.11 330.12h2.42v4.87h-2.42ZM756.47 333.76h4.87v2.42h-4.87ZM814.62 330.12h2.42v4.87h-2.42ZM70.78 334.96h2.42v4.87h-2.42ZM145.87 334.96h2.42v4.87h-2.42ZM145.87 337.41h4.87v2.42h-4.87ZM153.16 334.96h2.42v4.87h-2.42ZM150.72 337.41h4.87v2.42h-4.87ZM217.36 334.96h2.42v4.87h-2.42ZM299.74 334.96h2.42v4.87h-2.42ZM406.35 334.96h2.42v4.87h-2.42ZM402.71 338.61h4.87v2.42h-4.87ZM517.81 334.96h2.42v4.87h-2.42ZM609.89 334.96h2.42v4.87h-2.42ZM611.09 338.61h4.87v2.42h-4.87ZM615.93 338.61h4.87v2.42h-4.87ZM703.16 338.61h4.87v2.42h-4.87ZM708.01 338.61h4.87v2.42h-4.87ZM712.85 338.61h4.87v2.42h-4.87ZM717.70 338.61h4.87v2.42h-4.87ZM755.27 334.96h2.42v4.87h-2.42ZM814.62 334.96h2.42v4.87h-2.42ZM70.78 339.81h2.42v4.87h-2.42ZM217.36 339.81h2.42v4.87h-2.42ZM299.74 339.81h2.42v4.87h-2.42ZM296.10 343.46h4.87v2.42h-4.87ZM401.51 339.81h2.42v4.87h-2.42ZM517.81 339.81h2.42v4.87h-2.42ZM619.58 339.81h2.42v4.87h-2.42ZM620.78 343.46h4.87v2.42h-4.87ZM701.96 339.81h2.42v4.87h-2.42ZM698.31 343.46h4.87v2.42h-4.87ZM721.34 339.81h2.42v4.87h-2.42ZM722.54 343.46h4.87v2.42h-4.87ZM727.39 343.46h4.87v2.42h-4.87ZM732.24 343.46h4.87v2.42h-4.87ZM737.08 343.46h4.87v2.42h-4.87ZM741.93 343.46h4.87v2.42h-4.87ZM746.77 343.46h4.87v2.42h-4.87ZM755.27 339.81h2.42v4.87h-2.42ZM751.62 343.46h4.87v2.42h-4.87ZM814.62 339.81h2.42v4.87h-2.42ZM814.62 342.26h4.87v2.42h-4.87ZM70.78 344.66h2.42v4.87h-2.42ZM217.36 344.66h2.42v4.87h-2.42ZM294.90 344.66h2.42v4.87h-2.42ZM401.51 344.66h2.42v4.87h-2.42ZM402.71 348.30h4.87v2.42h-4.87ZM517.81 344.66h2.42v4.87h-2.42ZM519.01 348.30h4.87v2.42h-4.87ZM624.42 344.66h2.42v4.87h-2.42ZM697.11 344.66h2.42v4.87h-2.42ZM693.47 348.30h4.87v2.42h-4.87ZM755.27 344.66h2.42v4.87h-2.42ZM756.47 348.30h4.87v2.42h-4.87ZM761.31 348.30h4.87v2.42h-4.87ZM766.16 348.30h4.87v2.42h-4.87ZM771.00 348.30h4.87v2.42h-4.87ZM775.85 348.30h4.87v2.42h-4.87ZM780.70 348.30h4.87v2.42h-4.87ZM804.93 348.30h4.87v2.42h-4.87ZM809.77 348.30h4.87v2.42h-4.87ZM819.46 344.66h2.42v4.87h-2.42ZM814.62 349.50h4.87v2.42h-4.87ZM70.78 349.50h2.42v4.87h-2.42ZM73.18 354.35h4.87v2.42h-4.87ZM78.03 354.35h4.87v2.42h-4.87ZM82.87 354.35h4.87v2.42h-4.87ZM87.72 354.35h4.87v2.42h-4.87ZM92.56 354.35h4.87v2.42h-4.87ZM97.41 354.35h4.87v2.42h-4.87ZM217.36 349.50h2.42v4.87h-2.42ZM294.90 349.50h2.42v4.87h-2.42ZM406.35 349.50h2.42v4.87h-2.42ZM522.66 349.50h2.42v4.87h-2.42ZM523.86 353.15h4.87v2.42h-4.87ZM624.42 349.50h2.42v4.87h-2.42ZM625.62 353.15h4.87v2.42h-4.87ZM692.27 349.50h2.42v4.87h-2.42ZM784.34 349.50h2.42v4.87h-2.42ZM785.54 353.15h4.87v2.42h-4.87ZM790.39 353.15h4.87v2.42h-4.87ZM795.23 353.15h4.87v2.42h-4.87ZM803.73 349.50h2.42v4.87h-2.42ZM800.08 353.15h4.87v2.42h-4.87ZM814.62 349.50h2.42v4.87h-2.42ZM99.86 354.35h2.42v4.87h-2.42ZM217.36 354.35h2.42v4.87h-2.42ZM294.90 354.35h2.42v4.87h-2.42ZM406.35 354.35h2.42v4.87h-2.42ZM527.50 354.35h2.42v4.87h-2.42ZM523.86 357.99h4.87v2.42h-4.87ZM629.27 354.35h2.42v4.87h-2.42ZM630.47 357.99h4.87v2.42h-4.87ZM635.32 357.99h4.87v2.42h-4.87ZM692.27 354.35h2.42v4.87h-2.42ZM688.62 357.99h4.87v2.42h-4.87ZM814.62 354.35h2.42v4.87h-2.42ZM99.86 359.19h2.42v4.87h-2.42ZM217.36 359.19h2.42v4.87h-2.42ZM294.90 359.19h2.42v4.87h-2.42ZM291.25 362.84h4.87v2.42h-4.87ZM406.35 359.19h2.42v4.87h-2.42ZM402.71 362.84h4.87v2.42h-4.87ZM460.86 362.84h4.87v2.42h-4.87ZM465.71 362.84h4.87v2.42h-4.87ZM470.55 362.84h4.87v2.42h-4.87ZM475.40 362.84h4.87v2.42h-4.87ZM480.24 362.84h4.87v2.42h-4.87ZM485.09 362.84h4.87v2.42h-4.87ZM514.17 362.84h4.87v2.42h-4.87ZM522.66 359.19h2.42v4.87h-2.42ZM519.01 362.84h4.87v2.42h-4.87ZM638.96 359.19h2.42v4.87h-2.42ZM640.16 362.84h4.87v2.42h-4.87ZM645.01 362.84h4.87v2.42h-4.87ZM649.85 362.84h4.87v2.42h-4.87ZM687.42 359.19h2.42v4.87h-2.42ZM683.78 362.84h4.87v2.42h-4.87ZM814.62 359.19h2.42v4.87h-2.42ZM99.86 364.04h2.42v4.87h-2.42ZM217.36 364.04h2.42v4.87h-2.42ZM290.05 364.04h2.42v4.87h-2.42ZM401.51 364.04h2.42v4.87h-2.42ZM397.86 367.69h4.87v2.42h-4.87ZM436.63 367.69h4.87v2.42h-4.87ZM441.48 367.69h4.87v2.42h-4.87ZM446.32 367.69h4.87v2.42h-4.87ZM451.17 367.69h4.87v2.42h-4.87ZM459.66 364.04h2.42v4.87h-2.42ZM456.01 367.69h4.87v2.42h-4.87ZM488.74 364.04h2.42v4.87h-2.42ZM489.94 367.69h4.87v2.42h-4.87ZM494.78 367.69h4.87v2.42h-4.87ZM499.63 367.69h4.87v2.42h-4.87ZM504.47 367.69h4.87v2.42h-4.87ZM512.97 364.04h2.42v4.87h-2.42ZM509.32 367.69h4.87v2.42h-4.87ZM653.50 364.04h2.42v4.87h-2.42ZM654.70 367.69h4.87v2.42h-4.87ZM659.55 367.69h4.87v2.42h-4.87ZM664.39 367.69h4.87v2.42h-4.87ZM669.24 367.69h4.87v2.42h-4.87ZM674.08 367.69h4.87v2.42h-4.87ZM682.58 364.04h2.42v4.87h-2.42ZM678.93 367.69h4.87v2.42h-4.87ZM814.62 364.04h2.42v4.87h-2.42ZM99.86 368.89h2.42v4.87h-2.42ZM102.26 373.73h4.87v2.42h-4.87ZM217.36 368.89h2.42v4.87h-2.42ZM290.05 368.89h2.42v4.87h-2.42ZM396.66 368.89h2.42v4.87h-2.42ZM393.02 372.53h4.87v2.42h-4.87ZM435.43 368.89h2.42v4.87h-2.42ZM682.58 368.89h2.42v4.87h-2.42ZM814.62 368.89h2.42v4.87h-2.42ZM104.70 373.73h2.42v4.87h-2.42ZM217.36 373.73h2.42v4.87h-2.42ZM290.05 373.73h2.42v4.87h-2.42ZM391.82 373.73h2.42v4.87h-2.42ZM435.43 373.73h2.42v4.87h-2.42ZM431.78 377.38h4.87v2.42h-4.87ZM682.58 373.73h2.42v4.87h-2.42ZM814.62 373.73h2.42v4.87h-2.42ZM104.70 378.58h2.42v4.87h-2.42ZM107.10 383.42h4.87v2.42h-4.87ZM217.36 378.58h2.42v4.87h-2.42ZM290.05 378.58h2.42v4.87h-2.42ZM291.25 382.22h4.87v2.42h-4.87ZM391.82 378.58h2.42v4.87h-2.42ZM430.58 378.58h2.42v4.87h-2.42ZM682.58 378.58h2.42v4.87h-2.42ZM683.78 382.22h4.87v2.42h-4.87ZM814.62 378.58h2.42v4.87h-2.42ZM109.55 383.42h2.42v4.87h-2.42ZM111.95 388.27h4.87v2.42h-4.87ZM194.33 387.07h4.87v2.42h-4.87ZM199.18 387.07h4.87v2.42h-4.87ZM204.02 387.07h4.87v2.42h-4.87ZM208.87 387.07h4.87v2.42h-4.87ZM217.36 383.42h2.42v4.87h-2.42ZM213.71 387.07h4.87v2.42h-4.87ZM218.56 387.07h4.87v2.42h-4.87ZM294.90 383.42h2.42v4.87h-2.42ZM296.10 387.07h4.87v2.42h-4.87ZM391.82 383.42h2.42v4.87h-2.42ZM422.09 387.07h4.87v2.42h-4.87ZM430.58 383.42h2.42v4.87h-2.42ZM426.94 387.07h4.87v2.42h-4.87ZM687.42 383.42h2.42v4.87h-2.42ZM688.62 387.07h4.87v2.42h-4.87ZM814.62 383.42h2.42v4.87h-2.42ZM114.39 388.27h2.42v4.87h-2.42ZM116.79 393.12h4.87v2.42h-4.87ZM193.13 388.27h2.42v4.87h-2.42ZM189.48 391.92h4.87v2.42h-4.87ZM222.21 388.27h2.42v4.87h-2.42ZM223.41 391.92h4.87v2.42h-4.87ZM228.25 391.92h4.87v2.42h-4.87ZM299.74 388.27h2.42v4.87h-2.42ZM391.82 388.27h2.42v4.87h-2.42ZM393.02 391.92h4.87v2.42h-4.87ZM420.89 388.27h2.42v4.87h-2.42ZM417.25 391.92h4.87v2.42h-4.87ZM692.27 388.27h2.42v4.87h-2.42ZM814.62 388.27h2.42v4.87h-2.42ZM119.24 393.12h2.42v4.87h-2.42ZM121.64 396.76h4.87v2.42h-4.87ZM179.79 396.76h4.87v2.42h-4.87ZM188.28 393.12h2.42v4.87h-2.42ZM184.64 396.76h4.87v2.42h-4.87ZM231.90 393.12h2.42v4.87h-2.42ZM233.10 396.76h4.87v2.42h-4.87ZM237.94 396.76h4.87v2.42h-4.87ZM271.87 396.76h4.87v2.42h-4.87ZM276.71 396.76h4.87v2.42h-4.87ZM281.56 396.76h4.87v2.42h-4.87ZM286.40 396.76h4.87v2.42h-4.87ZM291.25 396.76h4.87v2.42h-4.87ZM299.74 393.12h2.42v4.87h-2.42ZM296.10 396.76h4.87v2.42h-4.87ZM300.94 396.76h4.87v2.42h-4.87ZM305.79 397.96h4.87v2.42h-4.87ZM310.63 397.96h4.87v2.42h-4.87ZM315.48 397.96h4.87v2.42h-4.87ZM396.66 393.12h2.42v4.87h-2.42ZM397.86 397.96h4.87v2.42h-4.87ZM407.55 397.96h4.87v2.42h-4.87ZM416.05 393.12h2.42v4.87h-2.42ZM412.40 397.96h4.87v2.42h-4.87ZM417.25 397.96h4.87v2.42h-4.87ZM692.27 393.12h2.42v4.87h-2.42ZM688.62 396.76h4.87v2.42h-4.87ZM814.62 393.12h2.42v4.87h-2.42ZM78.03 400.41h4.87v2.42h-4.87ZM82.87 400.41h4.87v2.42h-4.87ZM87.72 400.41h4.87v2.42h-4.87ZM92.56 400.41h4.87v2.42h-4.87ZM97.41 400.41h4.87v2.42h-4.87ZM102.26 400.41h4.87v2.42h-4.87ZM107.10 400.41h4.87v2.42h-4.87ZM111.95 400.41h4.87v2.42h-4.87ZM119.24 397.96h2.42v4.87h-2.42ZM116.79 400.41h4.87v2.42h-4.87ZM125.29 397.96h2.42v4.87h-2.42ZM126.49 401.61h4.87v2.42h-4.87ZM131.33 401.61h4.87v2.42h-4.87ZM178.59 397.96h2.42v4.87h-2.42ZM174.95 401.61h4.87v2.42h-4.87ZM241.59 397.96h2.42v4.87h-2.42ZM242.79 401.61h4.87v2.42h-4.87ZM247.64 401.61h4.87v2.42h-4.87ZM252.48 401.61h4.87v2.42h-4.87ZM257.33 401.61h4.87v2.42h-4.87ZM262.17 401.61h4.87v2.42h-4.87ZM270.67 397.96h2.42v4.87h-2.42ZM267.02 401.61h4.87v2.42h-4.87ZM299.74 397.96h2.42v4.87h-2.42ZM305.79 397.96h2.42v4.87h-2.42ZM300.94 402.81h4.87v2.42h-4.87ZM317.93 397.96h2.42v4.87h-2.42ZM320.33 402.81h4.87v2.42h-4.87ZM397.86 397.96h2.42v4.87h-2.42ZM400.31 397.96h2.42v4.87h-2.42ZM397.86 400.41h4.87v2.42h-4.87ZM407.55 397.96h2.42v4.87h-2.42ZM419.69 397.96h2.42v4.87h-2.42ZM687.42 397.96h2.42v4.87h-2.42ZM683.78 401.61h4.87v2.42h-4.87ZM814.62 397.96h2.42v4.87h-2.42ZM75.63 402.81h2.42v4.87h-2.42ZM134.98 402.81h2.42v4.87h-2.42ZM136.18 406.45h4.87v2.42h-4.87ZM173.75 402.81h2.42v4.87h-2.42ZM300.94 402.81h2.42v4.87h-2.42ZM322.77 402.81h2.42v4.87h-2.42ZM325.17 407.65h4.87v2.42h-4.87ZM330.02 407.65h4.87v2.42h-4.87ZM334.86 407.65h4.87v2.42h-4.87ZM339.71 407.65h4.87v2.42h-4.87ZM344.56 407.65h4.87v2.42h-4.87ZM401.51 402.81h2.42v4.87h-2.42ZM407.55 402.81h2.42v4.87h-2.42ZM402.71 406.45h4.87v2.42h-4.87ZM419.69 402.81h2.42v4.87h-2.42ZM682.58 402.81h2.42v4.87h-2.42ZM678.93 406.45h4.87v2.42h-4.87ZM814.62 402.81h2.42v4.87h-2.42ZM75.63 407.65h2.42v4.87h-2.42ZM139.82 407.65h2.42v4.87h-2.42ZM141.02 411.30h4.87v2.42h-4.87ZM145.87 411.30h4.87v2.42h-4.87ZM173.75 407.65h2.42v4.87h-2.42ZM300.94 407.65h2.42v4.87h-2.42ZM347.00 407.65h2.42v4.87h-2.42ZM349.40 412.50h4.87v2.42h-4.87ZM368.79 411.30h4.87v2.42h-4.87ZM407.55 407.65h2.42v4.87h-2.42ZM419.69 407.65h2.42v4.87h-2.42ZM677.73 407.65h2.42v4.87h-2.42ZM674.08 411.30h4.87v2.42h-4.87ZM814.62 407.65h2.42v4.87h-2.42ZM75.63 412.50h2.42v4.87h-2.42ZM149.52 412.50h2.42v4.87h-2.42ZM150.72 416.15h4.87v2.42h-4.87ZM155.56 417.35h4.87v2.42h-4.87ZM160.41 417.35h4.87v2.42h-4.87ZM165.25 417.35h4.87v2.42h-4.87ZM173.75 412.50h2.42v4.87h-2.42ZM170.10 417.35h4.87v2.42h-4.87ZM300.94 412.50h2.42v4.87h-2.42ZM351.85 412.50h2.42v4.87h-2.42ZM354.25 416.15h4.87v2.42h-4.87ZM359.09 416.15h4.87v2.42h-4.87ZM367.59 412.50h2.42v4.87h-2.42ZM363.94 416.15h4.87v2.42h-4.87ZM372.43 412.50h2.42v4.87h-2.42ZM373.63 416.15h4.87v2.42h-4.87ZM378.48 416.15h4.87v2.42h-4.87ZM383.32 416.15h4.87v2.42h-4.87ZM388.17 416.15h4.87v2.42h-4.87ZM407.55 412.50h2.42v4.87h-2.42ZM419.69 412.50h2.42v4.87h-2.42ZM672.88 412.50h2.42v4.87h-2.42ZM669.24 416.15h4.87v2.42h-4.87ZM814.62 412.50h2.42v4.87h-2.42ZM75.63 417.35h2.42v4.87h-2.42ZM155.56 417.35h2.42v4.87h-2.42ZM172.55 417.35h2.42v4.87h-2.42ZM300.94 417.35h2.42v4.87h-2.42ZM296.10 420.99h4.87v2.42h-4.87ZM300.94 419.79h4.87v2.42h-4.87ZM305.79 419.79h4.87v2.42h-4.87ZM310.63 419.79h4.87v2.42h-4.87ZM315.48 419.79h4.87v2.42h-4.87ZM320.33 419.79h4.87v2.42h-4.87ZM325.17 419.79h4.87v2.42h-4.87ZM330.02 419.79h4.87v2.42h-4.87ZM334.86 419.79h4.87v2.42h-4.87ZM339.71 419.79h4.87v2.42h-4.87ZM344.56 419.79h4.87v2.42h-4.87ZM351.85 417.35h2.42v4.87h-2.42ZM349.40 419.79h4.87v2.42h-4.87ZM391.82 417.35h2.42v4.87h-2.42ZM393.02 420.99h4.87v2.42h-4.87ZM397.86 420.99h4.87v2.42h-4.87ZM407.55 417.35h2.42v4.87h-2.42ZM407.55 419.79h4.87v2.42h-4.87ZM419.69 417.35h2.42v4.87h-2.42ZM422.09 422.19h4.87v2.42h-4.87ZM426.94 422.19h4.87v2.42h-4.87ZM668.04 417.35h2.42v4.87h-2.42ZM664.39 420.99h4.87v2.42h-4.87ZM814.62 417.35h2.42v4.87h-2.42ZM75.63 422.19h2.42v4.87h-2.42ZM155.56 422.19h2.42v4.87h-2.42ZM150.72 427.04h4.87v2.42h-4.87ZM172.55 422.19h2.42v4.87h-2.42ZM237.94 427.04h4.87v2.42h-4.87ZM294.90 422.19h2.42v4.87h-2.42ZM291.25 425.84h4.87v2.42h-4.87ZM401.51 422.19h2.42v4.87h-2.42ZM402.71 425.84h4.87v2.42h-4.87ZM412.40 422.19h2.42v4.87h-2.42ZM407.55 425.84h4.87v2.42h-4.87ZM412.40 424.64h4.87v2.42h-4.87ZM429.38 422.19h2.42v4.87h-2.42ZM663.19 422.19h2.42v4.87h-2.42ZM659.55 425.84h4.87v2.42h-4.87ZM814.62 422.19h2.42v4.87h-2.42ZM75.63 427.04h2.42v4.87h-2.42ZM150.72 427.04h2.42v4.87h-2.42ZM172.55 427.04h2.42v4.87h-2.42ZM174.95 431.88h4.87v2.42h-4.87ZM194.33 431.88h4.87v2.42h-4.87ZM199.18 431.88h4.87v2.42h-4.87ZM237.94 427.04h2.42v4.87h-2.42ZM233.10 431.88h4.87v2.42h-4.87ZM240.39 427.04h2.42v4.87h-2.42ZM281.56 430.68h4.87v2.42h-4.87ZM290.05 427.04h2.42v4.87h-2.42ZM286.40 430.68h4.87v2.42h-4.87ZM417.25 427.04h2.42v4.87h-2.42ZM417.25 429.48h4.87v2.42h-4.87ZM429.38 427.04h2.42v4.87h-2.42ZM658.35 427.04h2.42v4.87h-2.42ZM654.70 430.68h4.87v2.42h-4.87ZM814.62 427.04h2.42v4.87h-2.42ZM75.63 431.88h2.42v4.87h-2.42ZM150.72 431.88h2.42v4.87h-2.42ZM145.87 436.73h4.87v2.42h-4.87ZM177.39 431.88h2.42v4.87h-2.42ZM194.33 431.88h2.42v4.87h-2.42ZM201.62 431.88h2.42v4.87h-2.42ZM233.10 431.88h2.42v4.87h-2.42ZM240.39 431.88h2.42v4.87h-2.42ZM280.36 431.88h2.42v4.87h-2.42ZM276.71 435.53h4.87v2.42h-4.87ZM422.09 431.88h2.42v4.87h-2.42ZM429.38 431.88h2.42v4.87h-2.42ZM653.50 431.88h2.42v4.87h-2.42ZM814.62 431.88h2.42v4.87h-2.42ZM75.63 436.73h2.42v4.87h-2.42ZM145.87 436.73h2.42v4.87h-2.42ZM141.02 441.58h4.87v2.42h-4.87ZM177.39 436.73h2.42v4.87h-2.42ZM194.33 436.73h2.42v4.87h-2.42ZM201.62 436.73h2.42v4.87h-2.42ZM233.10 436.73h2.42v4.87h-2.42ZM240.39 436.73h2.42v4.87h-2.42ZM275.51 436.73h2.42v4.87h-2.42ZM422.09 436.73h2.42v4.87h-2.42ZM429.38 436.73h2.42v4.87h-2.42ZM653.50 436.73h2.42v4.87h-2.42ZM649.85 440.38h4.87v2.42h-4.87ZM814.62 436.73h2.42v4.87h-2.42ZM75.63 441.58h2.42v4.87h-2.42ZM141.02 441.58h2.42v4.87h-2.42ZM136.18 446.42h4.87v2.42h-4.87ZM177.39 441.58h2.42v4.87h-2.42ZM179.79 446.42h4.87v2.42h-4.87ZM184.64 446.42h4.87v2.42h-4.87ZM194.33 441.58h2.42v4.87h-2.42ZM189.48 446.42h4.87v2.42h-4.87ZM201.62 441.58h2.42v4.87h-2.42ZM233.10 441.58h2.42v4.87h-2.42ZM240.39 441.58h2.42v4.87h-2.42ZM242.79 446.42h4.87v2.42h-4.87ZM275.51 441.58h2.42v4.87h-2.42ZM422.09 441.58h2.42v4.87h-2.42ZM422.09 444.02h4.87v2.42h-4.87ZM429.38 441.58h2.42v4.87h-2.42ZM648.65 441.58h2.42v4.87h-2.42ZM645.01 445.22h4.87v2.42h-4.87ZM814.62 441.58h2.42v4.87h-2.42ZM75.63 446.42h2.42v4.87h-2.42ZM126.49 451.27h4.87v2.42h-4.87ZM136.18 446.42h2.42v4.87h-2.42ZM131.33 451.27h4.87v2.42h-4.87ZM201.62 446.42h2.42v4.87h-2.42ZM233.10 446.42h2.42v4.87h-2.42ZM228.25 451.27h4.87v2.42h-4.87ZM245.24 446.42h2.42v4.87h-2.42ZM247.64 451.27h4.87v2.42h-4.87ZM275.51 446.42h2.42v4.87h-2.42ZM276.71 450.07h4.87v2.42h-4.87ZM426.94 446.42h2.42v4.87h-2.42ZM429.38 446.42h2.42v4.87h-2.42ZM426.94 448.87h4.87v2.42h-4.87ZM635.32 450.07h4.87v2.42h-4.87ZM643.81 446.42h2.42v4.87h-2.42ZM640.16 450.07h4.87v2.42h-4.87ZM814.62 446.42h2.42v4.87h-2.42ZM75.63 451.27h2.42v4.87h-2.42ZM78.03 456.11h4.87v2.42h-4.87ZM126.49 451.27h2.42v4.87h-2.42ZM121.64 456.11h4.87v2.42h-4.87ZM201.62 451.27h2.42v4.87h-2.42ZM228.25 451.27h2.42v4.87h-2.42ZM250.08 451.27h2.42v4.87h-2.42ZM280.36 451.27h2.42v4.87h-2.42ZM276.71 456.11h4.87v2.42h-4.87ZM281.56 456.11h4.87v2.42h-4.87ZM430.58 451.27h2.42v4.87h-2.42ZM431.78 454.91h4.87v2.42h-4.87ZM436.63 454.91h4.87v2.42h-4.87ZM441.48 454.91h4.87v2.42h-4.87ZM446.32 454.91h4.87v2.42h-4.87ZM451.17 454.91h4.87v2.42h-4.87ZM456.01 454.91h4.87v2.42h-4.87ZM460.86 454.91h4.87v2.42h-4.87ZM465.71 454.91h4.87v2.42h-4.87ZM470.55 454.91h4.87v2.42h-4.87ZM620.78 454.91h4.87v2.42h-4.87ZM625.62 454.91h4.87v2.42h-4.87ZM634.12 451.27h2.42v4.87h-2.42ZM630.47 454.91h4.87v2.42h-4.87ZM814.62 451.27h2.42v4.87h-2.42ZM80.47 456.11h2.42v4.87h-2.42ZM82.87 460.96h4.87v2.42h-4.87ZM121.64 456.11h2.42v4.87h-2.42ZM116.79 460.96h4.87v2.42h-4.87ZM201.62 456.11h2.42v4.87h-2.42ZM204.02 460.96h4.87v2.42h-4.87ZM228.25 456.11h2.42v4.87h-2.42ZM223.41 460.96h4.87v2.42h-4.87ZM250.08 456.11h2.42v4.87h-2.42ZM267.02 460.96h4.87v2.42h-4.87ZM276.71 456.11h2.42v4.87h-2.42ZM271.87 460.96h4.87v2.42h-4.87ZM284.00 456.11h2.42v4.87h-2.42ZM286.40 460.96h4.87v2.42h-4.87ZM474.20 456.11h2.42v4.87h-2.42ZM475.40 459.76h4.87v2.42h-4.87ZM619.58 456.11h2.42v4.87h-2.42ZM814.62 456.11h2.42v4.87h-2.42ZM85.32 460.96h2.42v4.87h-2.42ZM87.72 465.81h4.87v2.42h-4.87ZM92.56 465.81h4.87v2.42h-4.87ZM97.41 465.81h4.87v2.42h-4.87ZM102.26 465.81h4.87v2.42h-4.87ZM107.10 465.81h4.87v2.42h-4.87ZM116.79 460.96h2.42v4.87h-2.42ZM111.95 465.81h4.87v2.42h-4.87ZM206.47 460.96h2.42v4.87h-2.42ZM208.87 465.81h4.87v2.42h-4.87ZM213.71 465.81h4.87v2.42h-4.87ZM223.41 460.96h2.42v4.87h-2.42ZM218.56 465.81h4.87v2.42h-4.87ZM250.08 460.96h2.42v4.87h-2.42ZM252.48 465.81h4.87v2.42h-4.87ZM267.02 460.96h2.42v4.87h-2.42ZM288.85 460.96h2.42v4.87h-2.42ZM479.04 460.96h2.42v4.87h-2.42ZM480.24 464.61h4.87v2.42h-4.87ZM485.09 464.61h4.87v2.42h-4.87ZM611.09 464.61h4.87v2.42h-4.87ZM619.58 460.96h2.42v4.87h-2.42ZM615.93 464.61h4.87v2.42h-4.87ZM814.62 460.96h2.42v4.87h-2.42ZM254.93 465.81h2.42v4.87h-2.42ZM257.33 470.65h4.87v2.42h-4.87ZM267.02 465.81h2.42v4.87h-2.42ZM262.17 470.65h4.87v2.42h-4.87ZM288.85 465.81h2.42v4.87h-2.42ZM291.25 470.65h4.87v2.42h-4.87ZM488.74 465.81h2.42v4.87h-2.42ZM489.94 469.45h4.87v2.42h-4.87ZM596.55 469.45h4.87v2.42h-4.87ZM601.39 469.45h4.87v2.42h-4.87ZM609.89 465.81h2.42v4.87h-2.42ZM606.24 469.45h4.87v2.42h-4.87ZM619.58 465.81h2.42v4.87h-2.42ZM620.78 469.45h4.87v2.42h-4.87ZM625.62 469.45h4.87v2.42h-4.87ZM630.47 469.45h4.87v2.42h-4.87ZM635.32 469.45h4.87v2.42h-4.87ZM640.16 469.45h4.87v2.42h-4.87ZM645.01 469.45h4.87v2.42h-4.87ZM814.62 465.81h2.42v4.87h-2.42ZM293.70 470.65h2.42v4.87h-2.42ZM493.58 470.65h2.42v4.87h-2.42ZM494.78 474.30h4.87v2.42h-4.87ZM499.63 474.30h4.87v2.42h-4.87ZM586.86 474.30h4.87v2.42h-4.87ZM595.35 470.65h2.42v4.87h-2.42ZM591.70 474.30h4.87v2.42h-4.87ZM648.65 470.65h2.42v4.87h-2.42ZM649.85 474.30h4.87v2.42h-4.87ZM654.70 474.30h4.87v2.42h-4.87ZM814.62 470.65h2.42v4.87h-2.42ZM293.70 475.50h2.42v4.87h-2.42ZM503.27 475.50h2.42v4.87h-2.42ZM504.47 479.14h4.87v2.42h-4.87ZM548.09 479.14h4.87v2.42h-4.87ZM552.93 479.14h4.87v2.42h-4.87ZM557.78 479.14h4.87v2.42h-4.87ZM562.63 479.14h4.87v2.42h-4.87ZM567.47 479.14h4.87v2.42h-4.87ZM572.32 479.14h4.87v2.42h-4.87ZM577.16 479.14h4.87v2.42h-4.87ZM585.66 475.50h2.42v4.87h-2.42ZM582.01 479.14h4.87v2.42h-4.87ZM658.35 475.50h2.42v4.87h-2.42ZM659.55 479.14h4.87v2.42h-4.87ZM664.39 479.14h4.87v2.42h-4.87ZM814.62 475.50h2.42v4.87h-2.42ZM293.70 480.34h2.42v4.87h-2.42ZM508.12 480.34h2.42v4.87h-2.42ZM509.32 483.99h4.87v2.42h-4.87ZM538.40 483.99h4.87v2.42h-4.87ZM546.89 480.34h2.42v4.87h-2.42ZM543.24 483.99h4.87v2.42h-4.87ZM668.04 480.34h2.42v4.87h-2.42ZM669.24 483.99h4.87v2.42h-4.87ZM674.08 483.99h4.87v2.42h-4.87ZM814.62 480.34h2.42v4.87h-2.42ZM293.70 485.19h2.42v4.87h-2.42ZM296.10 490.04h4.87v2.42h-4.87ZM512.97 485.19h2.42v4.87h-2.42ZM509.32 488.84h4.87v2.42h-4.87ZM514.17 488.84h4.87v2.42h-4.87ZM537.20 485.19h2.42v4.87h-2.42ZM533.55 488.84h4.87v2.42h-4.87ZM677.73 485.19h2.42v4.87h-2.42ZM678.93 488.84h4.87v2.42h-4.87ZM814.62 485.19h2.42v4.87h-2.42ZM298.54 490.04h2.42v4.87h-2.42ZM508.12 490.04h2.42v4.87h-2.42ZM517.81 490.04h2.42v4.87h-2.42ZM519.01 493.68h4.87v2.42h-4.87ZM523.86 493.68h4.87v2.42h-4.87ZM532.35 490.04h2.42v4.87h-2.42ZM528.70 493.68h4.87v2.42h-4.87ZM682.58 490.04h2.42v4.87h-2.42ZM683.78 493.68h4.87v2.42h-4.87ZM814.62 490.04h2.42v4.87h-2.42ZM107.10 497.33h4.87v2.42h-4.87ZM111.95 497.33h4.87v2.42h-4.87ZM116.79 497.33h4.87v2.42h-4.87ZM121.64 497.33h4.87v2.42h-4.87ZM126.49 497.33h4.87v2.42h-4.87ZM131.33 497.33h4.87v2.42h-4.87ZM136.18 497.33h4.87v2.42h-4.87ZM141.02 497.33h4.87v2.42h-4.87ZM145.87 497.33h4.87v2.42h-4.87ZM150.72 497.33h4.87v2.42h-4.87ZM155.56 497.33h4.87v2.42h-4.87ZM160.41 497.33h4.87v2.42h-4.87ZM165.25 497.33h4.87v2.42h-4.87ZM170.10 497.33h4.87v2.42h-4.87ZM298.54 494.88h2.42v4.87h-2.42ZM300.94 499.73h4.87v2.42h-4.87ZM508.12 494.88h2.42v4.87h-2.42ZM504.47 498.53h4.87v2.42h-4.87ZM687.42 494.88h2.42v4.87h-2.42ZM688.62 498.53h4.87v2.42h-4.87ZM693.47 498.53h4.87v2.42h-4.87ZM814.62 494.88h2.42v4.87h-2.42ZM82.87 502.17h4.87v2.42h-4.87ZM87.72 502.17h4.87v2.42h-4.87ZM92.56 502.17h4.87v2.42h-4.87ZM97.41 502.17h4.87v2.42h-4.87ZM104.70 499.73h2.42v4.87h-2.42ZM102.26 502.17h4.87v2.42h-4.87ZM174.95 499.73h2.42v4.87h-2.42ZM303.39 499.73h2.42v4.87h-2.42ZM305.79 504.57h4.87v2.42h-4.87ZM310.63 504.57h4.87v2.42h-4.87ZM503.27 499.73h2.42v4.87h-2.42ZM499.63 503.37h4.87v2.42h-4.87ZM697.11 499.73h2.42v4.87h-2.42ZM698.31 503.37h4.87v2.42h-4.87ZM814.62 499.73h2.42v4.87h-2.42ZM68.33 507.02h4.87v2.42h-4.87ZM73.18 507.02h4.87v2.42h-4.87ZM80.47 504.57h2.42v4.87h-2.42ZM78.03 507.02h4.87v2.42h-4.87ZM174.95 504.57h2.42v4.87h-2.42ZM313.08 504.57h2.42v4.87h-2.42ZM315.48 509.42h4.87v2.42h-4.87ZM498.43 504.57h2.42v4.87h-2.42ZM701.96 504.57h2.42v4.87h-2.42ZM703.16 508.22h4.87v2.42h-4.87ZM814.62 504.57h2.42v4.87h-2.42ZM65.93 509.42h2.42v4.87h-2.42ZM174.95 509.42h2.42v4.87h-2.42ZM317.93 509.42h2.42v4.87h-2.42ZM320.33 514.27h4.87v2.42h-4.87ZM498.43 509.42h2.42v4.87h-2.42ZM494.78 513.07h4.87v2.42h-4.87ZM706.81 509.42h2.42v4.87h-2.42ZM708.01 513.07h4.87v2.42h-4.87ZM814.62 509.42h2.42v4.87h-2.42ZM65.93 514.27h2.42v4.87h-2.42ZM63.49 516.71h4.87v2.42h-4.87ZM174.95 514.27h2.42v4.87h-2.42ZM322.77 514.27h2.42v4.87h-2.42ZM325.17 519.11h4.87v2.42h-4.87ZM493.58 514.27h2.42v4.87h-2.42ZM711.65 514.27h2.42v4.87h-2.42ZM712.85 517.91h4.87v2.42h-4.87ZM814.62 514.27h2.42v4.87h-2.42ZM53.80 521.56h4.87v2.42h-4.87ZM61.09 519.11h2.42v4.87h-2.42ZM58.64 521.56h4.87v2.42h-4.87ZM174.95 519.11h2.42v4.87h-2.42ZM327.62 519.11h2.42v4.87h-2.42ZM330.02 523.96h4.87v2.42h-4.87ZM493.58 519.11h2.42v4.87h-2.42ZM489.94 522.76h4.87v2.42h-4.87ZM716.50 519.11h2.42v4.87h-2.42ZM717.70 522.76h4.87v2.42h-4.87ZM814.62 519.11h2.42v4.87h-2.42ZM51.40 523.96h2.42v4.87h-2.42ZM48.95 526.40h4.87v2.42h-4.87ZM174.95 523.96h2.42v4.87h-2.42ZM174.95 526.40h4.87v2.42h-4.87ZM179.79 526.40h4.87v2.42h-4.87ZM184.64 526.40h4.87v2.42h-4.87ZM189.48 526.40h4.87v2.42h-4.87ZM218.56 526.40h4.87v2.42h-4.87ZM223.41 526.40h4.87v2.42h-4.87ZM228.25 526.40h4.87v2.42h-4.87ZM233.10 526.40h4.87v2.42h-4.87ZM237.94 526.40h4.87v2.42h-4.87ZM332.46 523.96h2.42v4.87h-2.42ZM334.86 528.80h4.87v2.42h-4.87ZM488.74 523.96h2.42v4.87h-2.42ZM721.34 523.96h2.42v4.87h-2.42ZM722.54 527.60h4.87v2.42h-4.87ZM814.62 523.96h2.42v4.87h-2.42ZM46.55 528.80h2.42v4.87h-2.42ZM194.33 528.80h2.42v4.87h-2.42ZM194.33 531.25h4.87v2.42h-4.87ZM216.16 528.80h2.42v4.87h-2.42ZM242.79 528.80h2.42v4.87h-2.42ZM242.79 531.25h4.87v2.42h-4.87ZM247.64 531.25h4.87v2.42h-4.87ZM337.31 528.80h2.42v4.87h-2.42ZM339.71 533.65h4.87v2.42h-4.87ZM488.74 528.80h2.42v4.87h-2.42ZM726.19 528.80h2.42v4.87h-2.42ZM814.62 528.80h2.42v4.87h-2.42ZM46.55 533.65h2.42v4.87h-2.42ZM199.18 533.65h2.42v4.87h-2.42ZM199.18 536.10h4.87v2.42h-4.87ZM216.16 533.65h2.42v4.87h-2.42ZM252.48 533.65h2.42v4.87h-2.42ZM252.48 536.10h4.87v2.42h-4.87ZM257.33 536.10h4.87v2.42h-4.87ZM262.17 536.10h4.87v2.42h-4.87ZM281.56 536.10h4.87v2.42h-4.87ZM286.40 536.10h4.87v2.42h-4.87ZM342.16 533.65h2.42v4.87h-2.42ZM488.74 533.65h2.42v4.87h-2.42ZM717.70 537.30h4.87v2.42h-4.87ZM726.19 533.65h2.42v4.87h-2.42ZM722.54 537.30h4.87v2.42h-4.87ZM727.39 537.30h4.87v2.42h-4.87ZM732.24 537.30h4.87v2.42h-4.87ZM737.08 537.30h4.87v2.42h-4.87ZM814.62 533.65h2.42v4.87h-2.42ZM46.55 538.50h2.42v4.87h-2.42ZM204.02 538.50h2.42v4.87h-2.42ZM204.02 540.94h4.87v2.42h-4.87ZM208.87 540.94h4.87v2.42h-4.87ZM216.16 538.50h2.42v4.87h-2.42ZM213.71 540.94h4.87v2.42h-4.87ZM267.02 538.50h2.42v4.87h-2.42ZM267.02 540.94h4.87v2.42h-4.87ZM271.87 540.94h4.87v2.42h-4.87ZM279.16 538.50h2.42v4.87h-2.42ZM276.71 540.94h4.87v2.42h-4.87ZM291.25 538.50h2.42v4.87h-2.42ZM291.25 540.94h4.87v2.42h-4.87ZM342.16 538.50h2.42v4.87h-2.42ZM344.56 543.34h4.87v2.42h-4.87ZM488.74 538.50h2.42v4.87h-2.42ZM485.09 542.14h4.87v2.42h-4.87ZM716.50 538.50h2.42v4.87h-2.42ZM712.85 542.14h4.87v2.42h-4.87ZM740.73 538.50h2.42v4.87h-2.42ZM741.93 542.14h4.87v2.42h-4.87ZM814.62 538.50h2.42v4.87h-2.42ZM46.55 543.34h2.42v4.87h-2.42ZM296.10 543.34h2.42v4.87h-2.42ZM347.00 543.34h2.42v4.87h-2.42ZM349.40 548.19h4.87v2.42h-4.87ZM475.40 548.19h4.87v2.42h-4.87ZM483.89 543.34h2.42v4.87h-2.42ZM480.24 548.19h4.87v2.42h-4.87ZM485.09 548.19h4.87v2.42h-4.87ZM489.94 548.19h4.87v2.42h-4.87ZM494.78 548.19h4.87v2.42h-4.87ZM499.63 548.19h4.87v2.42h-4.87ZM504.47 548.19h4.87v2.42h-4.87ZM711.65 543.34h2.42v4.87h-2.42ZM745.57 543.34h2.42v4.87h-2.42ZM746.77 546.99h4.87v2.42h-4.87ZM751.62 546.99h4.87v2.42h-4.87ZM814.62 543.34h2.42v4.87h-2.42ZM46.55 548.19h2.42v4.87h-2.42ZM296.10 548.19h2.42v4.87h-2.42ZM296.10 550.63h4.87v2.42h-4.87ZM351.85 548.19h2.42v4.87h-2.42ZM475.40 548.19h2.42v4.87h-2.42ZM506.92 548.19h2.42v4.87h-2.42ZM509.32 553.03h4.87v2.42h-4.87ZM711.65 548.19h2.42v4.87h-2.42ZM708.01 551.83h4.87v2.42h-4.87ZM755.27 548.19h2.42v4.87h-2.42ZM756.47 551.83h4.87v2.42h-4.87ZM761.31 551.83h4.87v2.42h-4.87ZM814.62 548.19h2.42v4.87h-2.42ZM814.62 550.63h4.87v2.42h-4.87ZM819.46 550.63h4.87v2.42h-4.87ZM824.31 550.63h4.87v2.42h-4.87ZM46.55 553.03h2.42v4.87h-2.42ZM44.10 555.48h4.87v2.42h-4.87ZM300.94 553.03h2.42v4.87h-2.42ZM300.94 555.48h4.87v2.42h-4.87ZM351.85 553.03h2.42v4.87h-2.42ZM475.40 553.03h2.42v4.87h-2.42ZM511.77 553.03h2.42v4.87h-2.42ZM514.17 557.88h4.87v2.42h-4.87ZM706.81 553.03h2.42v4.87h-2.42ZM703.16 556.68h4.87v2.42h-4.87ZM764.96 553.03h2.42v4.87h-2.42ZM766.16 556.68h4.87v2.42h-4.87ZM829.16 553.03h2.42v4.87h-2.42ZM34.41 560.33h4.87v2.42h-4.87ZM41.70 557.88h2.42v4.87h-2.42ZM39.26 560.33h4.87v2.42h-4.87ZM305.79 557.88h2.42v4.87h-2.42ZM351.85 557.88h2.42v4.87h-2.42ZM475.40 557.88h2.42v4.87h-2.42ZM516.61 557.88h2.42v4.87h-2.42ZM519.01 562.73h4.87v2.42h-4.87ZM701.96 557.88h2.42v4.87h-2.42ZM769.80 557.88h2.42v4.87h-2.42ZM771.00 561.53h4.87v2.42h-4.87ZM829.16 557.88h2.42v4.87h-2.42ZM32.01 562.73h2.42v4.87h-2.42ZM29.57 565.17h4.87v2.42h-4.87ZM305.79 562.73h2.42v4.87h-2.42ZM351.85 562.73h2.42v4.87h-2.42ZM475.40 562.73h2.42v4.87h-2.42ZM521.46 562.73h2.42v4.87h-2.42ZM523.86 567.57h4.87v2.42h-4.87ZM701.96 562.73h2.42v4.87h-2.42ZM698.31 566.37h4.87v2.42h-4.87ZM774.65 562.73h2.42v4.87h-2.42ZM775.85 567.57h4.87v2.42h-4.87ZM780.70 567.57h4.87v2.42h-4.87ZM785.54 567.57h4.87v2.42h-4.87ZM790.39 567.57h4.87v2.42h-4.87ZM795.23 567.57h4.87v2.42h-4.87ZM800.08 567.57h4.87v2.42h-4.87ZM804.93 567.57h4.87v2.42h-4.87ZM809.77 567.57h4.87v2.42h-4.87ZM814.62 567.57h4.87v2.42h-4.87ZM819.46 567.57h4.87v2.42h-4.87ZM829.16 562.73h2.42v4.87h-2.42ZM824.31 567.57h4.87v2.42h-4.87ZM27.17 567.57h2.42v4.87h-2.42ZM24.72 570.02h4.87v2.42h-4.87ZM305.79 567.57h2.42v4.87h-2.42ZM351.85 567.57h2.42v4.87h-2.42ZM475.40 567.57h2.42v4.87h-2.42ZM470.55 572.42h4.87v2.42h-4.87ZM526.30 567.57h2.42v4.87h-2.42ZM528.70 572.42h4.87v2.42h-4.87ZM635.32 572.42h4.87v2.42h-4.87ZM640.16 572.42h4.87v2.42h-4.87ZM645.01 572.42h4.87v2.42h-4.87ZM649.85 572.42h4.87v2.42h-4.87ZM654.70 572.42h4.87v2.42h-4.87ZM688.62 571.22h4.87v2.42h-4.87ZM697.11 567.57h2.42v4.87h-2.42ZM693.47 571.22h4.87v2.42h-4.87ZM775.85 567.57h2.42v4.87h-2.42ZM771.00 572.42h4.87v2.42h-4.87ZM22.32 572.42h2.42v4.87h-2.42ZM305.79 572.42h2.42v4.87h-2.42ZM305.79 574.86h4.87v2.42h-4.87ZM351.85 572.42h2.42v4.87h-2.42ZM470.55 572.42h2.42v4.87h-2.42ZM465.71 577.26h4.87v2.42h-4.87ZM531.15 572.42h2.42v4.87h-2.42ZM533.55 577.26h4.87v2.42h-4.87ZM635.32 572.42h2.42v4.87h-2.42ZM657.15 572.42h2.42v4.87h-2.42ZM659.55 577.26h4.87v2.42h-4.87ZM674.08 576.06h4.87v2.42h-4.87ZM678.93 576.06h4.87v2.42h-4.87ZM687.42 572.42h2.42v4.87h-2.42ZM683.78 576.06h4.87v2.42h-4.87ZM771.00 572.42h2.42v4.87h-2.42ZM766.16 577.26h4.87v2.42h-4.87ZM22.32 577.26h2.42v4.87h-2.42ZM19.87 579.71h4.87v2.42h-4.87ZM310.63 577.26h2.42v4.87h-2.42ZM310.63 579.71h4.87v2.42h-4.87ZM351.85 577.26h2.42v4.87h-2.42ZM354.25 582.11h4.87v2.42h-4.87ZM359.09 582.11h4.87v2.42h-4.87ZM465.71 577.26h2.42v4.87h-2.42ZM536.00 577.26h2.42v4.87h-2.42ZM538.40 582.11h4.87v2.42h-4.87ZM635.32 577.26h2.42v4.87h-2.42ZM630.47 582.11h4.87v2.42h-4.87ZM661.99 577.26h2.42v4.87h-2.42ZM664.39 582.11h4.87v2.42h-4.87ZM672.88 577.26h2.42v4.87h-2.42ZM669.24 580.91h4.87v2.42h-4.87ZM766.16 577.26h2.42v4.87h-2.42ZM814.62 579.71h4.87v2.42h-4.87ZM819.46 579.71h4.87v2.42h-4.87ZM824.31 579.71h4.87v2.42h-4.87ZM17.47 582.11h2.42v4.87h-2.42ZM15.03 584.56h4.87v2.42h-4.87ZM315.48 582.11h2.42v4.87h-2.42ZM361.54 582.11h2.42v4.87h-2.42ZM456.01 586.96h4.87v2.42h-4.87ZM465.71 582.11h2.42v4.87h-2.42ZM460.86 586.96h4.87v2.42h-4.87ZM540.84 582.11h2.42v4.87h-2.42ZM543.24 586.96h4.87v2.42h-4.87ZM630.47 582.11h2.42v4.87h-2.42ZM625.62 586.96h4.87v2.42h-4.87ZM666.84 582.11h2.42v4.87h-2.42ZM766.16 582.11h2.42v4.87h-2.42ZM812.22 582.11h2.42v4.87h-2.42ZM829.16 582.11h2.42v4.87h-2.42ZM829.16 584.56h4.87v2.42h-4.87ZM12.63 586.96h2.42v4.87h-2.42ZM92.56 590.60h4.87v2.42h-4.87ZM97.41 590.60h4.87v2.42h-4.87ZM102.26 590.60h4.87v2.42h-4.87ZM107.10 590.60h4.87v2.42h-4.87ZM111.95 590.60h4.87v2.42h-4.87ZM165.25 590.60h4.87v2.42h-4.87ZM170.10 590.60h4.87v2.42h-4.87ZM174.95 590.60h4.87v2.42h-4.87ZM179.79 590.60h4.87v2.42h-4.87ZM184.64 590.60h4.87v2.42h-4.87ZM189.48 590.60h4.87v2.42h-4.87ZM194.33 590.60h4.87v2.42h-4.87ZM199.18 590.60h4.87v2.42h-4.87ZM315.48 586.96h2.42v4.87h-2.42ZM361.54 586.96h2.42v4.87h-2.42ZM363.94 591.80h4.87v2.42h-4.87ZM456.01 586.96h2.42v4.87h-2.42ZM451.17 591.80h4.87v2.42h-4.87ZM545.69 586.96h2.42v4.87h-2.42ZM615.93 591.80h4.87v2.42h-4.87ZM625.62 586.96h2.42v4.87h-2.42ZM620.78 591.80h4.87v2.42h-4.87ZM666.84 586.96h2.42v4.87h-2.42ZM766.16 586.96h2.42v4.87h-2.42ZM812.22 586.96h2.42v4.87h-2.42ZM834.00 586.96h2.42v4.87h-2.42ZM12.63 591.80h2.42v4.87h-2.42ZM91.36 591.80h2.42v4.87h-2.42ZM87.72 595.45h4.87v2.42h-4.87ZM115.59 591.80h2.42v4.87h-2.42ZM116.79 595.45h4.87v2.42h-4.87ZM121.64 595.45h4.87v2.42h-4.87ZM126.49 595.45h4.87v2.42h-4.87ZM131.33 595.45h4.87v2.42h-4.87ZM164.05 591.80h2.42v4.87h-2.42ZM160.41 595.45h4.87v2.42h-4.87ZM168.90 591.80h2.42v4.87h-2.42ZM202.82 591.80h2.42v4.87h-2.42ZM204.02 595.45h4.87v2.42h-4.87ZM208.87 595.45h4.87v2.42h-4.87ZM213.71 595.45h4.87v2.42h-4.87ZM218.56 595.45h4.87v2.42h-4.87ZM223.41 595.45h4.87v2.42h-4.87ZM315.48 591.80h2.42v4.87h-2.42ZM315.48 594.25h4.87v2.42h-4.87ZM366.39 591.80h2.42v4.87h-2.42ZM368.79 596.65h4.87v2.42h-4.87ZM451.17 591.80h2.42v4.87h-2.42ZM446.32 596.65h4.87v2.42h-4.87ZM545.69 591.80h2.42v4.87h-2.42ZM615.93 591.80h2.42v4.87h-2.42ZM611.09 596.65h4.87v2.42h-4.87ZM666.84 591.80h2.42v4.87h-2.42ZM751.62 596.65h4.87v2.42h-4.87ZM756.47 596.65h4.87v2.42h-4.87ZM766.16 591.80h2.42v4.87h-2.42ZM761.31 596.65h4.87v2.42h-4.87ZM812.22 591.80h2.42v4.87h-2.42ZM834.00 591.80h2.42v4.87h-2.42ZM12.63 596.65h2.42v4.87h-2.42ZM10.18 599.09h4.87v2.42h-4.87ZM86.52 596.65h2.42v4.87h-2.42ZM134.98 596.65h2.42v4.87h-2.42ZM136.18 600.29h4.87v2.42h-4.87ZM141.02 600.29h4.87v2.42h-4.87ZM145.87 600.29h4.87v2.42h-4.87ZM150.72 600.29h4.87v2.42h-4.87ZM159.21 596.65h2.42v4.87h-2.42ZM155.56 600.29h4.87v2.42h-4.87ZM168.90 596.65h2.42v4.87h-2.42ZM170.10 600.29h4.87v2.42h-4.87ZM227.05 596.65h2.42v4.87h-2.42ZM228.25 600.29h4.87v2.42h-4.87ZM233.10 600.29h4.87v2.42h-4.87ZM237.94 600.29h4.87v2.42h-4.87ZM320.33 596.65h2.42v4.87h-2.42ZM320.33 599.09h4.87v2.42h-4.87ZM371.23 596.65h2.42v4.87h-2.42ZM446.32 596.65h2.42v4.87h-2.42ZM441.48 601.49h4.87v2.42h-4.87ZM545.69 596.65h2.42v4.87h-2.42ZM611.09 596.65h2.42v4.87h-2.42ZM606.24 601.49h4.87v2.42h-4.87ZM666.84 596.65h2.42v4.87h-2.42ZM751.62 596.65h2.42v4.87h-2.42ZM751.62 599.09h4.87v2.42h-4.87ZM812.22 596.65h2.42v4.87h-2.42ZM834.00 596.65h2.42v4.87h-2.42ZM7.78 601.49h2.42v4.87h-2.42ZM86.52 601.49h2.42v4.87h-2.42ZM173.75 601.49h2.42v4.87h-2.42ZM174.95 605.14h4.87v2.42h-4.87ZM241.59 601.49h2.42v4.87h-2.42ZM242.79 605.14h4.87v2.42h-4.87ZM325.17 601.49h2.42v4.87h-2.42ZM371.23 601.49h2.42v4.87h-2.42ZM431.78 606.34h4.87v2.42h-4.87ZM441.48 601.49h2.42v4.87h-2.42ZM436.63 606.34h4.87v2.42h-4.87ZM545.69 601.49h2.42v4.87h-2.42ZM606.24 601.49h2.42v4.87h-2.42ZM601.39 606.34h4.87v2.42h-4.87ZM666.84 601.49h2.42v4.87h-2.42ZM756.47 601.49h2.42v4.87h-2.42ZM812.22 601.49h2.42v4.87h-2.42ZM834.00 601.49h2.42v4.87h-2.42ZM834.00 603.94h4.87v2.42h-4.87ZM7.78 606.34h2.42v4.87h-2.42ZM86.52 606.34h2.42v4.87h-2.42ZM178.59 606.34h2.42v4.87h-2.42ZM179.79 609.99h4.87v2.42h-4.87ZM184.64 609.99h4.87v2.42h-4.87ZM246.44 606.34h2.42v4.87h-2.42ZM247.64 609.99h4.87v2.42h-4.87ZM325.17 606.34h2.42v4.87h-2.42ZM371.23 606.34h2.42v4.87h-2.42ZM373.63 611.19h4.87v2.42h-4.87ZM431.78 606.34h2.42v4.87h-2.42ZM426.94 611.19h4.87v2.42h-4.87ZM545.69 606.34h2.42v4.87h-2.42ZM548.09 611.19h4.87v2.42h-4.87ZM601.39 606.34h2.42v4.87h-2.42ZM666.84 606.34h2.42v4.87h-2.42ZM669.24 611.19h4.87v2.42h-4.87ZM674.08 611.19h4.87v2.42h-4.87ZM678.93 611.19h4.87v2.42h-4.87ZM683.78 611.19h4.87v2.42h-4.87ZM756.47 606.34h2.42v4.87h-2.42ZM756.47 608.79h4.87v2.42h-4.87ZM812.22 606.34h2.42v4.87h-2.42ZM838.85 606.34h2.42v4.87h-2.42ZM7.78 611.19h2.42v4.87h-2.42ZM86.52 611.19h2.42v4.87h-2.42ZM188.28 611.19h2.42v4.87h-2.42ZM189.48 614.83h4.87v2.42h-4.87ZM251.28 611.19h2.42v4.87h-2.42ZM325.17 611.19h2.42v4.87h-2.42ZM325.17 613.63h4.87v2.42h-4.87ZM376.08 611.19h2.42v4.87h-2.42ZM426.94 611.19h2.42v4.87h-2.42ZM422.09 616.03h4.87v2.42h-4.87ZM550.53 611.19h2.42v4.87h-2.42ZM601.39 611.19h2.42v4.87h-2.42ZM596.55 616.03h4.87v2.42h-4.87ZM686.22 611.19h2.42v4.87h-2.42ZM761.31 611.19h2.42v4.87h-2.42ZM812.22 611.19h2.42v4.87h-2.42ZM814.62 616.03h4.87v2.42h-4.87ZM838.85 611.19h2.42v4.87h-2.42ZM838.85 613.63h4.87v2.42h-4.87ZM7.78 616.03h2.42v4.87h-2.42ZM48.95 619.68h4.87v2.42h-4.87ZM53.80 619.68h4.87v2.42h-4.87ZM58.64 619.68h4.87v2.42h-4.87ZM63.49 619.68h4.87v2.42h-4.87ZM68.33 619.68h4.87v2.42h-4.87ZM73.18 619.68h4.87v2.42h-4.87ZM78.03 619.68h4.87v2.42h-4.87ZM86.52 616.03h2.42v4.87h-2.42ZM82.87 619.68h4.87v2.42h-4.87ZM193.13 616.03h2.42v4.87h-2.42ZM251.28 616.03h2.42v4.87h-2.42ZM330.02 616.03h2.42v4.87h-2.42ZM376.08 616.03h2.42v4.87h-2.42ZM378.48 620.88h4.87v2.42h-4.87ZM407.55 620.88h4.87v2.42h-4.87ZM412.40 620.88h4.87v2.42h-4.87ZM422.09 616.03h2.42v4.87h-2.42ZM417.25 620.88h4.87v2.42h-4.87ZM550.53 616.03h2.42v4.87h-2.42ZM596.55 616.03h2.42v4.87h-2.42ZM686.22 616.03h2.42v4.87h-2.42ZM688.62 620.88h4.87v2.42h-4.87ZM761.31 616.03h2.42v4.87h-2.42ZM817.06 616.03h2.42v4.87h-2.42ZM843.69 616.03h2.42v4.87h-2.42ZM843.69 618.48h4.87v2.42h-4.87ZM7.78 620.88h2.42v4.87h-2.42ZM5.34 623.32h4.87v2.42h-4.87ZM34.41 624.52h4.87v2.42h-4.87ZM39.26 624.52h4.87v2.42h-4.87ZM47.75 620.88h2.42v4.87h-2.42ZM44.10 624.52h4.87v2.42h-4.87ZM193.13 620.88h2.42v4.87h-2.42ZM194.33 624.52h4.87v2.42h-4.87ZM251.28 620.88h2.42v4.87h-2.42ZM330.02 620.88h2.42v4.87h-2.42ZM380.92 620.88h2.42v4.87h-2.42ZM393.02 625.72h4.87v2.42h-4.87ZM397.86 625.72h4.87v2.42h-4.87ZM407.55 620.88h2.42v4.87h-2.42ZM402.71 625.72h4.87v2.42h-4.87ZM550.53 620.88h2.42v4.87h-2.42ZM552.93 625.72h4.87v2.42h-4.87ZM596.55 620.88h2.42v4.87h-2.42ZM591.70 625.72h4.87v2.42h-4.87ZM691.07 620.88h2.42v4.87h-2.42ZM761.31 620.88h2.42v4.87h-2.42ZM817.06 620.88h2.42v4.87h-2.42ZM848.54 620.88h2.42v4.87h-2.42ZM848.54 623.32h4.87v2.42h-4.87ZM2.94 625.72h2.42v4.87h-2.42ZM8.98 625.72h2.42v4.87h-2.42ZM5.34 630.57h4.87v2.42h-4.87ZM10.18 629.37h4.87v2.42h-4.87ZM15.03 629.37h4.87v2.42h-4.87ZM19.87 629.37h4.87v2.42h-4.87ZM24.72 629.37h4.87v2.42h-4.87ZM33.21 625.72h2.42v4.87h-2.42ZM29.57 629.37h4.87v2.42h-4.87ZM197.98 625.72h2.42v4.87h-2.42ZM251.28 625.72h2.42v4.87h-2.42ZM330.02 625.72h2.42v4.87h-2.42ZM330.02 628.17h4.87v2.42h-4.87ZM380.92 625.72h2.42v4.87h-2.42ZM383.32 630.57h4.87v2.42h-4.87ZM393.02 625.72h2.42v4.87h-2.42ZM388.17 630.57h4.87v2.42h-4.87ZM555.38 625.72h2.42v4.87h-2.42ZM591.70 625.72h2.42v4.87h-2.42ZM691.07 625.72h2.42v4.87h-2.42ZM693.47 630.57h4.87v2.42h-4.87ZM761.31 625.72h2.42v4.87h-2.42ZM817.06 625.72h2.42v4.87h-2.42ZM814.62 628.17h4.87v2.42h-4.87ZM853.39 625.72h2.42v4.87h-2.42ZM7.78 630.57h2.42v4.87h-2.42ZM197.98 630.57h2.42v4.87h-2.42ZM251.28 630.57h2.42v4.87h-2.42ZM334.86 630.57h2.42v4.87h-2.42ZM555.38 630.57h2.42v4.87h-2.42ZM557.78 635.42h4.87v2.42h-4.87ZM591.70 630.57h2.42v4.87h-2.42ZM695.91 630.57h2.42v4.87h-2.42ZM708.01 635.42h4.87v2.42h-4.87ZM761.31 630.57h2.42v4.87h-2.42ZM804.93 633.02h4.87v2.42h-4.87ZM812.22 630.57h2.42v4.87h-2.42ZM809.77 633.02h4.87v2.42h-4.87ZM818.26 630.57h2.42v4.87h-2.42ZM814.62 635.42h4.87v2.42h-4.87ZM819.46 635.42h4.87v2.42h-4.87ZM824.31 635.42h4.87v2.42h-4.87ZM853.39 630.57h2.42v4.87h-2.42ZM7.78 635.42h2.42v4.87h-2.42ZM197.98 635.42h2.42v4.87h-2.42ZM251.28 635.42h2.42v4.87h-2.42ZM334.86 635.42h2.42v4.87h-2.42ZM560.23 635.42h2.42v4.87h-2.42ZM591.70 635.42h2.42v4.87h-2.42ZM695.91 635.42h2.42v4.87h-2.42ZM708.01 635.42h2.42v4.87h-2.42ZM710.45 635.42h2.42v4.87h-2.42ZM712.85 640.26h4.87v2.42h-4.87ZM761.31 635.42h2.42v4.87h-2.42ZM756.47 640.26h4.87v2.42h-4.87ZM802.53 635.42h2.42v4.87h-2.42ZM800.08 637.86h4.87v2.42h-4.87ZM814.62 635.42h2.42v4.87h-2.42ZM826.76 635.42h2.42v4.87h-2.42ZM853.39 635.42h2.42v4.87h-2.42ZM7.78 640.26h2.42v4.87h-2.42ZM197.98 640.26h2.42v4.87h-2.42ZM251.28 640.26h2.42v4.87h-2.42ZM252.48 643.91h4.87v2.42h-4.87ZM334.86 640.26h2.42v4.87h-2.42ZM334.86 642.71h4.87v2.42h-4.87ZM560.23 640.26h2.42v4.87h-2.42ZM562.63 645.11h4.87v2.42h-4.87ZM591.70 640.26h2.42v4.87h-2.42ZM591.70 642.71h4.87v2.42h-4.87ZM695.91 640.26h2.42v4.87h-2.42ZM708.01 640.26h2.42v4.87h-2.42ZM715.30 640.26h2.42v4.87h-2.42ZM756.47 640.26h2.42v4.87h-2.42ZM797.68 640.26h2.42v4.87h-2.42ZM814.62 640.26h2.42v4.87h-2.42ZM826.76 640.26h2.42v4.87h-2.42ZM853.39 640.26h2.42v4.87h-2.42ZM7.78 645.11h2.42v4.87h-2.42ZM197.98 645.11h2.42v4.87h-2.42ZM256.13 645.11h2.42v4.87h-2.42ZM320.33 648.75h4.87v2.42h-4.87ZM325.17 648.75h4.87v2.42h-4.87ZM333.66 645.11h2.42v4.87h-2.42ZM330.02 648.75h4.87v2.42h-4.87ZM339.71 645.11h2.42v4.87h-2.42ZM339.71 647.55h4.87v2.42h-4.87ZM565.07 645.11h2.42v4.87h-2.42ZM596.55 645.11h2.42v4.87h-2.42ZM596.55 647.55h4.87v2.42h-4.87ZM695.91 645.11h2.42v4.87h-2.42ZM708.01 645.11h2.42v4.87h-2.42ZM715.30 645.11h2.42v4.87h-2.42ZM717.70 649.95h4.87v2.42h-4.87ZM746.77 649.95h4.87v2.42h-4.87ZM756.47 645.11h2.42v4.87h-2.42ZM751.62 649.95h4.87v2.42h-4.87ZM797.68 645.11h2.42v4.87h-2.42ZM814.62 645.11h2.42v4.87h-2.42ZM809.77 649.95h4.87v2.42h-4.87ZM826.76 645.11h2.42v4.87h-2.42ZM853.39 645.11h2.42v4.87h-2.42ZM7.78 649.95h2.42v4.87h-2.42ZM197.98 649.95h2.42v4.87h-2.42ZM256.13 649.95h2.42v4.87h-2.42ZM257.33 653.60h4.87v2.42h-4.87ZM300.94 653.60h4.87v2.42h-4.87ZM305.79 653.60h4.87v2.42h-4.87ZM310.63 653.60h4.87v2.42h-4.87ZM319.13 649.95h2.42v4.87h-2.42ZM315.48 653.60h4.87v2.42h-4.87ZM344.56 649.95h2.42v4.87h-2.42ZM344.56 652.40h4.87v2.42h-4.87ZM565.07 649.95h2.42v4.87h-2.42ZM567.47 654.80h4.87v2.42h-4.87ZM601.39 649.95h2.42v4.87h-2.42ZM695.91 649.95h2.42v4.87h-2.42ZM708.01 649.95h2.42v4.87h-2.42ZM720.14 649.95h2.42v4.87h-2.42ZM722.54 654.80h4.87v2.42h-4.87ZM746.77 649.95h2.42v4.87h-2.42ZM741.93 654.80h4.87v2.42h-4.87ZM797.68 649.95h2.42v4.87h-2.42ZM809.77 649.95h2.42v4.87h-2.42ZM804.93 654.80h4.87v2.42h-4.87ZM826.76 649.95h2.42v4.87h-2.42ZM853.39 649.95h2.42v4.87h-2.42ZM7.78 654.80h2.42v4.87h-2.42ZM197.98 654.80h2.42v4.87h-2.42ZM260.97 654.80h2.42v4.87h-2.42ZM286.40 658.45h4.87v2.42h-4.87ZM291.25 658.45h4.87v2.42h-4.87ZM299.74 654.80h2.42v4.87h-2.42ZM296.10 658.45h4.87v2.42h-4.87ZM349.40 654.80h2.42v4.87h-2.42ZM349.40 657.25h4.87v2.42h-4.87ZM569.92 654.80h2.42v4.87h-2.42ZM572.32 659.65h4.87v2.42h-4.87ZM601.39 654.80h2.42v4.87h-2.42ZM695.91 654.80h2.42v4.87h-2.42ZM708.01 654.80h2.42v4.87h-2.42ZM708.01 657.25h4.87v2.42h-4.87ZM712.85 657.25h4.87v2.42h-4.87ZM724.99 654.80h2.42v4.87h-2.42ZM727.39 659.65h4.87v2.42h-4.87ZM741.93 654.80h2.42v4.87h-2.42ZM737.08 659.65h4.87v2.42h-4.87ZM797.68 654.80h2.42v4.87h-2.42ZM795.23 657.25h4.87v2.42h-4.87ZM804.93 654.80h2.42v4.87h-2.42ZM800.08 658.45h4.87v2.42h-4.87ZM804.93 657.25h4.87v2.42h-4.87ZM819.46 657.25h4.87v2.42h-4.87ZM826.76 654.80h2.42v4.87h-2.42ZM824.31 657.25h4.87v2.42h-4.87ZM853.39 654.80h2.42v4.87h-2.42ZM7.78 659.65h2.42v4.87h-2.42ZM197.98 659.65h2.42v4.87h-2.42ZM260.97 659.65h2.42v4.87h-2.42ZM262.17 663.29h4.87v2.42h-4.87ZM267.02 663.29h4.87v2.42h-4.87ZM271.87 663.29h4.87v2.42h-4.87ZM276.71 663.29h4.87v2.42h-4.87ZM285.20 659.65h2.42v4.87h-2.42ZM281.56 663.29h4.87v2.42h-4.87ZM354.25 659.65h2.42v4.87h-2.42ZM354.25 662.09h4.87v2.42h-4.87ZM574.76 659.65h2.42v4.87h-2.42ZM577.16 664.49h4.87v2.42h-4.87ZM601.39 659.65h2.42v4.87h-2.42ZM674.08 662.09h4.87v2.42h-4.87ZM678.93 662.09h4.87v2.42h-4.87ZM683.78 662.09h4.87v2.42h-4.87ZM688.62 662.09h4.87v2.42h-4.87ZM695.91 659.65h2.42v4.87h-2.42ZM693.47 662.09h4.87v2.42h-4.87ZM698.31 663.29h4.87v2.42h-4.87ZM703.16 663.29h4.87v2.42h-4.87ZM708.01 663.29h4.87v2.42h-4.87ZM717.70 659.65h2.42v4.87h-2.42ZM712.85 663.29h4.87v2.42h-4.87ZM717.70 662.09h4.87v2.42h-4.87ZM722.54 662.09h4.87v2.42h-4.87ZM729.84 659.65h2.42v4.87h-2.42ZM737.08 659.65h2.42v4.87h-2.42ZM732.24 664.49h4.87v2.42h-4.87ZM792.83 659.65h2.42v4.87h-2.42ZM790.39 662.09h4.87v2.42h-4.87ZM809.77 659.65h2.42v4.87h-2.42ZM817.06 659.65h2.42v4.87h-2.42ZM853.39 659.65h2.42v4.87h-2.42ZM7.78 664.49h2.42v4.87h-2.42ZM197.98 664.49h2.42v4.87h-2.42ZM285.20 664.49h2.42v4.87h-2.42ZM359.09 664.49h2.42v4.87h-2.42ZM579.61 664.49h2.42v4.87h-2.42ZM582.01 669.34h4.87v2.42h-4.87ZM601.39 664.49h2.42v4.87h-2.42ZM671.68 664.49h2.42v4.87h-2.42ZM727.39 664.49h2.42v4.87h-2.42ZM722.54 669.34h4.87v2.42h-4.87ZM787.99 664.49h2.42v4.87h-2.42ZM785.54 666.94h4.87v2.42h-4.87ZM809.77 664.49h2.42v4.87h-2.42ZM809.77 666.94h4.87v2.42h-4.87ZM817.06 664.49h2.42v4.87h-2.42ZM853.39 664.49h2.42v4.87h-2.42ZM7.78 669.34h2.42v4.87h-2.42ZM10.18 674.18h4.87v2.42h-4.87ZM197.98 669.34h2.42v4.87h-2.42ZM285.20 669.34h2.42v4.87h-2.42ZM359.09 669.34h2.42v4.87h-2.42ZM388.17 671.78h4.87v2.42h-4.87ZM393.02 671.78h4.87v2.42h-4.87ZM397.86 671.78h4.87v2.42h-4.87ZM584.46 669.34h2.42v4.87h-2.42ZM586.86 674.18h4.87v2.42h-4.87ZM601.39 669.34h2.42v4.87h-2.42ZM671.68 669.34h2.42v4.87h-2.42ZM722.54 669.34h2.42v4.87h-2.42ZM722.54 671.78h4.87v2.42h-4.87ZM783.14 669.34h2.42v4.87h-2.42ZM780.70 671.78h4.87v2.42h-4.87ZM814.62 669.34h2.42v4.87h-2.42ZM817.06 669.34h2.42v4.87h-2.42ZM819.46 674.18h4.87v2.42h-4.87ZM824.31 674.18h4.87v2.42h-4.87ZM829.16 674.18h4.87v2.42h-4.87ZM834.00 674.18h4.87v2.42h-4.87ZM853.39 669.34h2.42v4.87h-2.42ZM12.63 674.18h2.42v4.87h-2.42ZM197.98 674.18h2.42v4.87h-2.42ZM285.20 674.18h2.42v4.87h-2.42ZM359.09 674.18h2.42v4.87h-2.42ZM359.09 676.63h4.87v2.42h-4.87ZM363.94 676.63h4.87v2.42h-4.87ZM368.79 676.63h4.87v2.42h-4.87ZM373.63 676.63h4.87v2.42h-4.87ZM378.48 676.63h4.87v2.42h-4.87ZM385.77 674.18h2.42v4.87h-2.42ZM383.32 676.63h4.87v2.42h-4.87ZM402.71 674.18h2.42v4.87h-2.42ZM589.30 674.18h2.42v4.87h-2.42ZM591.70 679.03h4.87v2.42h-4.87ZM601.39 674.18h2.42v4.87h-2.42ZM596.55 679.03h4.87v2.42h-4.87ZM671.68 674.18h2.42v4.87h-2.42ZM727.39 674.18h2.42v4.87h-2.42ZM778.30 674.18h2.42v4.87h-2.42ZM775.85 676.63h4.87v2.42h-4.87ZM814.62 674.18h2.42v4.87h-2.42ZM836.45 674.18h2.42v4.87h-2.42ZM853.39 674.18h2.42v4.87h-2.42ZM848.54 679.03h4.87v2.42h-4.87ZM12.63 679.03h2.42v4.87h-2.42ZM15.03 683.88h4.87v2.42h-4.87ZM197.98 679.03h2.42v4.87h-2.42ZM199.18 682.68h4.87v2.42h-4.87ZM285.20 679.03h2.42v4.87h-2.42ZM286.40 682.68h4.87v2.42h-4.87ZM402.71 679.03h2.42v4.87h-2.42ZM671.68 679.03h2.42v4.87h-2.42ZM727.39 679.03h2.42v4.87h-2.42ZM766.16 681.48h4.87v2.42h-4.87ZM773.45 679.03h2.42v4.87h-2.42ZM771.00 681.48h4.87v2.42h-4.87ZM814.62 679.03h2.42v4.87h-2.42ZM836.45 679.03h2.42v4.87h-2.42ZM838.85 683.88h4.87v2.42h-4.87ZM848.54 679.03h2.42v4.87h-2.42ZM843.69 683.88h4.87v2.42h-4.87ZM853.39 681.48h4.87v2.42h-4.87ZM858.23 681.48h4.87v2.42h-4.87ZM863.08 681.48h4.87v2.42h-4.87ZM17.47 683.88h2.42v4.87h-2.42ZM19.87 688.72h4.87v2.42h-4.87ZM202.82 683.88h2.42v4.87h-2.42ZM290.05 683.88h2.42v4.87h-2.42ZM402.71 683.88h2.42v4.87h-2.42ZM671.68 683.88h2.42v4.87h-2.42ZM674.08 688.72h4.87v2.42h-4.87ZM727.39 683.88h2.42v4.87h-2.42ZM751.62 686.32h4.87v2.42h-4.87ZM756.47 686.32h4.87v2.42h-4.87ZM763.76 683.88h2.42v4.87h-2.42ZM761.31 686.32h4.87v2.42h-4.87ZM814.62 683.88h2.42v4.87h-2.42ZM850.99 683.88h2.42v4.87h-2.42ZM867.92 683.88h2.42v4.87h-2.42ZM867.92 686.32h4.87v2.42h-4.87ZM22.32 688.72h2.42v4.87h-2.42ZM24.72 693.57h4.87v2.42h-4.87ZM202.82 688.72h2.42v4.87h-2.42ZM290.05 688.72h2.42v4.87h-2.42ZM402.71 688.72h2.42v4.87h-2.42ZM676.53 688.72h2.42v4.87h-2.42ZM678.93 693.57h4.87v2.42h-4.87ZM727.39 688.72h2.42v4.87h-2.42ZM749.22 688.72h2.42v4.87h-2.42ZM814.62 688.72h2.42v4.87h-2.42ZM809.77 693.57h4.87v2.42h-4.87ZM814.62 691.17h4.87v2.42h-4.87ZM819.46 691.17h4.87v2.42h-4.87ZM838.85 691.17h4.87v2.42h-4.87ZM843.69 691.17h4.87v2.42h-4.87ZM850.99 688.72h2.42v4.87h-2.42ZM872.77 688.72h2.42v4.87h-2.42ZM27.17 693.57h2.42v4.87h-2.42ZM202.82 693.57h2.42v4.87h-2.42ZM290.05 693.57h2.42v4.87h-2.42ZM402.71 693.57h2.42v4.87h-2.42ZM681.38 693.57h2.42v4.87h-2.42ZM683.78 698.41h4.87v2.42h-4.87ZM727.39 693.57h2.42v4.87h-2.42ZM749.22 693.57h2.42v4.87h-2.42ZM809.77 693.57h2.42v4.87h-2.42ZM812.22 693.57h2.42v4.87h-2.42ZM824.31 693.57h2.42v4.87h-2.42ZM824.31 696.01h4.87v2.42h-4.87ZM829.16 696.01h4.87v2.42h-4.87ZM836.45 693.57h2.42v4.87h-2.42ZM834.00 696.01h4.87v2.42h-4.87ZM848.54 693.57h2.42v4.87h-2.42ZM850.99 693.57h2.42v4.87h-2.42ZM872.77 693.57h2.42v4.87h-2.42ZM27.17 698.41h2.42v4.87h-2.42ZM29.57 703.26h4.87v2.42h-4.87ZM202.82 698.41h2.42v4.87h-2.42ZM290.05 698.41h2.42v4.87h-2.42ZM402.71 698.41h2.42v4.87h-2.42ZM397.86 703.26h4.87v2.42h-4.87ZM686.22 698.41h2.42v4.87h-2.42ZM727.39 698.41h2.42v4.87h-2.42ZM749.22 698.41h2.42v4.87h-2.42ZM809.77 698.41h2.42v4.87h-2.42ZM812.22 698.41h2.42v4.87h-2.42ZM848.54 698.41h2.42v4.87h-2.42ZM850.99 698.41h2.42v4.87h-2.42ZM853.39 703.26h4.87v2.42h-4.87ZM872.77 698.41h2.42v4.87h-2.42ZM32.01 703.26h2.42v4.87h-2.42ZM34.41 708.11h4.87v2.42h-4.87ZM202.82 703.26h2.42v4.87h-2.42ZM290.05 703.26h2.42v4.87h-2.42ZM397.86 703.26h2.42v4.87h-2.42ZM686.22 703.26h2.42v4.87h-2.42ZM727.39 703.26h2.42v4.87h-2.42ZM749.22 703.26h2.42v4.87h-2.42ZM809.77 703.26h2.42v4.87h-2.42ZM812.22 703.26h2.42v4.87h-2.42ZM848.54 703.26h2.42v4.87h-2.42ZM855.83 703.26h2.42v4.87h-2.42ZM872.77 703.26h2.42v4.87h-2.42ZM872.77 705.71h4.87v2.42h-4.87ZM877.62 705.71h4.87v2.42h-4.87ZM882.46 705.71h4.87v2.42h-4.87ZM887.31 705.71h4.87v2.42h-4.87ZM892.15 705.71h4.87v2.42h-4.87ZM897.00 705.71h4.87v2.42h-4.87ZM36.86 708.11h2.42v4.87h-2.42ZM39.26 712.95h4.87v2.42h-4.87ZM202.82 708.11h2.42v4.87h-2.42ZM290.05 708.11h2.42v4.87h-2.42ZM397.86 708.11h2.42v4.87h-2.42ZM393.02 712.95h4.87v2.42h-4.87ZM686.22 708.11h2.42v4.87h-2.42ZM688.62 712.95h4.87v2.42h-4.87ZM693.47 712.95h4.87v2.42h-4.87ZM727.39 708.11h2.42v4.87h-2.42ZM727.39 710.55h4.87v2.42h-4.87ZM749.22 708.11h2.42v4.87h-2.42ZM809.77 708.11h2.42v4.87h-2.42ZM812.22 708.11h2.42v4.87h-2.42ZM848.54 708.11h2.42v4.87h-2.42ZM855.83 708.11h2.42v4.87h-2.42ZM858.23 712.95h4.87v2.42h-4.87ZM863.08 712.95h4.87v2.42h-4.87ZM901.85 708.11h2.42v4.87h-2.42ZM41.70 712.95h2.42v4.87h-2.42ZM202.82 712.95h2.42v4.87h-2.42ZM199.18 716.60h4.87v2.42h-4.87ZM290.05 712.95h2.42v4.87h-2.42ZM393.02 712.95h2.42v4.87h-2.42ZM388.17 717.80h4.87v2.42h-4.87ZM695.91 712.95h2.42v4.87h-2.42ZM732.24 712.95h2.42v4.87h-2.42ZM732.24 715.40h4.87v2.42h-4.87ZM749.22 712.95h2.42v4.87h-2.42ZM746.77 715.40h4.87v2.42h-4.87ZM809.77 712.95h2.42v4.87h-2.42ZM804.93 717.80h4.87v2.42h-4.87ZM812.22 712.95h2.42v4.87h-2.42ZM848.54 712.95h2.42v4.87h-2.42ZM843.69 717.80h4.87v2.42h-4.87ZM865.52 712.95h2.42v4.87h-2.42ZM901.85 712.95h2.42v4.87h-2.42ZM901.85 715.40h4.87v2.42h-4.87ZM906.69 715.40h4.87v2.42h-4.87ZM911.54 715.40h4.87v2.42h-4.87ZM916.38 715.40h4.87v2.42h-4.87ZM921.23 715.40h4.87v2.42h-4.87ZM926.08 715.40h4.87v2.42h-4.87ZM930.92 715.40h4.87v2.42h-4.87ZM41.70 717.80h2.42v4.87h-2.42ZM44.10 722.64h4.87v2.42h-4.87ZM116.79 722.64h4.87v2.42h-4.87ZM121.64 722.64h4.87v2.42h-4.87ZM126.49 722.64h4.87v2.42h-4.87ZM197.98 717.80h2.42v4.87h-2.42ZM290.05 717.80h2.42v4.87h-2.42ZM388.17 717.80h2.42v4.87h-2.42ZM695.91 717.80h2.42v4.87h-2.42ZM737.08 717.80h2.42v4.87h-2.42ZM737.08 720.24h4.87v2.42h-4.87ZM744.37 717.80h2.42v4.87h-2.42ZM741.93 720.24h4.87v2.42h-4.87ZM746.77 721.44h4.87v2.42h-4.87ZM804.93 717.80h2.42v4.87h-2.42ZM812.22 717.80h2.42v4.87h-2.42ZM843.69 717.80h2.42v4.87h-2.42ZM865.52 717.80h2.42v4.87h-2.42ZM863.08 720.24h4.87v2.42h-4.87ZM935.77 717.80h2.42v4.87h-2.42ZM935.77 720.24h4.87v2.42h-4.87ZM989.07 720.24h4.87v2.42h-4.87ZM993.92 720.24h4.87v2.42h-4.87ZM46.55 722.64h2.42v4.87h-2.42ZM48.95 727.49h4.87v2.42h-4.87ZM92.56 727.49h4.87v2.42h-4.87ZM97.41 727.49h4.87v2.42h-4.87ZM102.26 727.49h4.87v2.42h-4.87ZM107.10 727.49h4.87v2.42h-4.87ZM116.79 722.64h2.42v4.87h-2.42ZM111.95 727.49h4.87v2.42h-4.87ZM128.93 722.64h2.42v4.87h-2.42ZM131.33 727.49h4.87v2.42h-4.87ZM197.98 722.64h2.42v4.87h-2.42ZM290.05 722.64h2.42v4.87h-2.42ZM388.17 722.64h2.42v4.87h-2.42ZM383.32 727.49h4.87v2.42h-4.87ZM695.91 722.64h2.42v4.87h-2.42ZM750.42 722.64h2.42v4.87h-2.42ZM804.93 722.64h2.42v4.87h-2.42ZM812.22 722.64h2.42v4.87h-2.42ZM843.69 722.64h2.42v4.87h-2.42ZM838.85 727.49h4.87v2.42h-4.87ZM860.68 722.64h2.42v4.87h-2.42ZM940.61 722.64h2.42v4.87h-2.42ZM940.61 725.09h4.87v2.42h-4.87ZM945.46 725.09h4.87v2.42h-4.87ZM950.31 725.09h4.87v2.42h-4.87ZM986.67 722.64h2.42v4.87h-2.42ZM998.77 722.64h2.42v4.87h-2.42ZM998.77 725.09h4.87v2.42h-4.87ZM51.40 727.49h2.42v4.87h-2.42ZM53.80 732.34h4.87v2.42h-4.87ZM63.49 732.34h4.87v2.42h-4.87ZM68.33 732.34h4.87v2.42h-4.87ZM73.18 732.34h4.87v2.42h-4.87ZM78.03 732.34h4.87v2.42h-4.87ZM82.87 732.34h4.87v2.42h-4.87ZM92.56 727.49h2.42v4.87h-2.42ZM87.72 732.34h4.87v2.42h-4.87ZM133.78 727.49h2.42v4.87h-2.42ZM136.18 732.34h4.87v2.42h-4.87ZM141.02 732.34h4.87v2.42h-4.87ZM145.87 732.34h4.87v2.42h-4.87ZM197.98 727.49h2.42v4.87h-2.42ZM290.05 727.49h2.42v4.87h-2.42ZM286.40 731.14h4.87v2.42h-4.87ZM383.32 727.49h2.42v4.87h-2.42ZM378.48 732.34h4.87v2.42h-4.87ZM695.91 727.49h2.42v4.87h-2.42ZM698.31 732.34h4.87v2.42h-4.87ZM703.16 732.34h4.87v2.42h-4.87ZM750.42 727.49h2.42v4.87h-2.42ZM804.93 727.49h2.42v4.87h-2.42ZM812.22 727.49h2.42v4.87h-2.42ZM838.85 727.49h2.42v4.87h-2.42ZM860.68 727.49h2.42v4.87h-2.42ZM863.08 732.34h4.87v2.42h-4.87ZM867.92 732.34h4.87v2.42h-4.87ZM872.77 732.34h4.87v2.42h-4.87ZM877.62 732.34h4.87v2.42h-4.87ZM939.41 727.49h2.42v4.87h-2.42ZM955.15 727.49h2.42v4.87h-2.42ZM986.67 727.49h2.42v4.87h-2.42ZM1003.61 727.49h2.42v4.87h-2.42ZM56.24 732.34h2.42v4.87h-2.42ZM63.49 732.34h2.42v4.87h-2.42ZM58.64 737.18h4.87v2.42h-4.87ZM148.32 732.34h2.42v4.87h-2.42ZM150.72 737.18h4.87v2.42h-4.87ZM155.56 737.18h4.87v2.42h-4.87ZM197.98 732.34h2.42v4.87h-2.42ZM285.20 732.34h2.42v4.87h-2.42ZM378.48 732.34h2.42v4.87h-2.42ZM373.63 737.18h4.87v2.42h-4.87ZM705.61 732.34h2.42v4.87h-2.42ZM708.01 737.18h4.87v2.42h-4.87ZM750.42 732.34h2.42v4.87h-2.42ZM751.62 735.98h4.87v2.42h-4.87ZM756.47 737.18h4.87v2.42h-4.87ZM795.23 737.18h4.87v2.42h-4.87ZM804.93 732.34h2.42v4.87h-2.42ZM800.08 737.18h4.87v2.42h-4.87ZM812.22 732.34h2.42v4.87h-2.42ZM838.85 732.34h2.42v4.87h-2.42ZM880.06 732.34h2.42v4.87h-2.42ZM882.46 737.18h4.87v2.42h-4.87ZM939.41 732.34h2.42v4.87h-2.42ZM955.15 732.34h2.42v4.87h-2.42ZM955.15 734.78h4.87v2.42h-4.87ZM960.00 734.78h4.87v2.42h-4.87ZM964.84 734.78h4.87v2.42h-4.87ZM986.67 732.34h2.42v4.87h-2.42ZM1003.61 732.34h2.42v4.87h-2.42ZM1003.61 734.78h4.87v2.42h-4.87ZM158.01 737.18h2.42v4.87h-2.42ZM197.98 737.18h2.42v4.87h-2.42ZM285.20 737.18h2.42v4.87h-2.42ZM373.63 737.18h2.42v4.87h-2.42ZM368.79 742.03h4.87v2.42h-4.87ZM710.45 737.18h2.42v4.87h-2.42ZM712.85 742.03h4.87v2.42h-4.87ZM756.47 737.18h2.42v4.87h-2.42ZM758.91 737.18h2.42v4.87h-2.42ZM756.47 739.63h4.87v2.42h-4.87ZM761.31 740.83h4.87v2.42h-4.87ZM766.16 742.03h4.87v2.42h-4.87ZM771.00 742.03h4.87v2.42h-4.87ZM775.85 742.03h4.87v2.42h-4.87ZM780.70 742.03h4.87v2.42h-4.87ZM785.54 742.03h4.87v2.42h-4.87ZM795.23 737.18h2.42v4.87h-2.42ZM790.39 742.03h4.87v2.42h-4.87ZM812.22 737.18h2.42v4.87h-2.42ZM838.85 737.18h2.42v4.87h-2.42ZM884.91 737.18h2.42v4.87h-2.42ZM939.41 737.18h2.42v4.87h-2.42ZM969.69 737.18h2.42v4.87h-2.42ZM969.69 739.63h4.87v2.42h-4.87ZM974.54 739.63h4.87v2.42h-4.87ZM979.38 739.63h4.87v2.42h-4.87ZM986.67 737.18h2.42v4.87h-2.42ZM984.23 739.63h4.87v2.42h-4.87ZM1008.46 737.18h2.42v4.87h-2.42ZM158.01 742.03h2.42v4.87h-2.42ZM197.98 742.03h2.42v4.87h-2.42ZM285.20 742.03h2.42v4.87h-2.42ZM368.79 742.03h2.42v4.87h-2.42ZM363.94 746.87h4.87v2.42h-4.87ZM715.30 742.03h2.42v4.87h-2.42ZM766.16 742.03h2.42v4.87h-2.42ZM766.16 744.47h4.87v2.42h-4.87ZM771.00 744.47h4.87v2.42h-4.87ZM775.85 744.47h4.87v2.42h-4.87ZM780.70 744.47h4.87v2.42h-4.87ZM812.22 742.03h2.42v4.87h-2.42ZM838.85 742.03h2.42v4.87h-2.42ZM884.91 742.03h2.42v4.87h-2.42ZM887.31 746.87h4.87v2.42h-4.87ZM939.41 742.03h2.42v4.87h-2.42ZM1008.46 742.03h2.42v4.87h-2.42ZM158.01 746.87h2.42v4.87h-2.42ZM197.98 746.87h2.42v4.87h-2.42ZM285.20 746.87h2.42v4.87h-2.42ZM363.94 746.87h2.42v4.87h-2.42ZM359.09 751.72h4.87v2.42h-4.87ZM715.30 746.87h2.42v4.87h-2.42ZM717.70 751.72h4.87v2.42h-4.87ZM785.54 746.87h2.42v4.87h-2.42ZM785.54 749.32h4.87v2.42h-4.87ZM790.39 749.32h4.87v2.42h-4.87ZM812.22 746.87h2.42v4.87h-2.42ZM838.85 746.87h2.42v4.87h-2.42ZM834.00 751.72h4.87v2.42h-4.87ZM889.75 746.87h2.42v4.87h-2.42ZM901.85 751.72h4.87v2.42h-4.87ZM906.69 751.72h4.87v2.42h-4.87ZM911.54 751.72h4.87v2.42h-4.87ZM939.41 746.87h2.42v4.87h-2.42ZM998.77 751.72h4.87v2.42h-4.87ZM1008.46 746.87h2.42v4.87h-2.42ZM1003.61 751.72h4.87v2.42h-4.87ZM158.01 751.72h2.42v4.87h-2.42ZM197.98 751.72h2.42v4.87h-2.42ZM285.20 751.72h2.42v4.87h-2.42ZM359.09 751.72h2.42v4.87h-2.42ZM354.25 756.57h4.87v2.42h-4.87ZM720.14 751.72h2.42v4.87h-2.42ZM722.54 756.57h4.87v2.42h-4.87ZM737.08 756.57h4.87v2.42h-4.87ZM795.23 751.72h2.42v4.87h-2.42ZM795.23 754.17h4.87v2.42h-4.87ZM800.08 754.17h4.87v2.42h-4.87ZM804.93 754.17h4.87v2.42h-4.87ZM812.22 751.72h2.42v4.87h-2.42ZM809.77 754.17h4.87v2.42h-4.87ZM814.62 755.37h4.87v2.42h-4.87ZM819.46 755.37h4.87v2.42h-4.87ZM824.31 755.37h4.87v2.42h-4.87ZM834.00 751.72h2.42v4.87h-2.42ZM829.16 755.37h4.87v2.42h-4.87ZM834.00 754.17h4.87v2.42h-4.87ZM838.85 754.17h4.87v2.42h-4.87ZM843.69 754.17h4.87v2.42h-4.87ZM848.54 754.17h4.87v2.42h-4.87ZM872.77 754.17h4.87v2.42h-4.87ZM877.62 754.17h4.87v2.42h-4.87ZM889.75 751.72h2.42v4.87h-2.42ZM901.85 751.72h2.42v4.87h-2.42ZM913.98 751.72h2.42v4.87h-2.42ZM939.41 751.72h2.42v4.87h-2.42ZM984.23 756.57h4.87v2.42h-4.87ZM989.07 756.57h4.87v2.42h-4.87ZM998.77 751.72h2.42v4.87h-2.42ZM993.92 756.57h4.87v2.42h-4.87ZM158.01 756.57h2.42v4.87h-2.42ZM197.98 756.57h2.42v4.87h-2.42ZM285.20 756.57h2.42v4.87h-2.42ZM354.25 756.57h2.42v4.87h-2.42ZM724.99 756.57h2.42v4.87h-2.42ZM727.39 761.41h4.87v2.42h-4.87ZM737.08 756.57h2.42v4.87h-2.42ZM732.24 761.41h4.87v2.42h-4.87ZM739.53 756.57h2.42v4.87h-2.42ZM741.93 761.41h4.87v2.42h-4.87ZM746.77 761.41h4.87v2.42h-4.87ZM853.39 756.57h2.42v4.87h-2.42ZM853.39 759.01h4.87v2.42h-4.87ZM870.37 756.57h2.42v4.87h-2.42ZM882.46 756.57h2.42v4.87h-2.42ZM889.75 756.57h2.42v4.87h-2.42ZM892.15 761.41h4.87v2.42h-4.87ZM901.85 756.57h2.42v4.87h-2.42ZM897.00 761.41h4.87v2.42h-4.87ZM913.98 756.57h2.42v4.87h-2.42ZM939.41 756.57h2.42v4.87h-2.42ZM984.23 756.57h2.42v4.87h-2.42ZM158.01 761.41h2.42v4.87h-2.42ZM197.98 761.41h2.42v4.87h-2.42ZM285.20 761.41h2.42v4.87h-2.42ZM354.25 761.41h2.42v4.87h-2.42ZM349.40 766.26h4.87v2.42h-4.87ZM749.22 761.41h2.42v4.87h-2.42ZM751.62 766.26h4.87v2.42h-4.87ZM756.47 766.26h4.87v2.42h-4.87ZM858.23 761.41h2.42v4.87h-2.42ZM870.37 761.41h2.42v4.87h-2.42ZM882.46 761.41h2.42v4.87h-2.42ZM913.98 761.41h2.42v4.87h-2.42ZM939.41 761.41h2.42v4.87h-2.42ZM984.23 761.41h2.42v4.87h-2.42ZM984.23 763.86h4.87v2.42h-4.87ZM158.01 766.26h2.42v4.87h-2.42ZM197.98 766.26h2.42v4.87h-2.42ZM194.33 769.90h4.87v2.42h-4.87ZM285.20 766.26h2.42v4.87h-2.42ZM349.40 766.26h2.42v4.87h-2.42ZM344.56 771.10h4.87v2.42h-4.87ZM758.91 766.26h2.42v4.87h-2.42ZM761.31 771.10h4.87v2.42h-4.87ZM766.16 771.10h4.87v2.42h-4.87ZM771.00 771.10h4.87v2.42h-4.87ZM775.85 771.10h4.87v2.42h-4.87ZM858.23 766.26h2.42v4.87h-2.42ZM870.37 766.26h2.42v4.87h-2.42ZM882.46 766.26h2.42v4.87h-2.42ZM913.98 766.26h2.42v4.87h-2.42ZM916.38 771.10h4.87v2.42h-4.87ZM939.41 766.26h2.42v4.87h-2.42ZM989.07 766.26h2.42v4.87h-2.42ZM989.07 768.70h4.87v2.42h-4.87ZM158.01 771.10h2.42v4.87h-2.42ZM160.41 775.95h4.87v2.42h-4.87ZM193.13 771.10h2.42v4.87h-2.42ZM285.20 771.10h2.42v4.87h-2.42ZM281.56 774.75h4.87v2.42h-4.87ZM344.56 771.10h2.42v4.87h-2.42ZM339.71 775.95h4.87v2.42h-4.87ZM778.30 771.10h2.42v4.87h-2.42ZM780.70 775.95h4.87v2.42h-4.87ZM785.54 775.95h4.87v2.42h-4.87ZM858.23 771.10h2.42v4.87h-2.42ZM853.39 775.95h4.87v2.42h-4.87ZM870.37 771.10h2.42v4.87h-2.42ZM872.77 775.95h4.87v2.42h-4.87ZM882.46 771.10h2.42v4.87h-2.42ZM877.62 775.95h4.87v2.42h-4.87ZM918.83 771.10h2.42v4.87h-2.42ZM921.23 775.95h4.87v2.42h-4.87ZM926.08 775.95h4.87v2.42h-4.87ZM930.92 775.95h4.87v2.42h-4.87ZM939.41 771.10h2.42v4.87h-2.42ZM955.15 775.95h4.87v2.42h-4.87ZM960.00 775.95h4.87v2.42h-4.87ZM964.84 775.95h4.87v2.42h-4.87ZM993.92 771.10h2.42v4.87h-2.42ZM162.85 775.95h2.42v4.87h-2.42ZM193.13 775.95h2.42v4.87h-2.42ZM280.36 775.95h2.42v4.87h-2.42ZM339.71 775.95h2.42v4.87h-2.42ZM787.99 775.95h2.42v4.87h-2.42ZM790.39 780.80h4.87v2.42h-4.87ZM795.23 780.80h4.87v2.42h-4.87ZM853.39 775.95h2.42v4.87h-2.42ZM848.54 780.80h4.87v2.42h-4.87ZM933.37 775.95h2.42v4.87h-2.42ZM939.41 775.95h2.42v4.87h-2.42ZM935.77 780.80h4.87v2.42h-4.87ZM940.61 780.80h4.87v2.42h-4.87ZM945.46 780.80h4.87v2.42h-4.87ZM955.15 775.95h2.42v4.87h-2.42ZM950.31 780.80h4.87v2.42h-4.87ZM967.29 775.95h2.42v4.87h-2.42ZM993.92 775.95h2.42v4.87h-2.42ZM162.85 780.80h2.42v4.87h-2.42ZM165.25 785.64h4.87v2.42h-4.87ZM193.13 780.80h2.42v4.87h-2.42ZM189.48 784.44h4.87v2.42h-4.87ZM280.36 780.80h2.42v4.87h-2.42ZM339.71 780.80h2.42v4.87h-2.42ZM334.86 785.64h4.87v2.42h-4.87ZM797.68 780.80h2.42v4.87h-2.42ZM800.08 785.64h4.87v2.42h-4.87ZM804.93 785.64h4.87v2.42h-4.87ZM809.77 785.64h4.87v2.42h-4.87ZM814.62 785.64h4.87v2.42h-4.87ZM819.46 785.64h4.87v2.42h-4.87ZM848.54 780.80h2.42v4.87h-2.42ZM843.69 785.64h4.87v2.42h-4.87ZM967.29 780.80h2.42v4.87h-2.42ZM969.69 785.64h4.87v2.42h-4.87ZM993.92 780.80h2.42v4.87h-2.42ZM167.70 785.64h2.42v4.87h-2.42ZM170.10 790.49h4.87v2.42h-4.87ZM188.28 785.64h2.42v4.87h-2.42ZM184.64 789.29h4.87v2.42h-4.87ZM280.36 785.64h2.42v4.87h-2.42ZM334.86 785.64h2.42v4.87h-2.42ZM821.91 785.64h2.42v4.87h-2.42ZM824.31 790.49h4.87v2.42h-4.87ZM829.16 790.49h4.87v2.42h-4.87ZM834.00 790.49h4.87v2.42h-4.87ZM843.69 785.64h2.42v4.87h-2.42ZM838.85 790.49h4.87v2.42h-4.87ZM972.14 785.64h2.42v4.87h-2.42ZM974.54 790.49h4.87v2.42h-4.87ZM979.38 790.49h4.87v2.42h-4.87ZM984.23 790.49h4.87v2.42h-4.87ZM993.92 785.64h2.42v4.87h-2.42ZM989.07 790.49h4.87v2.42h-4.87ZM172.55 790.49h2.42v4.87h-2.42ZM174.95 795.33h4.87v2.42h-4.87ZM183.44 790.49h2.42v4.87h-2.42ZM280.36 790.49h2.42v4.87h-2.42ZM281.56 794.13h4.87v2.42h-4.87ZM334.86 790.49h2.42v4.87h-2.42ZM177.39 795.33h2.42v4.87h-2.42ZM183.44 795.33h2.42v4.87h-2.42ZM179.79 798.98h4.87v2.42h-4.87ZM285.20 795.33h2.42v4.87h-2.42ZM334.86 795.33h2.42v4.87h-2.42ZM177.39 800.18h2.42v4.87h-2.42ZM285.20 800.18h2.42v4.87h-2.42ZM286.40 803.83h4.87v2.42h-4.87ZM334.86 800.18h2.42v4.87h-2.42ZM911.54 802.63h4.87v2.42h-4.87ZM916.38 802.63h4.87v2.42h-4.87ZM921.23 802.63h4.87v2.42h-4.87ZM926.08 802.63h4.87v2.42h-4.87ZM930.92 802.63h4.87v2.42h-4.87ZM935.77 802.63h4.87v2.42h-4.87ZM940.61 802.63h4.87v2.42h-4.87ZM974.54 802.63h4.87v2.42h-4.87ZM979.38 802.63h4.87v2.42h-4.87ZM177.39 805.03h2.42v4.87h-2.42ZM290.05 805.03h2.42v4.87h-2.42ZM334.86 805.03h2.42v4.87h-2.42ZM909.14 805.03h2.42v4.87h-2.42ZM906.69 807.47h4.87v2.42h-4.87ZM945.46 805.03h2.42v4.87h-2.42ZM945.46 807.47h4.87v2.42h-4.87ZM972.14 805.03h2.42v4.87h-2.42ZM984.23 805.03h2.42v4.87h-2.42ZM177.39 809.87h2.42v4.87h-2.42ZM290.05 809.87h2.42v4.87h-2.42ZM291.25 813.52h4.87v2.42h-4.87ZM334.86 809.87h2.42v4.87h-2.42ZM904.29 809.87h2.42v4.87h-2.42ZM950.31 809.87h2.42v4.87h-2.42ZM972.14 809.87h2.42v4.87h-2.42ZM984.23 809.87h2.42v4.87h-2.42ZM984.23 812.32h4.87v2.42h-4.87ZM177.39 814.72h2.42v4.87h-2.42ZM294.90 814.72h2.42v4.87h-2.42ZM334.86 814.72h2.42v4.87h-2.42ZM892.15 817.16h4.87v2.42h-4.87ZM897.00 817.16h4.87v2.42h-4.87ZM904.29 814.72h2.42v4.87h-2.42ZM901.85 817.16h4.87v2.42h-4.87ZM950.31 814.72h2.42v4.87h-2.42ZM972.14 814.72h2.42v4.87h-2.42ZM969.69 817.16h4.87v2.42h-4.87ZM989.07 814.72h2.42v4.87h-2.42ZM177.39 819.56h2.42v4.87h-2.42ZM294.90 819.56h2.42v4.87h-2.42ZM296.10 823.21h4.87v2.42h-4.87ZM334.86 819.56h2.42v4.87h-2.42ZM882.46 822.01h4.87v2.42h-4.87ZM889.75 819.56h2.42v4.87h-2.42ZM887.31 822.01h4.87v2.42h-4.87ZM950.31 819.56h2.42v4.87h-2.42ZM967.29 819.56h2.42v4.87h-2.42ZM989.07 819.56h2.42v4.87h-2.42ZM989.07 822.01h4.87v2.42h-4.87ZM177.39 824.41h2.42v4.87h-2.42ZM299.74 824.41h2.42v4.87h-2.42ZM334.86 824.41h2.42v4.87h-2.42ZM880.06 824.41h2.42v4.87h-2.42ZM877.62 826.86h4.87v2.42h-4.87ZM950.31 824.41h2.42v4.87h-2.42ZM967.29 824.41h2.42v4.87h-2.42ZM993.92 824.41h2.42v4.87h-2.42ZM993.92 826.86h4.87v2.42h-4.87ZM177.39 829.26h2.42v4.87h-2.42ZM174.95 831.70h4.87v2.42h-4.87ZM179.79 832.90h4.87v2.42h-4.87ZM184.64 832.90h4.87v2.42h-4.87ZM189.48 832.90h4.87v2.42h-4.87ZM299.74 829.26h2.42v4.87h-2.42ZM334.86 829.26h2.42v4.87h-2.42ZM383.32 831.70h4.87v2.42h-4.87ZM388.17 831.70h4.87v2.42h-4.87ZM393.02 831.70h4.87v2.42h-4.87ZM875.22 829.26h2.42v4.87h-2.42ZM872.77 831.70h4.87v2.42h-4.87ZM950.31 829.26h2.42v4.87h-2.42ZM950.31 831.70h4.87v2.42h-4.87ZM967.29 829.26h2.42v4.87h-2.42ZM998.77 829.26h2.42v4.87h-2.42ZM172.55 834.10h2.42v4.87h-2.42ZM174.95 838.95h4.87v2.42h-4.87ZM193.13 834.10h2.42v4.87h-2.42ZM194.33 837.75h4.87v2.42h-4.87ZM199.18 837.75h4.87v2.42h-4.87ZM299.74 834.10h2.42v4.87h-2.42ZM334.86 834.10h2.42v4.87h-2.42ZM380.92 834.10h2.42v4.87h-2.42ZM397.86 834.10h2.42v4.87h-2.42ZM870.37 834.10h2.42v4.87h-2.42ZM867.92 836.55h4.87v2.42h-4.87ZM955.15 834.10h2.42v4.87h-2.42ZM955.15 836.55h4.87v2.42h-4.87ZM960.00 836.55h4.87v2.42h-4.87ZM967.29 834.10h2.42v4.87h-2.42ZM964.84 836.55h4.87v2.42h-4.87ZM998.77 834.10h2.42v4.87h-2.42ZM998.77 836.55h4.87v2.42h-4.87ZM177.39 838.95h2.42v4.87h-2.42ZM202.82 838.95h2.42v4.87h-2.42ZM204.02 842.59h4.87v2.42h-4.87ZM299.74 838.95h2.42v4.87h-2.42ZM334.86 838.95h2.42v4.87h-2.42ZM380.92 838.95h2.42v4.87h-2.42ZM397.86 838.95h2.42v4.87h-2.42ZM865.52 838.95h2.42v4.87h-2.42ZM863.08 841.39h4.87v2.42h-4.87ZM1003.61 838.95h2.42v4.87h-2.42ZM177.39 843.79h2.42v4.87h-2.42ZM207.67 843.79h2.42v4.87h-2.42ZM208.87 847.44h4.87v2.42h-4.87ZM299.74 843.79h2.42v4.87h-2.42ZM334.86 843.79h2.42v4.87h-2.42ZM380.92 843.79h2.42v4.87h-2.42ZM397.86 843.79h2.42v4.87h-2.42ZM860.68 843.79h2.42v4.87h-2.42ZM1003.61 843.79h2.42v4.87h-2.42ZM177.39 848.64h2.42v4.87h-2.42ZM212.51 848.64h2.42v4.87h-2.42ZM291.25 852.29h4.87v2.42h-4.87ZM299.74 848.64h2.42v4.87h-2.42ZM296.10 852.29h4.87v2.42h-4.87ZM300.94 852.29h4.87v2.42h-4.87ZM334.86 848.64h2.42v4.87h-2.42ZM380.92 848.64h2.42v4.87h-2.42ZM397.86 848.64h2.42v4.87h-2.42ZM860.68 848.64h2.42v4.87h-2.42ZM1003.61 848.64h2.42v4.87h-2.42ZM1003.61 851.09h4.87v2.42h-4.87ZM177.39 853.49h2.42v4.87h-2.42ZM212.51 853.49h2.42v4.87h-2.42ZM290.05 853.49h2.42v4.87h-2.42ZM304.59 853.49h2.42v4.87h-2.42ZM334.86 853.49h2.42v4.87h-2.42ZM380.92 853.49h2.42v4.87h-2.42ZM397.86 853.49h2.42v4.87h-2.42ZM860.68 853.49h2.42v4.87h-2.42ZM1008.46 853.49h2.42v4.87h-2.42ZM177.39 858.33h2.42v4.87h-2.42ZM212.51 858.33h2.42v4.87h-2.42ZM290.05 858.33h2.42v4.87h-2.42ZM304.59 858.33h2.42v4.87h-2.42ZM334.86 858.33h2.42v4.87h-2.42ZM380.92 858.33h2.42v4.87h-2.42ZM397.86 858.33h2.42v4.87h-2.42ZM860.68 858.33h2.42v4.87h-2.42ZM1008.46 858.33h2.42v4.87h-2.42Z" fill="#fff"/>
<g shape-rendering="auto">
<rect x="99" y="330" width="5" height="14.5" fill="#3f3a52" stroke="#fff" stroke-width="1.6"/>

<g stroke="#fff" stroke-width="2.6" fill="none"><path d="M553,141 V168 M567.5,146 V163 M591,143 V150"/></g>
<g stroke="#9f84e6" stroke-width="3.5" fill="none" opacity=".9"><path d="M236,305 L244,292 L246,272 L240,262 M236,253 L246,246 L256,238 L262,231"/></g>

<!-- Baltic -->
<g fill="none" stroke-linejoin="miter"><polyline points="242.5,256 253.8,256 253.8,284.5 249.8,286 249.8,301.5" stroke="#fff" stroke-width="7"/>
<polyline points="241.5,314 227.5,314 224.5,318.5" stroke="#fff" stroke-width="6"/>
<polyline points="242.5,256 253.8,256 253.8,284.5 249.8,286 249.8,301.5" stroke="#3f3a52" stroke-width="4"/>
<polyline points="241.5,314 227.5,314 224.5,318.5" stroke="#3f3a52" stroke-width="3.5"/></g>
<path d="M258,236 L271,222 M 262,283 L 268,290" stroke="#fff" stroke-width="3"/>
</g>
</svg>

<!-- building icon -->
<svg class="abs" style="left:13px;top:14px" width="60" height="54" viewBox="0 0 60 54">
<path d="M10,1 H49 V13 H58 V54 H0 V13 H10 Z" fill="#fff"/>
<rect x="3" y="16" width="10" height="35" fill="#3b5aa0"/>
<rect x="46" y="16" width="10" height="35" fill="#3b5aa0"/>
<rect x="13" y="3" width="33" height="48" fill="#e9e9f3"/>
<rect x="44" y="3" width="2" height="48" fill="#d4d4e8"/>
<rect x="18" y="8" width="23" height="5" fill="#4f9ef3"/>
<rect x="18" y="16" width="23" height="5" fill="#4f9ef3"/>
<rect x="18" y="23" width="23" height="5" fill="#4f9ef3"/>
<rect x="18" y="30" width="23" height="5" fill="#4f9ef3"/>
<rect x="8" y="21" width="5" height="2.2" fill="#4f9ef3"/>
<rect x="8" y="25.5" width="5" height="2.2" fill="#4f9ef3"/>
<rect x="8" y="30" width="5" height="2.2" fill="#4f9ef3"/>
<rect x="46" y="21" width="5" height="2.2" fill="#4f9ef3"/>
<rect x="46" y="25.5" width="5" height="2.2" fill="#4f9ef3"/>
<rect x="46" y="30" width="5" height="2.2" fill="#4f9ef3"/>
<rect x="22.5" y="39.5" width="14.5" height="11.5" fill="#f4474f"/>
<rect x="13" y="49" width="33" height="2" fill="#cfcfe6" opacity="0.8"/>
</svg>

<!-- HUD -->
<div class="hud" style="left:86px;width:120px">
  <div class="ic"><svg class="abs" style="left:9px;top:15px" width="25" height="15" viewBox="0 0 25 15"><rect x="2.5" y="3" width="22" height="11" fill="#36b35a"/><rect x="0" y="0" width="20" height="10" fill="#46d36b"/><rect x="8" y="3" width="3" height="3" fill="#36b35a"/></svg></div>
  <div class="lb">Cash</div><div class="vl">$5516 K</div>
</div>
<div class="hud" style="left:217px;width:119px">
  <div class="ic"><svg class="abs" style="left:0;top:0" width="43" height="44" viewBox="0 0 43 44">
  <rect x="12.8" y="14.8" width="18.2" height="15" rx="2" fill="#f8c79e"/>
  <rect x="16.5" y="28" width="11" height="4.3" rx="1.2" fill="#f8c79e"/>
  <rect x="16.5" y="31" width="11" height="1.3" fill="#f2a58c"/>
  <rect x="15.4" y="12" width="12.5" height="5" rx="1" fill="#4b5788"/>
  <rect x="12.8" y="14.8" width="18.2" height="4" rx="1" fill="#4b5788"/>
  <rect x="12.8" y="14.8" width="2.6" height="9.5" fill="#4b5788"/><rect x="28.4" y="14.8" width="2.6" height="9.5" fill="#4b5788"/>
  <rect x="15.4" y="18.5" width="12.5" height="2.5" fill="#f8d0aa"/>
  <rect x="14" y="21.3" width="15.6" height="3.2" fill="#3d4a82"/>
  <path d="M20.5,22 L23.2,22 L24,26.5 L19.7,26.5 Z" fill="#f6b98e"/>
  <rect x="19.5" y="26.8" width="5" height="1.1" fill="#e39378"/>
  </svg></div>
  <div class="lb">User</div><div class="vl">12 K</div>
</div>
<div class="hud" style="left:348px;width:334px">
  <div class="ic"><svg class="abs" style="left:12px;top:12px" width="20" height="20" viewBox="0 0 20 20">
  <rect x="1" y="3" width="18" height="16" fill="#3a4c94"/><rect x="3" y="7" width="14" height="10" fill="#fff"/>
  <rect x="4" y="0.5" width="2" height="4" fill="#3a4c94"/><rect x="9" y="0.5" width="2" height="4" fill="#3a4c94"/><rect x="14" y="0.5" width="2" height="4" fill="#3a4c94"/>
  <g fill="#9aa3c8"><rect x="4" y="8.5" width="2" height="2"/><rect x="7" y="8.5" width="2" height="2"/><rect x="10" y="8.5" width="2" height="2"/><rect x="13" y="8.5" width="2" height="2"/><rect x="4" y="11.5" width="2" height="2"/><rect x="7" y="11.5" width="2" height="2"/><rect x="10" y="11.5" width="2" height="2"/><rect x="4" y="14.5" width="2" height="2"/><rect x="7" y="14.5" width="2" height="2"/><rect x="10" y="14.5" width="2" height="2"/></g>
  <rect x="13" y="11.5" width="2" height="2" fill="#e85050"/><rect x="13" y="14.5" width="2" height="2" fill="#3ec060"/>
  </svg></div>
  <div class="lb" style="letter-spacing:.7px">Date</div><div class="vl" style="letter-spacing:.5px">Y3 M12 W</div>
  <div class="abs" style="left:121px;top:24px;width:73px;height:13px;background:#f2f2f2;border:1px solid #cfcfcf"></div>
  <div class="abs" style="left:123px;top:26px;width:36px;height:9px;background:#46e08a"></div>
  <div class="abs" style="left:140px;top:26px;width:1px;height:9px;background:#35b86c"></div>
  <div class="abs" style="left:204px;top:0;width:1px;height:44px;background:#e6e6e6"></div>
  <svg class="abs" style="left:214px;top:14px" width="112" height="16" viewBox="0 0 112 16" fill="#d0d0d0">
    <rect x="2.5" y="2" width="3.5" height="12"/><rect x="8" y="2" width="3.5" height="12"/>
    <path d="M20.5,1.5 L32.5,8 L20.5,14.5 Z"/>
    <path d="M42,1.8 L53.5,8 L42,14.2 Z M53.5,1.8 L65,8 L53.5,14.2 Z"/>
    <path d="M74.3,1.8 L86,8 L74.3,14.2 Z M86,1.8 L97.7,8 L86,14.2 Z M97.7,1.8 L109.4,8 L97.7,14.2 Z"/>
  </svg>
</div>

<!-- left buttons -->
<div class="btn" style="top:305px"><svg class="abs" style="left:0;top:0" width="43" height="43" viewBox="0 0 43 43">
  <path d="M17,10.5 L26.5,10.5 L36.5,21 L34,26 L27.5,21.5 L23.5,19.8 Z" fill="#3b3f58"/>
  <path d="M22,18 L26,22 L17.5,30.5 L13.5,26.5 Z" fill="#3b3f58"/>
  <path d="M13.5,26.5 L17.5,30.5 L13.5,34.5 L9.5,30.5 Z" fill="#e4e6f0"/>
  <path d="M9.5,30.5 L13.5,34.5 L11,37 L7,33 Z" fill="#f5b73a"/>
</svg></div>
<div class="btn" style="top:357.6px"><svg class="abs" style="left:0;top:0" width="43" height="43" viewBox="0 0 43 43">
  <rect x="12" y="18.3" width="6.5" height="7.3" rx="1" fill="#f04b50"/><rect x="14" y="25" width="3" height="10" rx="1" fill="#f04b50"/>
  <path d="M18.3,18 L28.8,12.5 L28.8,31.5 L18.3,26 Z" fill="#e4e6f2"/>
  <rect x="28.5" y="12" width="3.4" height="20" rx="1" fill="#2e3452"/>
  <path d="M34,19 Q36.5,22.3 34,25.6" fill="none" stroke="#f04b50" stroke-width="1.4"/>
</svg></div>
<div class="btn" style="top:410.4px"><svg class="abs" style="left:8px;top:7px" width="28" height="30" viewBox="0 0 28 30">
  <path d="M6,6 Q6,2 14,2 Q22,2 22,6 L22,10 L6,10 Z" fill="#3b3f58"/>
  <rect x="1" y="10" width="26" height="3" rx="1.5" fill="#3b3f58"/>
  <rect x="8" y="13" width="12" height="8" fill="#f5c08e"/>
  <rect x="7" y="14" width="14" height="3" fill="#1e1e2a"/>
  <path d="M4,30 Q4,21 10,20 L14,24 L18,20 Q24,21 24,30 Z" fill="#3b3f58"/>
</svg></div>

<!-- map markers -->
<div class="mk p" style="left:664px;top:246px"><div class="in"></div><svg width="48" height="48" viewBox="0 0 48 48" style="position:absolute;left:0;top:0">
<g stroke="#fff" opacity=".45"><path d="M35.5,17.5 L40.7,11.6 M37.3,23 H42.8 M35.5,27.4 L40.7,33.8" stroke-width="3.6" stroke-linecap="round"/></g>
<rect x="14.2" y="26" width="3.4" height="15" rx="1.6" fill="#ec5056"/>
<ellipse cx="10.3" cy="23" rx="1.6" ry="1.6" fill="#ec5056"/>
<rect x="11.4" y="17.8" width="6.8" height="10.4" rx="1.5" fill="#ec5056"/>
<rect x="12.5" y="21" width="4.8" height="3" fill="#f77a7e"/>
<path d="M18,17.6 L27,13.2 L27,32.8 L18,28.4 Z" fill="#eceef8" stroke="#8a96d0" stroke-width="0.5"/>
<rect x="26.3" y="12.4" width="5.2" height="21.2" rx="2.4" fill="#2f3556"/>
<rect x="31" y="21.6" width="2" height="2.8" rx="1" fill="#ec5056"/>
<g stroke="#ec5056" stroke-width="2.3" stroke-linecap="butt"><path d="M35.5,17.5 L40.7,11.6 M37.3,23 H42.8 M35.5,27.4 L40.7,33.8"/></g>
</svg></div>
<div class="mk b" style="left:718px;top:246px"><div class="in"></div><svg width="48" height="48" viewBox="0 0 48 48" style="position:absolute;left:0;top:0">
<g stroke="#fff" opacity=".45"><path d="M35.5,17.5 L40.7,11.6 M37.3,23 H42.8 M35.5,27.4 L40.7,33.8" stroke-width="3.6" stroke-linecap="round"/></g>
<rect x="14.2" y="26" width="3.4" height="15" rx="1.6" fill="#ec5056"/>
<ellipse cx="10.3" cy="23" rx="1.6" ry="1.6" fill="#ec5056"/>
<rect x="11.4" y="17.8" width="6.8" height="10.4" rx="1.5" fill="#ec5056"/>
<rect x="12.5" y="21" width="4.8" height="3" fill="#f77a7e"/>
<path d="M18,17.6 L27,13.2 L27,32.8 L18,28.4 Z" fill="#eceef8" stroke="#8a96d0" stroke-width="0.5"/>
<rect x="26.3" y="12.4" width="5.2" height="21.2" rx="2.4" fill="#2f3556"/>
<rect x="31" y="21.6" width="2" height="2.8" rx="1" fill="#ec5056"/>
<g stroke="#ec5056" stroke-width="2.3" stroke-linecap="butt"><path d="M35.5,17.5 L40.7,11.6 M37.3,23 H42.8 M35.5,27.4 L40.7,33.8"/></g>
</svg></div>
<div class="mk b" style="left:732px;top:384px"><div class="in"></div><svg width="48" height="48" viewBox="0 0 48 48" style="position:absolute;left:0;top:0">
<g stroke="#2f3556" stroke-width="3.2" fill="none" stroke-linecap="butt">
<line x1="22.7" y1="19.5" x2="12.6" y2="41"/><line x1="26.9" y1="19.5" x2="37" y2="41"/>
</g>
<g stroke="#2f3556" stroke-width="2" fill="none">
<line x1="15.5" y1="38.4" x2="34" y2="38.4"/><line x1="18" y1="35" x2="28" y2="24"/><line x1="21.5" y1="24" x2="31.5" y2="35"/>
</g>
<rect x="9.3" y="40.2" width="6.4" height="3.3" rx="1" fill="#2f3556"/><rect x="33.5" y="40.2" width="6.4" height="3.3" rx="1" fill="#2f3556"/>
<path d="M21,8.5 Q17.5,16 23.5,19 Q28,21.5 32.3,19.3 Z" fill="#98a8ec" stroke="#5566b8" stroke-width="0.9"/>
<g stroke="#e04848" stroke-width="1.7" fill="none"><path d="M27.5,11.5 Q29.5,12.5 29.7,14.6"/><path d="M27.3,8.2 Q32.5,9 33,14.3"/></g>
</svg></div>
<div class="mk p" style="left:706px;top:438px"><div class="in"></div><svg width="48" height="48" viewBox="0 0 48 48" style="position:absolute;left:0;top:0">
<g stroke="#fff" opacity=".45"><path d="M35.5,17.5 L40.7,11.6 M37.3,23 H42.8 M35.5,27.4 L40.7,33.8" stroke-width="3.6" stroke-linecap="round"/></g>
<rect x="14.2" y="26" width="3.4" height="15" rx="1.6" fill="#ec5056"/>
<ellipse cx="10.3" cy="23" rx="1.6" ry="1.6" fill="#ec5056"/>
<rect x="11.4" y="17.8" width="6.8" height="10.4" rx="1.5" fill="#ec5056"/>
<rect x="12.5" y="21" width="4.8" height="3" fill="#f77a7e"/>
<path d="M18,17.6 L27,13.2 L27,32.8 L18,28.4 Z" fill="#eceef8" stroke="#8a96d0" stroke-width="0.5"/>
<rect x="26.3" y="12.4" width="5.2" height="21.2" rx="2.4" fill="#2f3556"/>
<rect x="31" y="21.6" width="2" height="2.8" rx="1" fill="#ec5056"/>
<g stroke="#ec5056" stroke-width="2.3" stroke-linecap="butt"><path d="M35.5,17.5 L40.7,11.6 M37.3,23 H42.8 M35.5,27.4 L40.7,33.8"/></g>
</svg></div>
<div class="mk b" style="left:759.5px;top:438px"><div class="in"></div><svg width="48" height="48" viewBox="0 0 48 48" style="position:absolute;left:0;top:0">
<g stroke="#fff" opacity=".45"><path d="M35.5,17.5 L40.7,11.6 M37.3,23 H42.8 M35.5,27.4 L40.7,33.8" stroke-width="3.6" stroke-linecap="round"/></g>
<rect x="14.2" y="26" width="3.4" height="15" rx="1.6" fill="#ec5056"/>
<ellipse cx="10.3" cy="23" rx="1.6" ry="1.6" fill="#ec5056"/>
<rect x="11.4" y="17.8" width="6.8" height="10.4" rx="1.5" fill="#ec5056"/>
<rect x="12.5" y="21" width="4.8" height="3" fill="#f77a7e"/>
<path d="M18,17.6 L27,13.2 L27,32.8 L18,28.4 Z" fill="#eceef8" stroke="#8a96d0" stroke-width="0.5"/>
<rect x="26.3" y="12.4" width="5.2" height="21.2" rx="2.4" fill="#2f3556"/>
<rect x="31" y="21.6" width="2" height="2.8" rx="1" fill="#ec5056"/>
<g stroke="#ec5056" stroke-width="2.3" stroke-linecap="butt"><path d="M35.5,17.5 L40.7,11.6 M37.3,23 H42.8 M35.5,27.4 L40.7,33.8"/></g>
</svg></div>
<div class="mk b" style="left:382.6px;top:447px"><div class="in"></div><svg width="48" height="48" viewBox="0 0 48 48" style="position:absolute;left:0;top:0">
<g stroke="#2f3556" stroke-width="3.2" fill="none" stroke-linecap="butt">
<line x1="22.7" y1="19.5" x2="12.6" y2="41"/><line x1="26.9" y1="19.5" x2="37" y2="41"/>
</g>
<g stroke="#2f3556" stroke-width="2" fill="none">
<line x1="15.5" y1="38.4" x2="34" y2="38.4"/><line x1="18" y1="35" x2="28" y2="24"/><line x1="21.5" y1="24" x2="31.5" y2="35"/>
</g>
<rect x="9.3" y="40.2" width="6.4" height="3.3" rx="1" fill="#2f3556"/><rect x="33.5" y="40.2" width="6.4" height="3.3" rx="1" fill="#2f3556"/>
<path d="M21,8.5 Q17.5,16 23.5,19 Q28,21.5 32.3,19.3 Z" fill="#98a8ec" stroke="#5566b8" stroke-width="0.9"/>
<g stroke="#e04848" stroke-width="1.7" fill="none"><path d="M27.5,11.5 Q29.5,12.5 29.7,14.6"/><path d="M27.3,8.2 Q32.5,9 33,14.3"/></g>
</svg></div>
<div class="mk p" style="left:357px;top:501px"><div class="in"></div><svg width="48" height="48" viewBox="0 0 48 48" style="position:absolute;left:0;top:0">
<g stroke="#fff" opacity=".45"><path d="M35.5,17.5 L40.7,11.6 M37.3,23 H42.8 M35.5,27.4 L40.7,33.8" stroke-width="3.6" stroke-linecap="round"/></g>
<rect x="14.2" y="26" width="3.4" height="15" rx="1.6" fill="#ec5056"/>
<ellipse cx="10.3" cy="23" rx="1.6" ry="1.6" fill="#ec5056"/>
<rect x="11.4" y="17.8" width="6.8" height="10.4" rx="1.5" fill="#ec5056"/>
<rect x="12.5" y="21" width="4.8" height="3" fill="#f77a7e"/>
<path d="M18,17.6 L27,13.2 L27,32.8 L18,28.4 Z" fill="#eceef8" stroke="#8a96d0" stroke-width="0.5"/>
<rect x="26.3" y="12.4" width="5.2" height="21.2" rx="2.4" fill="#2f3556"/>
<rect x="31" y="21.6" width="2" height="2.8" rx="1" fill="#ec5056"/>
<g stroke="#ec5056" stroke-width="2.3" stroke-linecap="butt"><path d="M35.5,17.5 L40.7,11.6 M37.3,23 H42.8 M35.5,27.4 L40.7,33.8"/></g>
</svg></div>
<div class="mk b" style="left:410.4px;top:501px"><div class="in"></div><svg width="48" height="48" viewBox="0 0 48 48" style="position:absolute;left:0;top:0">
<g stroke="#fff" opacity=".45"><path d="M35.5,17.5 L40.7,11.6 M37.3,23 H42.8 M35.5,27.4 L40.7,33.8" stroke-width="3.6" stroke-linecap="round"/></g>
<rect x="14.2" y="26" width="3.4" height="15" rx="1.6" fill="#ec5056"/>
<ellipse cx="10.3" cy="23" rx="1.6" ry="1.6" fill="#ec5056"/>
<rect x="11.4" y="17.8" width="6.8" height="10.4" rx="1.5" fill="#ec5056"/>
<rect x="12.5" y="21" width="4.8" height="3" fill="#f77a7e"/>
<path d="M18,17.6 L27,13.2 L27,32.8 L18,28.4 Z" fill="#eceef8" stroke="#8a96d0" stroke-width="0.5"/>
<rect x="26.3" y="12.4" width="5.2" height="21.2" rx="2.4" fill="#2f3556"/>
<rect x="31" y="21.6" width="2" height="2.8" rx="1" fill="#ec5056"/>
<g stroke="#ec5056" stroke-width="2.3" stroke-linecap="butt"><path d="M35.5,17.5 L40.7,11.6 M37.3,23 H42.8 M35.5,27.4 L40.7,33.8"/></g>
</svg></div>
<div class="mk b" style="left:98px;top:605.5px"><div class="in"></div><svg width="48" height="48" viewBox="0 0 48 48" style="position:absolute;left:0;top:0">
<g stroke="#2f3556" stroke-width="3.2" fill="none" stroke-linecap="butt">
<line x1="22.7" y1="19.5" x2="12.6" y2="41"/><line x1="26.9" y1="19.5" x2="37" y2="41"/>
</g>
<g stroke="#2f3556" stroke-width="2" fill="none">
<line x1="15.5" y1="38.4" x2="34" y2="38.4"/><line x1="18" y1="35" x2="28" y2="24"/><line x1="21.5" y1="24" x2="31.5" y2="35"/>
</g>
<rect x="9.3" y="40.2" width="6.4" height="3.3" rx="1" fill="#2f3556"/><rect x="33.5" y="40.2" width="6.4" height="3.3" rx="1" fill="#2f3556"/>
<path d="M21,8.5 Q17.5,16 23.5,19 Q28,21.5 32.3,19.3 Z" fill="#98a8ec" stroke="#5566b8" stroke-width="0.9"/>
<g stroke="#e04848" stroke-width="1.7" fill="none"><path d="M27.5,11.5 Q29.5,12.5 29.7,14.6"/><path d="M27.3,8.2 Q32.5,9 33,14.3"/></g>
</svg></div>
<div class="mk p" style="left:72.5px;top:660.6px"><div class="in"></div><svg width="48" height="48" viewBox="0 0 48 48" style="position:absolute;left:0;top:0">
<g stroke="#fff" opacity=".45"><path d="M35.5,17.5 L40.7,11.6 M37.3,23 H42.8 M35.5,27.4 L40.7,33.8" stroke-width="3.6" stroke-linecap="round"/></g>
<rect x="14.2" y="26" width="3.4" height="15" rx="1.6" fill="#ec5056"/>
<ellipse cx="10.3" cy="23" rx="1.6" ry="1.6" fill="#ec5056"/>
<rect x="11.4" y="17.8" width="6.8" height="10.4" rx="1.5" fill="#ec5056"/>
<rect x="12.5" y="21" width="4.8" height="3" fill="#f77a7e"/>
<path d="M18,17.6 L27,13.2 L27,32.8 L18,28.4 Z" fill="#eceef8" stroke="#8a96d0" stroke-width="0.5"/>
<rect x="26.3" y="12.4" width="5.2" height="21.2" rx="2.4" fill="#2f3556"/>
<rect x="31" y="21.6" width="2" height="2.8" rx="1" fill="#ec5056"/>
<g stroke="#ec5056" stroke-width="2.3" stroke-linecap="butt"><path d="M35.5,17.5 L40.7,11.6 M37.3,23 H42.8 M35.5,27.4 L40.7,33.8"/></g>
</svg></div>
<div class="mk b" style="left:125.5px;top:660.6px"><div class="in"></div><svg width="48" height="48" viewBox="0 0 48 48" style="position:absolute;left:0;top:0">
<g stroke="#fff" opacity=".45"><path d="M35.5,17.5 L40.7,11.6 M37.3,23 H42.8 M35.5,27.4 L40.7,33.8" stroke-width="3.6" stroke-linecap="round"/></g>
<rect x="14.2" y="26" width="3.4" height="15" rx="1.6" fill="#ec5056"/>
<ellipse cx="10.3" cy="23" rx="1.6" ry="1.6" fill="#ec5056"/>
<rect x="11.4" y="17.8" width="6.8" height="10.4" rx="1.5" fill="#ec5056"/>
<rect x="12.5" y="21" width="4.8" height="3" fill="#f77a7e"/>
<path d="M18,17.6 L27,13.2 L27,32.8 L18,28.4 Z" fill="#eceef8" stroke="#8a96d0" stroke-width="0.5"/>
<rect x="26.3" y="12.4" width="5.2" height="21.2" rx="2.4" fill="#2f3556"/>
<rect x="31" y="21.6" width="2" height="2.8" rx="1" fill="#ec5056"/>
<g stroke="#ec5056" stroke-width="2.3" stroke-linecap="butt"><path d="M35.5,17.5 L40.7,11.6 M37.3,23 H42.8 M35.5,27.4 L40.7,33.8"/></g>
</svg></div>

<!-- panel -->
<svg id="tab" viewBox="0 0 125 21"><path d="M0,0 H107 L125,21 H0 Z" fill="#f25a5c"/></svg>
<div class="abs" style="left:829px;top:22.5px;font-size:12.5px;font-weight:bold;color:#fff;letter-spacing:.45px">Central Asia</div>
<div id="panel">
  <div class="box" style="top:16px;height:29px"><div class="t" style="top:7px;letter-spacing:-.2px">Basic</div><div class="pl" style="top:6px">+</div></div>
  <div class="box" style="top:51px;height:378.5px">
    <div class="sec" style="top:10px;letter-spacing:.45px">Area Information</div>
    <div class="row" style="top:33px"><svg class="ri" viewBox="0 0 24 24"><circle cx="8" cy="8" r="4" fill="#f5c08e"/><path d="M4,8 Q4,3 8,3 Q12,3 12,8 L11,6 L5,6 Z" fill="#3a4c94"/><path d="M1,22 Q1,13 8,13 Q13,13 13,22 Z" fill="#b9c2e8" stroke="#6c78b0" stroke-width=".6"/><circle cx="16" cy="9" r="4" fill="#f5c08e"/><path d="M12,9 Q12,4 16,4 Q20,4 20,9 L19,7 L13,7 Z" fill="#e8a84a"/><path d="M10,22 Q10,14 16,14 Q22,14 22,22 Z" fill="#b9c2e8" stroke="#6c78b0" stroke-width=".6"/></svg><div class="track" style="width:194px"></div><div class="fill" style="width:6.5px"></div><div class="num" style="right:12px">9997</div></div>
<div class="row" style="top:64px"><svg class="ri" viewBox="0 0 24 24"><rect x="10.5" y="9" width="3" height="13" rx="1.5" fill="#c9cfea" stroke="#6c78b0" stroke-width=".8"/><circle cx="12" cy="8" r="2" fill="#3a4c94"/><g fill="none" stroke="#3a4c94" stroke-width="1.6"><path d="M8,4 Q6,8 8,12"/><path d="M16,4 Q18,8 16,12"/><path d="M5,2 Q2,8 5,14"/><path d="M19,2 Q22,8 19,14"/></g></svg><div class="track" style="width:205px"></div><div class="fill" style="width:6.5px"></div><div class="num" style="right:12px">4%</div></div>
<div class="row" style="top:119px"><svg class="ri" viewBox="0 0 24 24"><path d="M3,8 Q3,5 7,5 L17,5 Q21,5 21,8 L23,17 Q23,20 20,20 Q18,20 16,16 L8,16 Q6,20 4,20 Q1,20 1,17 Z" fill="#5bb8f0" stroke="#2f6fa8" stroke-width=".8"/><rect x="5" y="9.5" width="6" height="2" fill="#e8474c"/><rect x="7" y="7.5" width="2" height="6" fill="#e8474c"/><circle cx="16" cy="9" r="1.2" fill="#f5d04a"/><circle cx="18" cy="11" r="1.2" fill="#6dd46d"/><circle cx="14" cy="11" r="1.2" fill="#9aa3f0"/></svg><div class="track" style="width:206px"></div><div class="fill" style="width:52px"></div><div class="num" style="right:14.6px">26</div></div>
<div class="row" style="top:149px"><svg class="ri" viewBox="0 0 24 24"><rect x="2" y="2" width="20" height="20" rx="3" fill="#4cc24c" stroke="#2e8a36" stroke-width=".8"/><path d="M15,6 H10 V11 H14 V17 H9" fill="none" stroke="#fff" stroke-width="2"/></svg><div class="track" style="width:206px"></div><div class="fill" style="width:62px"></div><div class="num" style="right:14.6px">31</div></div>
<div class="row" style="top:178.5px"><svg class="ri" viewBox="0 0 24 24"><circle cx="12.5" cy="11" r="9" fill="#ee4b4b"/><path d="M6,16 L4,22 L11,18 Z" fill="#ee4b4b"/><circle cx="9" cy="11" r="1.2" fill="#fff"/><circle cx="12.5" cy="11" r="1.2" fill="#fff"/><circle cx="16" cy="11" r="1.2" fill="#fff"/></svg><div class="track" style="width:206px"></div><div class="fill" style="width:38px"></div><div class="num" style="right:14.6px">19</div></div>
<div class="row" style="top:208px"><svg class="ri" viewBox="0 0 24 24"><rect x="1.5" y="2" width="21" height="20" rx="2" fill="#3b3f58"/><rect x="5" y="5" width="14" height="14" fill="#a98af0"/><path d="M10,8 L16,12 L10,16 Z" fill="#3b3f58"/><g fill="#a98af0"><rect x="2.5" y="4" width="1.5" height="2"/><rect x="2.5" y="9" width="1.5" height="2"/><rect x="2.5" y="14" width="1.5" height="2"/><rect x="20" y="4" width="1.5" height="2"/><rect x="20" y="9" width="1.5" height="2"/><rect x="20" y="14" width="1.5" height="2"/></g></svg><div class="track" style="width:206px"></div><div class="fill" style="width:48px"></div><div class="num" style="right:14.6px">24</div></div>
<div class="row" style="top:262.7px"><svg class="ri" viewBox="0 0 24 24"><ellipse cx="12" cy="12" rx="8.5" ry="10" fill="#fbe1cf" stroke="#d49a8a" stroke-width=".8"/><circle cx="9" cy="12" r="1.2" fill="#3b3f58"/><circle cx="15" cy="12" r="1.2" fill="#3b3f58"/><ellipse cx="12" cy="17" rx="3" ry="1.8" fill="#6cb8f0"/><path d="M12,4 Q10,6 12,7" fill="none" stroke="#7a7a8a" stroke-width=".8"/></svg><div class="track" style="width:206px"></div><div class="fill" style="width:48px"></div><div class="num" style="right:14.6px">24</div></div>
<div class="row" style="top:292.8px"><svg class="ri" viewBox="0 0 24 24"><ellipse cx="12" cy="13.5" rx="7.5" ry="8.5" fill="#f5b98b" stroke="#c77b62" stroke-width=".8"/><path d="M4,9 Q4,2 12,2 Q20,2 20,9 Z" fill="#e8383d"/><rect x="0.5" y="8" width="12" height="2.5" rx="1" fill="#e8383d"/><rect x="7" y="11" width="3" height="1.5" fill="#3a7ad0"/><rect x="14" y="11" width="3" height="1.5" fill="#3a7ad0"/></svg><div class="track" style="width:206px"></div><div class="fill" style="width:60px"></div><div class="num" style="right:14.6px">30</div></div>
<div class="row" style="top:323px"><svg class="ri" viewBox="0 0 24 24"><ellipse cx="12" cy="13.5" rx="8" ry="8.5" fill="#f5b98b" stroke="#c77b62" stroke-width=".8"/><path d="M3.5,12 Q3,2 12,2 Q21,2 20.5,12 L18,8 Q12,6 6,8 Z" fill="#2f3b7a"/><g fill="none" stroke="#2f3453" stroke-width="1"><circle cx="8.5" cy="12.5" r="2.3"/><circle cx="15.5" cy="12.5" r="2.3"/></g></svg><div class="track" style="width:206px"></div><div class="fill" style="width:46px"></div><div class="num" style="right:14.6px">23</div></div>
<div class="row" style="top:352.5px"><svg class="ri" viewBox="0 0 24 24"><ellipse cx="12" cy="13" rx="8" ry="9.5" fill="#f5c3a0" stroke="#c77b62" stroke-width=".8"/><path d="M4,14 Q3,4 8,4 L7,10 Z M20,14 Q21,4 16,4 L17,10 Z" fill="#c8cde0"/><path d="M9,17 Q12,19 15,17" fill="none" stroke="#a0604a" stroke-width=".8"/></svg><div class="track" style="width:206px"></div><div class="fill" style="width:46px"></div><div class="num" style="right:14.6px">23</div></div>
    <div class="sec" style="top:94.5px;letter-spacing:.28px">Preference</div>
    <div class="sec" style="top:239px;letter-spacing:.35px">Demographic</div>
  </div>
  <div class="box" style="top:443px;height:30px"><div class="t" style="top:6.5px;letter-spacing:.5px">Market Share</div><div class="pl" style="top:5.5px">+</div></div>
  <div class="box" style="top:484px;height:30px"><div class="t" style="top:6.5px;letter-spacing:.5px">Marketing Info</div><div class="pl" style="top:5.5px">+</div></div>
</div>
</body></html>
